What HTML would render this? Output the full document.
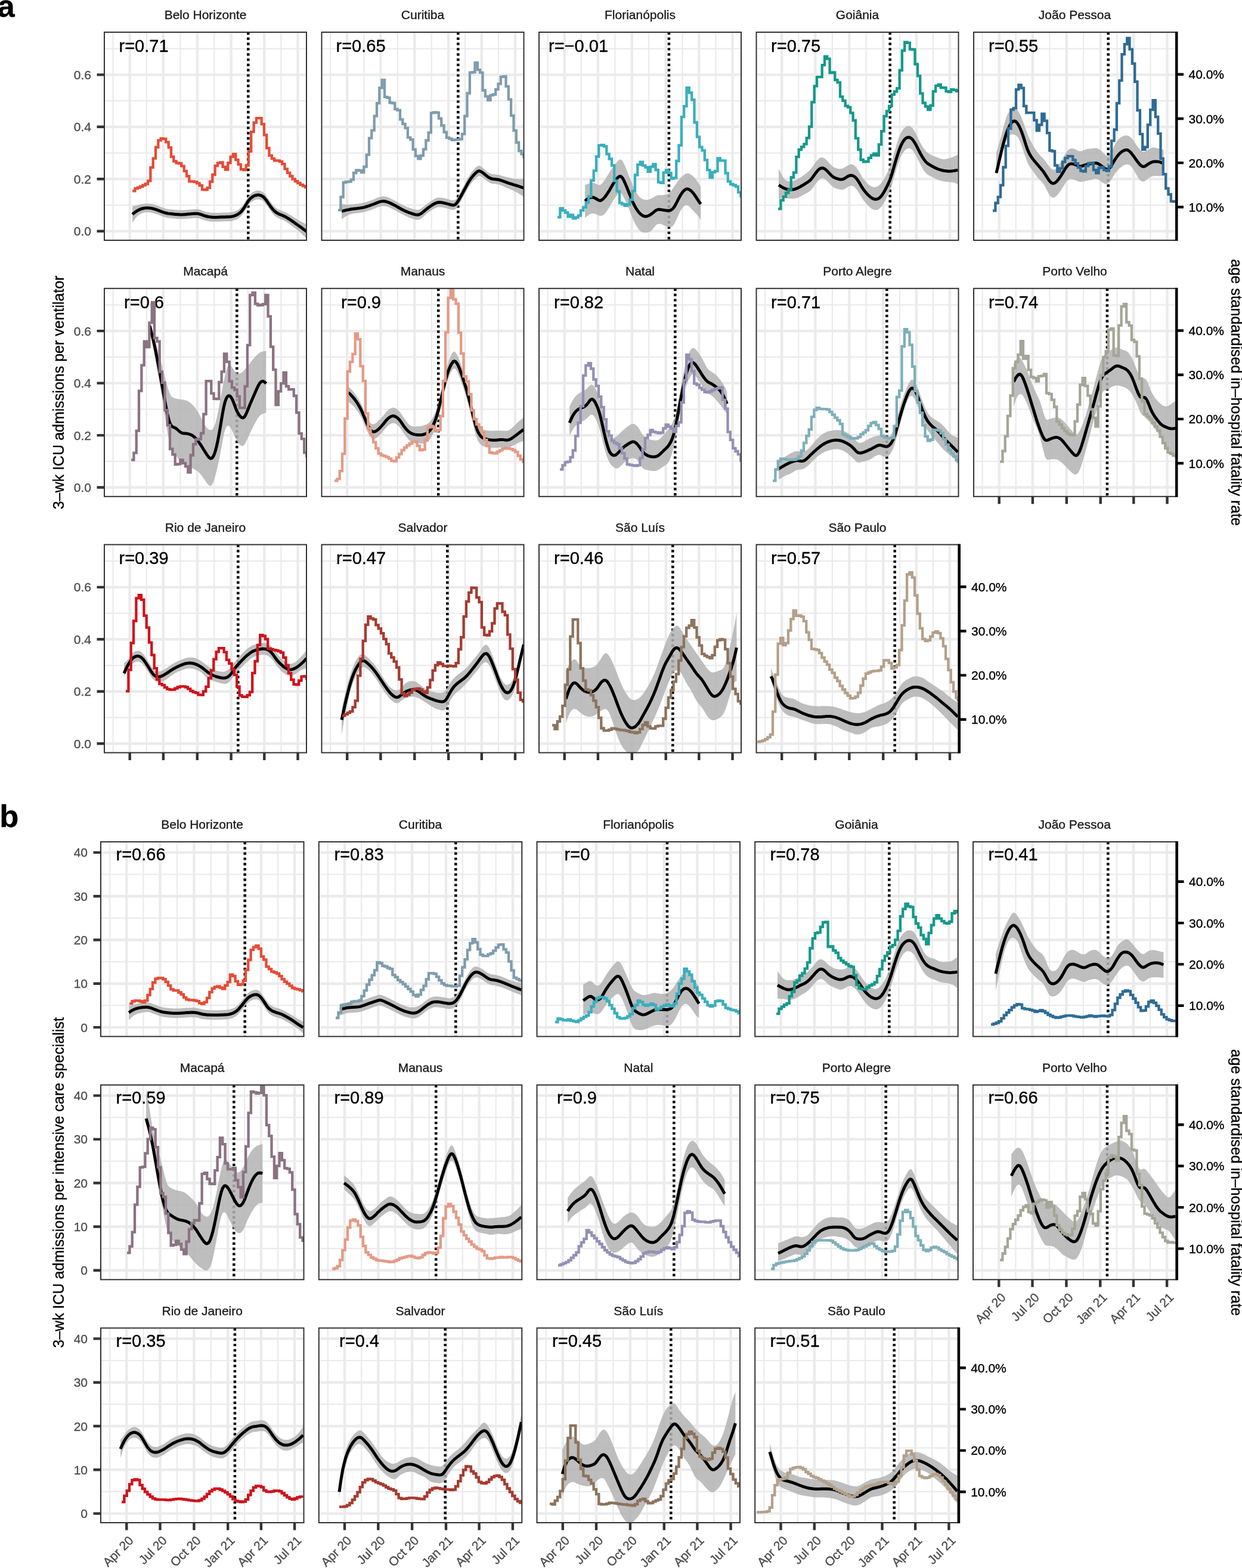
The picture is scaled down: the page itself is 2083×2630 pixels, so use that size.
<!DOCTYPE html>
<html><head><meta charset="utf-8"><title>figure</title>
<style>html,body{margin:0;padding:0;background:#fff;}svg{display:block}text{stroke-width:0.35px}</style></head>
<body><svg width="2083" height="2630" viewBox="0 0 2083 2630" style="font-family:'Liberation Sans',Arial,Helvetica,sans-serif">
<rect width="2083" height="2630" fill="#fff"/>
<g>
<rect x="175" y="54" width="339" height="349" fill="#fff"/>
<svg x="175" y="54" width="339" height="349" overflow="hidden"><g transform="translate(-175,-54)">
<path d="M175,344.1H514M175,256.6H514M175,169.1H514M175,81.6H514M189.6,54V403M245.8,54V403M302.4,54V403M359.2,54V403M415.5,54V403M471.4,54V403" stroke="#ebebeb" stroke-width="2.2" fill="none"/>
<path d="M175,387.8H514M175,300.3H514M175,212.8H514M175,125.4H514M217.7,54V403M273.9,54V403M330.8,54V403M387.6,54V403M443.3,54V403M499.5,54V403" stroke="#ebebeb" stroke-width="4.4" fill="none"/>
<text x="199.5" y="86.9" font-size="29" fill="#000" stroke="#000">r=0.71</text>
<path d="M416.3,54V403" stroke="#000" stroke-width="4.5" stroke-dasharray="4.2 4.6"/>
<path d="M222.1,345.8L224.1,345.4L226.1,345.1L228.1,344.7L230.1,344.3L232.1,343.8L234.1,343.3L236.1,342.8L238.1,342.4L240.1,342L242.1,341.8L244.1,341.6L246.1,341.4L248.1,341.4L250.1,341.5L252.1,341.7L254.1,342L256.1,342.4L258.1,343L260.1,343.6L262.1,344.3L264.1,345L266.1,345.7L268.1,346.5L270.1,347.2L272.1,348L274.1,348.7L276.1,349.3L278.1,349.9L280.1,350.3L282.1,350.7L284.1,350.9L286.1,351.2L288.1,351.4L290.1,351.6L292.1,351.8L294.1,352L296.1,352.1L298.1,352.3L300.2,352.4L302.2,352.5L304.2,352.5L306.2,352.5L308.2,352.4L310.2,352.3L312.2,352.1L314.2,351.9L316.2,351.7L318.2,351.6L320.2,351.4L322.2,351.2L324.2,351.1L326.2,350.9L328.2,350.9L330.2,350.9L332.2,351.1L334.2,351.5L336.2,352.1L338.2,352.8L340.2,353.5L342.2,354.2L344.2,354.9L346.2,355.4L348.2,355.9L350.2,356.2L352.2,356.5L354.2,356.8L356.2,356.9L358.2,357L360.2,357L362.2,357L364.2,357L366.2,356.9L368.2,356.8L370.2,356.7L372.2,356.7L374.2,356.6L376.2,356.5L378.2,356.5L380.2,356.4L382.2,356.4L384.3,356.3L386.3,356.1L388.3,355.8L390.3,355.4L392.3,354.9L394.3,354.2L396.3,353.4L398.3,352.4L400.3,351.2L402.3,349.6L404.3,347.8L406.3,345.4L408.3,342.7L410.3,339.7L412.3,336.3L414.3,333L416.3,329.8L418.3,327.3L420.3,325.2L422.3,323.6L424.3,322.2L426.3,321.1L428.3,320.3L430.3,319.8L432.3,319.6L434.3,319.7L436.3,320.1L438.3,320.7L440.3,321.8L442.3,323.4L444.3,325.5L446.3,328.1L448.3,331L450.3,333.9L452.3,336.8L454.3,339.6L456.3,342.3L458.3,344.6L460.3,346.6L462.3,348.3L464.3,349.7L466.4,350.8L468.4,351.8L470.4,352.6L472.4,353.4L474.4,354.2L476.4,355.1L478.4,356L480.4,357L482.4,358.1L484.4,359.2L486.4,360.4L488.4,361.6L490.4,362.8L492.4,364.1L494.4,365.3L496.4,366.6L498.4,367.8L500.4,368.9L502.4,370.1L504.4,371.2L506.4,372.3L508.4,373.4L510.4,374.4L512.4,375.4L514.4,376.4L514.4,400.4L512.4,398.4L510.4,396.3L508.4,394.4L506.4,392.5L504.4,390.7L502.4,389L500.4,387.4L498.4,385.8L496.4,384.2L494.4,382.6L492.4,381L490.4,379.4L488.4,377.9L486.4,376.4L484.4,375L482.4,373.6L480.4,372.3L478.4,371L476.4,369.9L474.4,369L472.4,368.2L470.4,367.4L468.4,366.6L466.4,365.6L464.3,364.5L462.3,363.1L460.3,361.4L458.3,359.4L456.3,357.1L454.3,354.5L452.3,351.6L450.3,348.7L448.3,345.8L446.3,343L444.3,340.4L442.3,338.2L440.3,336.6L438.3,335.6L436.3,334.9L434.3,334.5L432.3,334.4L430.3,334.6L428.3,335.1L426.3,335.9L424.3,337L422.3,338.4L420.3,340L418.3,342.1L416.3,344.7L414.3,347.8L412.3,351.2L410.3,354.5L408.3,357.5L406.3,360.3L404.3,362.6L402.3,364.5L400.3,366L398.3,367.2L396.3,368.2L394.3,369.1L392.3,369.7L390.3,370.3L388.3,370.7L386.3,370.9L384.3,371.1L382.2,371.2L380.2,371.2L378.2,371.3L376.2,371.3L374.2,371.4L372.2,371.5L370.2,371.6L368.2,371.6L366.2,371.7L364.2,371.8L362.2,371.8L360.2,371.8L358.2,371.8L356.2,371.7L354.2,371.6L352.2,371.4L350.2,371.1L348.2,370.7L346.2,370.2L344.2,369.7L342.2,369.1L340.2,368.4L338.2,367.6L336.2,366.9L334.2,366.3L332.2,365.9L330.2,365.7L328.2,365.7L326.2,365.7L324.2,365.9L322.2,366L320.2,366.2L318.2,366.4L316.2,366.6L314.2,366.7L312.2,366.9L310.2,367.1L308.2,367.2L306.2,367.3L304.2,367.3L302.2,367.3L300.2,367.2L298.1,367.1L296.1,366.9L294.1,366.8L292.1,366.6L290.1,366.4L288.1,366.2L286.1,366L284.1,365.8L282.1,365.5L280.1,365.1L278.1,364.7L276.1,364.1L274.1,363.5L272.1,362.8L270.1,362L268.1,361.3L266.1,360.5L264.1,359.8L262.1,359.1L260.1,358.4L258.1,357.8L256.1,357.3L254.1,356.8L252.1,356.5L250.1,356.2L248.1,356.1L246.1,356.1L244.1,356.2L242.1,356.5L240.1,356.9L238.1,357.6L236.1,358.4L234.1,359.6L232.1,361L230.1,362.8L228.1,364.9L226.1,367.5L224.1,370.4L222.1,373.4Z" fill="#b3b3b3" fill-opacity="0.85"/>
<path d="M222.1,359.4L224.1,357.8L226.1,356.2L228.1,354.8L230.1,353.5L232.1,352.4L234.1,351.4L236.1,350.6L238.1,350L240.1,349.5L242.1,349.1L244.1,348.9L246.1,348.8L248.1,348.8L250.1,348.9L252.1,349.1L254.1,349.4L256.1,349.9L258.1,350.4L260.1,351L262.1,351.7L264.1,352.4L266.1,353.1L268.1,353.9L270.1,354.6L272.1,355.4L274.1,356.1L276.1,356.7L278.1,357.3L280.1,357.7L282.1,358.1L284.1,358.4L286.1,358.6L288.1,358.8L290.1,359L292.1,359.2L294.1,359.4L296.1,359.5L298.1,359.7L300.2,359.8L302.2,359.9L304.2,359.9L306.2,359.9L308.2,359.8L310.2,359.7L312.2,359.5L314.2,359.3L316.2,359.1L318.2,359L320.2,358.8L322.2,358.6L324.2,358.5L326.2,358.3L328.2,358.3L330.2,358.3L332.2,358.5L334.2,358.9L336.2,359.5L338.2,360.2L340.2,360.9L342.2,361.7L344.2,362.3L346.2,362.8L348.2,363.3L350.2,363.6L352.2,363.9L354.2,364.2L356.2,364.3L358.2,364.4L360.2,364.4L362.2,364.4L364.2,364.4L366.2,364.3L368.2,364.2L370.2,364.1L372.2,364.1L374.2,364L376.2,363.9L378.2,363.9L380.2,363.8L382.2,363.8L384.3,363.7L386.3,363.5L388.3,363.2L390.3,362.9L392.3,362.3L394.3,361.7L396.3,360.8L398.3,359.8L400.3,358.6L402.3,357.1L404.3,355.2L406.3,352.8L408.3,350.1L410.3,347.1L412.3,343.8L414.3,340.4L416.3,337.2L418.3,334.7L420.3,332.6L422.3,331L424.3,329.6L426.3,328.5L428.3,327.7L430.3,327.2L432.3,327L434.3,327.1L436.3,327.5L438.3,328.2L440.3,329.2L442.3,330.8L444.3,333L446.3,335.5L448.3,338.4L450.3,341.3L452.3,344.2L454.3,347L456.3,349.7L458.3,352L460.3,354L462.3,355.7L464.3,357.1L466.4,358.2L468.4,359.2L470.4,360L472.4,360.8L474.4,361.6L476.4,362.5L478.4,363.5L480.4,364.6L482.4,365.8L484.4,367.1L486.4,368.4L488.4,369.8L490.4,371.1L492.4,372.5L494.4,374L496.4,375.4L498.4,376.8L500.4,378.2L502.4,379.6L504.4,381L506.4,382.4L508.4,383.9L510.4,385.4L512.4,386.9L514.4,388.4" stroke="#000" stroke-width="5" fill="none" stroke-linecap="butt" stroke-linejoin="round"/>
<path d="M222.1,320.3H226.4V316.2H230.7V314.6H235V312.8H239.4V310.7H243.7V308.5H248V303.4H252.4V280.9H256.7V265.6H261V247H265.4V235.4H269.7V232.5H274V232.9H278.3V238.4H282.7V247.3H287V263H291.3V270.5H295.7V273.5H300V274H304.3V278.6H308.7V286.9H313V295.5H317.3V304.3H321.6V304.3H326V305.2H330.3V307.4H334.6V311H339V317.9H343.3V318.3H347.6V315.1H352V304.7H356.3V293H360.6V278.2H364.9V273.4H369.3V272.3H373.6V279.8H377.9V284.5H382.3V273.2H386.6V262.8H390.9V258.5H395.3V268.2H399.6V275.9H403.9V284H408.2V285.1H412.6V277.4H416.9V253.9H421.2V221.2H425.6V205.7H429.9V198.2H434.2V198.2H438.6V208.1H442.9V226.3H447.2V248.3H451.5V260.8H455.9V266.2H460.2V269.3H464.5V269.3H468.9V270.8H473.2V275.1H477.5V283.4H481.9V289.9H486.2V295.5H490.5V300.3H494.8V304H499.2V307H503.5V309.8H507.8V312H512.2V314.2H514.4V315.3" stroke="#E64B35" stroke-width="4.3" fill="none" stroke-linejoin="miter"/>
</g></svg>
<rect x="175" y="54" width="339" height="349" fill="none" stroke="#333" stroke-width="2"/>
<text x="344.5" y="32.3" text-anchor="middle" font-size="21" fill="#1a1a1a" stroke="#1a1a1a">Belo Horizonte</text>
<text x="153" y="395.3" text-anchor="end" font-size="21" fill="#4d4d4d" stroke="#4d4d4d">0.0</text>
<text x="153" y="307.8" text-anchor="end" font-size="21" fill="#4d4d4d" stroke="#4d4d4d">0.2</text>
<text x="153" y="220.3" text-anchor="end" font-size="21" fill="#4d4d4d" stroke="#4d4d4d">0.4</text>
<text x="153" y="132.9" text-anchor="end" font-size="21" fill="#4d4d4d" stroke="#4d4d4d">0.6</text>
<path d="M162.5,387.8H175M162.5,300.3H175M162.5,212.8H175M162.5,125.4H175" stroke="#333" stroke-width="4.4"/>
</g>
<g>
<rect x="539.5" y="54" width="339" height="349" fill="#fff"/>
<svg x="539.5" y="54" width="339" height="349" overflow="hidden"><g transform="translate(-539.5,-54)">
<path d="M539.5,344.1H878.5M539.5,256.6H878.5M539.5,169.1H878.5M539.5,81.6H878.5M554.1,54V403M610.3,54V403M666.9,54V403M723.7,54V403M780,54V403M835.9,54V403" stroke="#ebebeb" stroke-width="2.2" fill="none"/>
<path d="M539.5,387.8H878.5M539.5,300.3H878.5M539.5,212.8H878.5M539.5,125.4H878.5M582.2,54V403M638.4,54V403M695.3,54V403M752.2,54V403M807.8,54V403M864,54V403" stroke="#ebebeb" stroke-width="4.4" fill="none"/>
<text x="563.5" y="86.9" font-size="29" fill="#000" stroke="#000">r=0.65</text>
<path d="M768.3,54V403" stroke="#000" stroke-width="4.5" stroke-dasharray="4.2 4.6"/>
<path d="M573,342.3L575,342.5L577,342.6L579,342.8L581.1,342.9L583.1,343L585.1,343L587.1,342.9L589.1,342.8L591.1,342.7L593.1,342.5L595.1,342.3L597.1,342.1L599.1,341.8L601.1,341.6L603.1,341.2L605.1,340.9L607.1,340.5L609.1,340.1L611.1,339.6L613.1,339L615.1,338.4L617.1,337.7L619.1,337.1L621.1,336.4L623.1,335.7L625.1,334.9L627.1,334.2L629.1,333.4L631.1,332.6L633.1,331.8L635.1,331L637.1,330.4L639.1,329.9L641.1,329.6L643.1,329.5L645.1,329.7L647.1,330L649.1,330.6L651.1,331.3L653.1,332.1L655.1,333L657.1,333.9L659.1,334.9L661.1,335.9L663.2,337L665.2,338.1L667.2,339.3L669.2,340.5L671.2,341.6L673.2,342.8L675.2,343.8L677.2,344.8L679.2,345.7L681.2,346.6L683.2,347.4L685.2,348.1L687.2,348.8L689.2,349.5L691.2,350.1L693.2,350.7L695.2,351.2L697.2,351.7L699.2,351.9L701.2,351.8L703.2,351.3L705.2,350.4L707.2,349.1L709.2,347.6L711.2,346L713.2,344.3L715.2,342.7L717.2,341.1L719.2,339.7L721.2,338.3L723.2,337L725.2,335.7L727.2,334.5L729.2,333.5L731.2,332.5L733.2,331.8L735.2,331.4L737.2,331.2L739.2,331.4L741.2,331.7L743.2,332.1L745.2,332.6L747.3,333.1L749.3,333.6L751.3,334.1L753.3,334.7L755.3,335.2L757.3,335.7L759.3,336L761.3,335.9L763.3,335.2L765.3,333.5L767.3,330.8L769.3,327.5L771.3,324L773.3,320.3L775.3,316.6L777.3,312.8L779.3,308.9L781.3,305L783.3,301.1L785.3,297.4L787.3,294.1L789.3,291.1L791.3,288.4L793.3,285.9L795.3,283.6L797.3,281.5L799.3,279.7L801.3,278.4L803.3,277.9L805.3,278.3L807.3,279.5L809.3,281.2L811.3,283L813.3,284.7L815.3,286.4L817.3,288L819.3,289.4L821.3,290.5L823.3,291.4L825.3,292L827.3,292.3L829.3,292.6L831.4,292.7L833.4,292.9L835.4,293.2L837.4,293.6L839.4,294.1L841.4,294.7L843.4,295.3L845.4,295.9L847.4,296.5L849.4,297L851.4,297.5L853.4,298L855.4,298.4L857.4,298.8L859.4,299.2L861.4,299.5L863.4,299.9L865.4,300.1L867.4,300.3L869.4,300.4L871.4,300.5L873.4,300.5L875.4,300.4L877.4,300.3L878.4,300.3L878.4,330.3L877.4,329.6L875.4,328.2L873.4,326.8L871.4,325.4L869.4,324.2L867.4,323L865.4,321.9L863.4,320.9L861.4,320L859.4,319.1L857.4,318.2L855.4,317.4L853.4,316.6L851.4,315.7L849.4,314.8L847.4,313.9L845.4,313L843.4,312.1L841.4,311.2L839.4,310.4L837.4,309.7L835.4,309.2L833.4,308.9L831.4,308.6L829.3,308.5L827.3,308.3L825.3,308L823.3,307.4L821.3,306.5L819.3,305.3L817.3,303.9L815.3,302.3L813.3,300.7L811.3,299.1L809.3,297.6L807.3,296.3L805.3,295.6L803.3,295.6L801.3,296.4L799.3,297.8L797.3,299.7L795.3,301.8L793.3,304.1L791.3,306.5L789.3,309.1L787.3,312L785.3,315.1L783.3,318.6L781.3,322.2L779.3,325.9L777.3,329.5L775.3,333.1L773.3,336.7L771.3,340.2L769.3,343.6L767.3,346.8L765.3,349.5L763.3,351.2L761.3,352L759.3,352L757.3,351.7L755.3,351.2L753.3,350.7L751.3,350.1L749.3,349.6L747.3,349.1L745.2,348.6L743.2,348.1L741.2,347.7L739.2,347.4L737.2,347.3L735.2,347.4L733.2,347.9L731.2,348.5L729.2,349.4L727.2,350.5L725.2,351.7L723.2,353L721.2,354.3L719.2,355.7L717.2,357.2L715.2,358.9L713.2,360.6L711.2,362.5L709.2,364.2L707.2,365.9L705.2,367.2L703.2,368.2L701.2,368.7L699.2,368.7L697.2,368.4L695.2,367.9L693.2,367.3L691.2,366.7L689.2,365.9L687.2,365.2L685.2,364.4L683.2,363.6L681.2,362.7L679.2,361.8L677.2,360.8L675.2,359.8L673.2,358.7L671.2,357.6L669.2,356.4L667.2,355.3L665.2,354.1L663.2,353L661.1,351.9L659.1,350.9L657.1,349.9L655.1,349L653.1,348.1L651.1,347.3L649.1,346.6L647.1,346.1L645.1,345.7L643.1,345.5L641.1,345.6L639.1,345.9L637.1,346.4L635.1,347L633.1,347.8L631.1,348.6L629.1,349.4L627.1,350.2L625.1,351L623.1,351.7L621.1,352.4L619.1,353.1L617.1,353.8L615.1,354.4L613.1,355L611.1,355.6L609.1,356.1L607.1,356.5L605.1,356.8L603.1,357L601.1,357.2L599.1,357.4L597.1,357.5L595.1,357.7L593.1,358L591.1,358.4L589.1,358.8L587.1,359.5L585.1,360.3L583.1,361.3L581.1,362.4L579,363.5L577,364.8L575,366.1L573,367.4Z" fill="#b3b3b3" fill-opacity="0.85"/>
<path d="M573,354.4L575,353.9L577,353.4L579,352.9L581.1,352.4L583.1,352L585.1,351.6L587.1,351.2L589.1,350.8L591.1,350.6L593.1,350.3L595.1,350.1L597.1,349.9L599.1,349.6L601.1,349.4L603.1,349.1L605.1,348.8L607.1,348.5L609.1,348.1L611.1,347.6L613.1,347L615.1,346.4L617.1,345.7L619.1,345.1L621.1,344.4L623.1,343.7L625.1,343L627.1,342.2L629.1,341.4L631.1,340.6L633.1,339.8L635.1,339L637.1,338.4L639.1,337.9L641.1,337.6L643.1,337.5L645.1,337.7L647.1,338L649.1,338.6L651.1,339.3L653.1,340.1L655.1,341L657.1,341.9L659.1,342.9L661.1,343.9L663.2,345L665.2,346.1L667.2,347.3L669.2,348.5L671.2,349.6L673.2,350.7L675.2,351.8L677.2,352.8L679.2,353.8L681.2,354.6L683.2,355.5L685.2,356.3L687.2,357L689.2,357.7L691.2,358.4L693.2,359L695.2,359.6L697.2,360L699.2,360.3L701.2,360.3L703.2,359.8L705.2,358.8L707.2,357.5L709.2,355.9L711.2,354.2L713.2,352.5L715.2,350.8L717.2,349.2L719.2,347.7L721.2,346.3L723.2,345L725.2,343.7L727.2,342.5L729.2,341.4L731.2,340.5L733.2,339.8L735.2,339.4L737.2,339.3L739.2,339.4L741.2,339.7L743.2,340.1L745.2,340.6L747.3,341.1L749.3,341.6L751.3,342.1L753.3,342.7L755.3,343.2L757.3,343.7L759.3,344L761.3,344L763.3,343.2L765.3,341.5L767.3,338.8L769.3,335.6L771.3,332.1L773.3,328.5L775.3,324.8L777.3,321.1L779.3,317.4L781.3,313.6L783.3,309.8L785.3,306.3L787.3,303L789.3,300.1L791.3,297.5L793.3,295L795.3,292.7L797.3,290.6L799.3,288.8L801.3,287.4L803.3,286.7L805.3,286.9L807.3,287.9L809.3,289.4L811.3,291L813.3,292.7L815.3,294.3L817.3,295.9L819.3,297.4L821.3,298.5L823.3,299.4L825.3,300L827.3,300.3L829.3,300.5L831.4,300.7L833.4,300.9L835.4,301.2L837.4,301.7L839.4,302.3L841.4,302.9L843.4,303.7L845.4,304.4L847.4,305.2L849.4,305.9L851.4,306.6L853.4,307.3L855.4,307.9L857.4,308.5L859.4,309.1L861.4,309.8L863.4,310.4L865.4,311L867.4,311.6L869.4,312.3L871.4,313L873.4,313.6L875.4,314.3L877.4,315L878.4,315.3" stroke="#000" stroke-width="5" fill="none" stroke-linecap="butt" stroke-linejoin="round"/>
<path d="M567,352.4H571.4V330.5H575.7V306H580V305H584.4V304.5H588.7V301.4H593V290H597.3V285.5H601.7V286H606V289.2H610.3V279.7H614.7V259.7H619V231.6H623.3V218.6H627.7V194.7H632V173.2H636.3V147.4H640.6V134.1H645V162.6H649.3V163.9H653.6V172.4H658V173H662.3V183H666.6V184.9H671V200.4H675.3V207.9H679.6V214.7H683.9V230.6H688.3V234.2H692.6V250.7H696.9V261.7H701.3V266.3H705.6V261H709.9V250.3H714.3V235.5H718.6V222.4H722.9V189.4H727.2V188.4H731.6V188.8H735.9V198.7H740.2V210.5H744.6V221.7H748.9V230.9H753.2V232.7H757.6V234.9H761.9V234.3H766.2V234.2H770.5V233.4H774.9V224.6H779.2V194.7H783.5V156.4H787.9V121.7H792.2V121.1H796.5V105.1H800.9V117.1H805.2V121.8H809.5V151.5H813.8V161.6H818.2V168.1H822.5V159.6H826.8V158.5H831.2V149.9H835.5V140.7H839.8V128.8H844.2V128.1H848.5V144.8H852.8V166.7H857.1V193.8H861.5V218.9H865.8V239H870.1V253.2H874.5V258.4H878.4V265.3" stroke="#7E9DAD" stroke-width="4.3" fill="none" stroke-linejoin="miter"/>
</g></svg>
<rect x="539.5" y="54" width="339" height="349" fill="none" stroke="#333" stroke-width="2"/>
<text x="709" y="32.3" text-anchor="middle" font-size="21" fill="#1a1a1a" stroke="#1a1a1a">Curitiba</text>
</g>
<g>
<rect x="904" y="54" width="339" height="349" fill="#fff"/>
<svg x="904" y="54" width="339" height="349" overflow="hidden"><g transform="translate(-904,-54)">
<path d="M904,344.1H1243M904,256.6H1243M904,169.1H1243M904,81.6H1243M918.6,54V403M974.8,54V403M1031.4,54V403M1088.2,54V403M1144.5,54V403M1200.4,54V403" stroke="#ebebeb" stroke-width="2.2" fill="none"/>
<path d="M904,387.8H1243M904,300.3H1243M904,212.8H1243M904,125.4H1243M946.7,54V403M1002.9,54V403M1059.8,54V403M1116.7,54V403M1172.3,54V403M1228.5,54V403" stroke="#ebebeb" stroke-width="4.4" fill="none"/>
<text x="920.1" y="86.9" font-size="29" fill="#000" stroke="#000">r=−0.01</text>
<path d="M1121.9,54V403" stroke="#000" stroke-width="4.5" stroke-dasharray="4.2 4.6"/>
<path d="M981.1,310.3L983.1,309.5L985.1,308.7L987.1,308L989.1,307.3L991.1,306.8L993.1,306.6L995.1,306.8L997.1,307.3L999.1,308.1L1001.1,309.1L1003.1,310L1005.1,310.4L1007.1,309.8L1009.1,308.2L1011.1,305.9L1013.1,303.2L1015.1,300.2L1017.1,297.2L1019.1,294L1021.1,290.9L1023.1,287.7L1025.1,284.6L1027.2,281.6L1029.2,278.7L1031.2,276L1033.2,273.4L1035.2,271L1037.2,268.9L1039.2,267.7L1041.2,267.6L1043.2,269L1045.2,271.9L1047.2,275.9L1049.2,280.5L1051.2,285.5L1053.2,290.7L1055.2,295.9L1057.2,301.1L1059.2,306.1L1061.2,310.8L1063.2,315.1L1065.2,319.1L1067.2,322.7L1069.2,325.9L1071.2,328.7L1073.2,330.9L1075.2,332.5L1077.2,333.7L1079.2,334.5L1081.2,335L1083.2,335.2L1085.2,335.2L1087.2,334.9L1089.2,334.3L1091.2,333.6L1093.2,332.6L1095.2,331.5L1097.2,330.2L1099.2,329L1101.2,328.1L1103.2,327.4L1105.2,327.2L1107.2,327.2L1109.2,327.3L1111.3,327.3L1113.3,327.1L1115.3,326.8L1117.3,326.4L1119.3,325.7L1121.3,324.5L1123.3,322.8L1125.3,320.5L1127.3,317.8L1129.3,314.9L1131.3,312L1133.3,309.1L1135.3,306.3L1137.3,303.6L1139.3,301L1141.3,298.6L1143.3,296.4L1145.3,294.5L1147.3,292.9L1149.3,291.7L1151.3,290.9L1153.3,290.7L1155.3,291.1L1157.3,291.9L1159.3,293.2L1161.3,294.7L1163.3,296.5L1165.3,298.7L1167.3,301.2L1169.3,304L1171.3,306.9L1173.3,310.1L1175.3,313.3L1175.3,369.4L1173.3,366.1L1171.3,363.1L1169.3,360.5L1167.3,358.3L1165.3,356.2L1163.3,354.2L1161.3,352L1159.3,349.7L1157.3,347.5L1155.3,345.6L1153.3,344.4L1151.3,344L1149.3,344.5L1147.3,345.8L1145.3,347.7L1143.3,350.4L1141.3,353.7L1139.3,357.6L1137.3,362L1135.3,366.6L1133.3,371L1131.3,374.9L1129.3,377.9L1127.3,379.9L1125.3,380.9L1123.3,381.2L1121.3,381L1119.3,380.4L1117.3,379.6L1115.3,378.7L1113.3,377.8L1111.3,377L1109.2,376.3L1107.2,375.6L1105.2,375.4L1103.2,375.7L1101.2,376.8L1099.2,378.7L1097.2,381.2L1095.2,383.7L1093.2,385.9L1091.2,387.7L1089.2,388.9L1087.2,389.6L1085.2,390.1L1083.2,390.3L1081.2,390.2L1079.2,389.9L1077.2,389.3L1075.2,388.4L1073.2,386.8L1071.2,384.7L1069.2,382.1L1067.2,378.8L1065.2,375.2L1063.2,371.2L1061.2,366.7L1059.2,361.7L1057.2,356.4L1055.2,351.2L1053.2,346.3L1051.2,341.7L1049.2,337.4L1047.2,333.3L1045.2,329.4L1043.2,326.1L1041.2,324.1L1039.2,323.8L1037.2,324.9L1035.2,326.9L1033.2,329.3L1031.2,332.1L1029.2,335.1L1027.2,338.5L1025.1,342L1023.1,345.5L1021.1,348.9L1019.1,352.1L1017.1,355L1015.1,357.7L1013.1,359.8L1011.1,361.2L1009.1,362L1007.1,362.1L1005.1,361.7L1003.1,361L1001.1,360L999.1,359.1L997.1,358.3L995.1,357.9L993.1,357.9L991.1,358.4L989.1,359.4L987.1,360.7L985.1,362.2L983.1,363.7L981.1,365.4Z" fill="#b3b3b3" fill-opacity="0.85"/>
<path d="M981.1,337.3L983.1,335.5L985.1,333.9L987.1,332.6L989.1,331.6L991.1,331L993.1,330.8L995.1,331.1L997.1,331.9L999.1,332.9L1001.1,334.2L1003.1,335.5L1005.1,336.3L1007.1,336.4L1009.1,335.6L1011.1,334.1L1013.1,332L1015.1,329.6L1017.1,326.9L1019.1,323.9L1021.1,320.8L1023.1,317.4L1025.1,313.9L1027.2,310.4L1029.2,307.1L1031.2,304.1L1033.2,301.3L1035.2,298.9L1037.2,296.9L1039.2,295.7L1041.2,295.8L1043.2,297.6L1045.2,300.7L1047.2,304.7L1049.2,309.2L1051.2,313.9L1053.2,318.9L1055.2,324L1057.2,329.1L1059.2,334.1L1061.2,338.8L1063.2,343L1065.2,346.8L1067.2,350.2L1069.2,353.2L1071.2,355.8L1073.2,358.1L1075.2,359.9L1077.2,361.3L1079.2,362.3L1081.2,362.9L1083.2,363L1085.2,362.7L1087.2,362L1089.2,361L1091.2,359.8L1093.2,358.4L1095.2,356.8L1097.2,355.1L1099.2,353.5L1101.2,352.3L1103.2,351.5L1105.2,351.3L1107.2,351.4L1109.2,351.8L1111.3,352.1L1113.3,352.5L1115.3,352.8L1117.3,353.1L1119.3,353.3L1121.3,353.3L1123.3,353L1125.3,352.3L1127.3,351L1129.3,349L1131.3,346.2L1133.3,342.7L1135.3,338.8L1137.3,334.8L1139.3,330.9L1141.3,327.4L1143.3,324.3L1145.3,321.6L1147.3,319.5L1149.3,318L1151.3,317.1L1153.3,317L1155.3,317.6L1157.3,318.8L1159.3,320.4L1161.3,322.5L1163.3,324.8L1165.3,327.5L1167.3,330.5L1169.3,333.6L1171.3,336.7L1173.3,339.5L1175.3,342.3" stroke="#000" stroke-width="5" fill="none" stroke-linecap="butt" stroke-linejoin="round"/>
<path d="M935,364.4H939.4V349.4H943.7V352.9H948V356.5H952.4V363.4H956.7V360.5H961V366.3H965.3V364.7H969.7V361.7H974V352.9H978.3V347.6H982.7V339.6H987V329.5H991.3V302.7H995.7V286.4H1000V262.6H1004.3V243.8H1008.6V243.2H1013V245.5H1017.3V258.4H1021.6V266.5H1026V277.5H1030.3V303.4H1034.6V320.8H1039V340.3H1043.3V342.5H1047.6V345H1051.9V343H1056.3V335.1H1060.6V320.4H1064.9V293.5H1069.3V276.2H1073.6V271.6H1077.9V277.6H1082.3V280.7H1086.6V287.9H1090.9V279.6H1095.2V275.3H1099.6V285H1103.9V305.7H1108.2V306.8H1112.6V289.4H1116.9V285.3H1121.2V290.2H1125.6V299.7H1129.9V298.3H1134.2V270H1138.5V243.7H1142.9V196.1H1147.2V178.2H1151.5V147.1H1155.9V155.5H1160.2V167.4H1164.5V205.5H1168.9V229.6H1173.2V246.7H1177.5V252.4H1181.8V268.3H1186.2V285.1H1190.5V297.8H1194.8V288.8H1199.2V286.9H1203.5V265.3H1207.8V269.3H1212.2V269.3H1216.5V290.3H1220.8V304.3H1225.1V309H1229.5V310.5H1233.8V313.2H1238.1V322.6H1242.4V331.3" stroke="#38AFBD" stroke-width="4.3" fill="none" stroke-linejoin="miter"/>
</g></svg>
<rect x="904" y="54" width="339" height="349" fill="none" stroke="#333" stroke-width="2"/>
<text x="1073.5" y="32.3" text-anchor="middle" font-size="21" fill="#1a1a1a" stroke="#1a1a1a">Florianópolis</text>
</g>
<g>
<rect x="1268.5" y="54" width="339" height="349" fill="#fff"/>
<svg x="1268.5" y="54" width="339" height="349" overflow="hidden"><g transform="translate(-1268.5,-54)">
<path d="M1268.5,344.1H1607.5M1268.5,256.6H1607.5M1268.5,169.1H1607.5M1268.5,81.6H1607.5M1283.1,54V403M1339.3,54V403M1395.9,54V403M1452.7,54V403M1509,54V403M1564.9,54V403" stroke="#ebebeb" stroke-width="2.2" fill="none"/>
<path d="M1268.5,387.8H1607.5M1268.5,300.3H1607.5M1268.5,212.8H1607.5M1268.5,125.4H1607.5M1311.2,54V403M1367.4,54V403M1424.3,54V403M1481.2,54V403M1536.8,54V403M1593,54V403" stroke="#ebebeb" stroke-width="4.4" fill="none"/>
<text x="1293.1" y="86.9" font-size="29" fill="#000" stroke="#000">r=0.75</text>
<path d="M1492.7,54V403" stroke="#000" stroke-width="4.5" stroke-dasharray="4.2 4.6"/>
<path d="M1306,283.3L1308.1,287.3L1310.1,291.2L1312.1,294.8L1314.1,298L1316.1,300.6L1318.1,302.4L1320.1,303.4L1322.1,304L1324.1,304.2L1326.1,304.2L1328.1,304L1330.1,303.6L1332.1,303L1334.1,302.2L1336.1,301.2L1338.1,300.1L1340.1,299L1342.1,297.8L1344.1,296.5L1346.1,295.1L1348.1,293.7L1350.1,292.2L1352.1,290.7L1354.1,289L1356.1,287.3L1358.1,285.3L1360.1,283L1362.1,280.5L1364.1,277.7L1366.1,274.8L1368.1,272.1L1370.1,269.5L1372.1,267.4L1374.1,265.6L1376.1,264.4L1378.1,263.9L1380.1,264.2L1382.1,265.2L1384.1,266.6L1386.1,268.5L1388.1,270.5L1390.1,272.8L1392.2,275L1394.2,277.1L1396.2,278.9L1398.2,280.3L1400.2,281.4L1402.2,282.2L1404.2,282.7L1406.2,283.1L1408.2,283.3L1410.2,283.1L1412.2,282.7L1414.2,282L1416.2,281L1418.2,279.8L1420.2,278.6L1422.2,277.4L1424.2,276.5L1426.2,275.8L1428.2,275.5L1430.2,275.9L1432.2,276.9L1434.2,278.7L1436.2,280.9L1438.2,283.7L1440.2,286.8L1442.2,290.3L1444.2,293.7L1446.2,297L1448.2,299.9L1450.2,302.6L1452.2,305L1454.2,307.2L1456.2,309.1L1458.2,310.7L1460.2,312.1L1462.2,313.1L1464.2,313.7L1466.2,314L1468.2,313.8L1470.2,313.2L1472.2,312.2L1474.2,310.8L1476.3,308.9L1478.3,306.5L1480.3,303.6L1482.3,300.4L1484.3,296.9L1486.3,293.2L1488.3,289.2L1490.3,284.9L1492.3,280.1L1494.3,274.6L1496.3,268.3L1498.3,261.5L1500.3,254.4L1502.3,247.5L1504.3,240.8L1506.3,234.5L1508.3,228.9L1510.3,224.1L1512.3,220.3L1514.3,217.3L1516.3,215.1L1518.3,213.5L1520.3,212.2L1522.3,211.5L1524.3,211.3L1526.3,211.8L1528.3,213L1530.3,215L1532.3,217.5L1534.3,220.7L1536.3,224.5L1538.3,228.6L1540.3,232.9L1542.3,236.9L1544.3,240.7L1546.3,244.2L1548.3,247.4L1550.3,250.3L1552.3,252.8L1554.3,254.9L1556.3,256.6L1558.4,258L1560.4,259.1L1562.4,260.2L1564.4,261.2L1566.4,262L1568.4,262.8L1570.4,263.6L1572.4,264.3L1574.4,265L1576.4,265.7L1578.4,266.3L1580.4,266.8L1582.4,267L1584.4,267L1586.4,266.8L1588.4,266.3L1590.4,265.8L1592.4,265.2L1594.4,264.6L1596.4,263.9L1598.4,263.1L1600.4,262.2L1602.4,261.3L1604.4,260.3L1606.4,259.2L1606.4,309.3L1604.4,308.2L1602.4,307.3L1600.4,306.5L1598.4,306L1596.4,305.7L1594.4,305.5L1592.4,305.3L1590.4,305.1L1588.4,305L1586.4,304.8L1584.4,304.5L1582.4,304.2L1580.4,303.8L1578.4,303.3L1576.4,302.7L1574.4,302L1572.4,301.2L1570.4,300.4L1568.4,299.4L1566.4,298.4L1564.4,297.4L1562.4,296.4L1560.4,295.4L1558.4,294.4L1556.3,293.2L1554.3,291.8L1552.3,289.8L1550.3,287.2L1548.3,284.1L1546.3,280.6L1544.3,277L1542.3,273.1L1540.3,269.2L1538.3,265.1L1536.3,261.2L1534.3,257.6L1532.3,254.6L1530.3,252L1528.3,250.1L1526.3,248.9L1524.3,248.5L1522.3,248.9L1520.3,250L1518.3,251.6L1516.3,253.7L1514.3,256.4L1512.3,259.8L1510.3,264L1508.3,268.9L1506.3,274.7L1504.3,280.9L1502.3,287.5L1500.3,294.5L1498.3,301.5L1496.3,308.4L1494.3,314.6L1492.3,320.1L1490.3,325L1488.3,329.3L1486.3,333.2L1484.3,337L1482.3,340.5L1480.3,343.8L1478.3,346.6L1476.3,348.8L1474.2,350.5L1472.2,351.6L1470.2,352.2L1468.2,352.3L1466.2,352L1464.2,351.3L1462.2,350.2L1460.2,348.8L1458.2,347.1L1456.2,345.2L1454.2,343.2L1452.2,341L1450.2,338.6L1448.2,335.9L1446.2,333L1444.2,329.8L1442.2,326.3L1440.2,322.9L1438.2,319.7L1436.2,317L1434.2,314.7L1432.2,313L1430.2,311.9L1428.2,311.6L1426.2,311.8L1424.2,312.5L1422.2,313.5L1420.2,314.7L1418.2,315.9L1416.2,317.1L1414.2,317.9L1412.2,318.2L1410.2,318.1L1408.2,317.8L1406.2,317.3L1404.2,316.7L1402.2,316.1L1400.2,315.3L1398.2,314.3L1396.2,312.9L1394.2,311.2L1392.2,309L1390.1,306.8L1388.1,304.6L1386.1,302.6L1384.1,300.9L1382.1,299.7L1380.1,299L1378.1,299L1376.1,299.7L1374.1,301.2L1372.1,303.2L1370.1,305.5L1368.1,308.2L1366.1,311L1364.1,313.9L1362.1,316.6L1360.1,318.9L1358.1,320.7L1356.1,322.1L1354.1,323.3L1352.1,324.3L1350.1,325.4L1348.1,326.4L1346.1,327.5L1344.1,328.6L1342.1,329.6L1340.1,330.6L1338.1,331.5L1336.1,332.2L1334.1,332.7L1332.1,333.1L1330.1,333.3L1328.1,333.3L1326.1,333.3L1324.1,333.1L1322.1,332.9L1320.1,332.7L1318.1,332.5L1316.1,332.5L1314.1,332.5L1312.1,332.6L1310.1,332.8L1308.1,333.1L1306,333.3Z" fill="#b3b3b3" fill-opacity="0.85"/>
<path d="M1306,310.3L1308.1,311.6L1310.1,312.9L1312.1,314.1L1314.1,315.2L1316.1,316.1L1318.1,316.9L1320.1,317.5L1322.1,317.9L1324.1,318.1L1326.1,318.2L1328.1,318.1L1330.1,317.9L1332.1,317.5L1334.1,316.9L1336.1,316.2L1338.1,315.3L1340.1,314.3L1342.1,313.2L1344.1,312L1346.1,310.8L1348.1,309.6L1350.1,308.3L1352.1,307.1L1354.1,305.9L1356.1,304.5L1358.1,302.9L1360.1,300.9L1362.1,298.5L1364.1,295.8L1366.1,292.9L1368.1,290.1L1370.1,287.6L1372.1,285.4L1374.1,283.7L1376.1,282.4L1378.1,281.8L1380.1,281.9L1382.1,282.7L1384.1,283.9L1386.1,285.6L1388.1,287.5L1390.1,289.8L1392.2,292L1394.2,294.1L1396.2,295.9L1398.2,297.3L1400.2,298.3L1402.2,299.1L1404.2,299.7L1406.2,300.3L1408.2,300.7L1410.2,301L1412.2,300.9L1414.2,300.4L1416.2,299.5L1418.2,298.2L1420.2,296.8L1422.2,295.6L1424.2,294.8L1426.2,294.3L1428.2,294.3L1430.2,294.7L1432.2,295.7L1434.2,297.2L1436.2,299.2L1438.2,301.8L1440.2,304.8L1442.2,308.3L1444.2,311.7L1446.2,315L1448.2,317.9L1450.2,320.5L1452.2,322.9L1454.2,325.2L1456.2,327.2L1458.2,329.1L1460.2,330.8L1462.2,332.2L1464.2,333.3L1466.2,334L1468.2,334.3L1470.2,334.1L1472.2,333.6L1474.2,332.5L1476.3,330.8L1478.3,328.6L1480.3,325.8L1482.3,322.5L1484.3,319L1486.3,315.2L1488.3,311.2L1490.3,306.9L1492.3,302.1L1494.3,296.6L1496.3,290.3L1498.3,283.5L1500.3,276.5L1502.3,269.5L1504.3,262.9L1506.3,256.7L1508.3,250.9L1510.3,245.8L1512.3,241.5L1514.3,237.9L1516.3,235L1518.3,232.7L1520.3,231.2L1522.3,230.4L1524.3,230.2L1526.3,230.8L1528.3,232.1L1530.3,234L1532.3,236.6L1534.3,239.6L1536.3,243.2L1538.3,247.1L1540.3,251.1L1542.3,255L1544.3,258.7L1546.3,262.2L1548.3,265.4L1550.3,268.3L1552.3,270.9L1554.3,272.9L1556.3,274.6L1558.4,275.9L1560.4,277.1L1562.4,278.3L1564.4,279.4L1566.4,280.5L1568.4,281.5L1570.4,282.4L1572.4,283.2L1574.4,284L1576.4,284.7L1578.4,285.3L1580.4,285.8L1582.4,286.2L1584.4,286.6L1586.4,286.8L1588.4,287L1590.4,287.2L1592.4,287.2L1594.4,287.1L1596.4,286.9L1598.4,286.6L1600.4,286.3L1602.4,286L1604.4,285.6L1606.4,285.3" stroke="#000" stroke-width="5" fill="none" stroke-linecap="butt" stroke-linejoin="round"/>
<path d="M1305,350.4H1309.4V335.9H1313.7V329.8H1318V323.3H1322.4V318.3H1326.7V297.5H1331V289.3H1335.4V263.2H1339.7V250.8H1344V246.3H1348.3V241.7H1352.7V231.4H1357V212.5H1361.3V171.4H1365.7V144.4H1370V129.1H1374.3V129.1H1378.7V109.1H1383V94.7H1387.3V98.7H1391.6V122H1396V121.3H1400.3V134.2H1404.6V138.4H1409V162.1H1413.3V168.8H1417.6V177.6H1422V179.9H1426.3V189.4H1430.6V202H1434.9V231.9H1439.3V250.8H1443.6V268H1447.9V271.3H1452.3V271H1456.6V264.8H1460.9V260.4H1465.3V257.7H1469.6V260.6H1473.9V242.3H1478.2V220.2H1482.6V194.9H1486.9V186.4H1491.2V177.8H1495.6V158.6H1499.9V153.5H1504.2V148.2H1508.6V118H1512.9V84.8H1517.2V70.6H1521.5V71.8H1525.9V82.7H1530.2V83H1534.5V107.6H1538.9V127.4H1543.2V156.7H1547.5V172.6H1551.9V178.7H1556.2V184.2H1560.5V177H1564.8V153.3H1569.2V143.9H1573.5V141.8H1577.8V147H1582.2V147.1H1586.5V153.2H1590.8V154.1H1595.2V150.1H1599.5V150.8H1603.8V152.8H1606.4V155.1" stroke="#13998A" stroke-width="4.3" fill="none" stroke-linejoin="miter"/>
</g></svg>
<rect x="1268.5" y="54" width="339" height="349" fill="none" stroke="#333" stroke-width="2"/>
<text x="1438" y="32.3" text-anchor="middle" font-size="21" fill="#1a1a1a" stroke="#1a1a1a">Goiânia</text>
</g>
<g>
<rect x="1633" y="54" width="339" height="349" fill="#fff"/>
<svg x="1633" y="54" width="339" height="349" overflow="hidden"><g transform="translate(-1633,-54)">
<path d="M1633,344.1H1972M1633,256.6H1972M1633,169.1H1972M1633,81.6H1972M1647.6,54V403M1703.8,54V403M1760.4,54V403M1817.2,54V403M1873.5,54V403M1929.4,54V403" stroke="#ebebeb" stroke-width="2.2" fill="none"/>
<path d="M1633,387.8H1972M1633,300.3H1972M1633,212.8H1972M1633,125.4H1972M1675.7,54V403M1731.9,54V403M1788.8,54V403M1845.7,54V403M1901.3,54V403M1957.5,54V403" stroke="#ebebeb" stroke-width="4.4" fill="none"/>
<text x="1658.1" y="86.9" font-size="29" fill="#000" stroke="#000">r=0.55</text>
<path d="M1858.7,54V403" stroke="#000" stroke-width="4.5" stroke-dasharray="4.2 4.6"/>
<path d="M1671,255.2L1673.1,248.9L1675.1,242.5L1677.1,235.8L1679.1,228.6L1681.1,220.8L1683.1,212.7L1685.1,205.1L1687.1,198.5L1689.1,193.2L1691.1,189.2L1693.1,186.1L1695.1,183.5L1697.1,181.5L1699.1,180.3L1701.1,180.1L1703.1,181L1705.1,182.9L1707.1,185.6L1709.1,188.9L1711.1,192.6L1713.1,196.9L1715.1,201.8L1717.1,207.3L1719.1,213.2L1721.1,219.1L1723.1,224.6L1725.1,229.4L1727.1,233.7L1729.1,237.5L1731.1,241.2L1733.1,244.7L1735.1,248L1737.1,251.3L1739.1,254.2L1741.1,256.9L1743.1,259.3L1745.1,261.4L1747.1,263.3L1749.1,265.3L1751.1,267.6L1753.1,270.2L1755.1,273L1757.2,275.8L1759.2,278.6L1761.2,281L1763.2,283L1765.2,284.3L1767.2,284.9L1769.2,284.4L1771.2,282.9L1773.2,280.5L1775.2,277.6L1777.2,274.5L1779.2,271.2L1781.2,267.7L1783.2,264.2L1785.2,260.6L1787.2,257.2L1789.2,254.3L1791.2,251.9L1793.2,250.3L1795.2,249.3L1797.2,249L1799.2,249.1L1801.2,249.5L1803.2,250.3L1805.2,251.3L1807.2,252.4L1809.2,253.3L1811.2,253.7L1813.2,253.5L1815.2,252.9L1817.2,252.1L1819.2,251.2L1821.2,250.5L1823.2,250L1825.2,249.7L1827.2,249.5L1829.2,249.3L1831.2,249.1L1833.2,248.8L1835.2,248.5L1837.2,248.4L1839.2,248.6L1841.3,249.3L1843.3,250.4L1845.3,251.8L1847.3,253.5L1849.3,255.3L1851.3,257.4L1853.3,259.3L1855.3,260.9L1857.3,261.8L1859.3,261.6L1861.3,259.9L1863.3,256.7L1865.3,252.5L1867.3,248L1869.3,243.6L1871.3,239.9L1873.3,236.8L1875.3,234.3L1877.3,232.3L1879.3,230.7L1881.3,229.4L1883.3,228.4L1885.3,227.7L1887.3,227.3L1889.3,227.2L1891.3,227.6L1893.3,228.3L1895.3,229.6L1897.3,231.3L1899.3,233.6L1901.3,236.2L1903.3,239.1L1905.3,242.2L1907.3,245.2L1909.3,248L1911.3,250.4L1913.3,252.4L1915.3,253.8L1917.3,254.5L1919.3,254.4L1921.3,253.7L1923.4,252.5L1925.4,251.3L1927.4,250.1L1929.4,249L1931.4,248.1L1933.4,247.6L1935.4,247.5L1937.4,247.8L1939.4,248.2L1941.4,248.7L1943.4,249.2L1945.4,249.7L1947.4,250.2L1949.4,250.7L1951.4,251.2L1951.4,295.3L1949.4,295.3L1947.4,295.3L1945.4,295.3L1943.4,295.3L1941.4,295.2L1939.4,295.1L1937.4,295.1L1935.4,295.2L1933.4,295.5L1931.4,296.1L1929.4,297L1927.4,298.2L1925.4,299.5L1923.4,301.1L1921.3,302.7L1919.3,304L1917.3,304.5L1915.3,304.3L1913.3,303.1L1911.3,301.3L1909.3,298.8L1907.3,295.7L1905.3,292.1L1903.3,288.4L1901.3,284.9L1899.3,281.8L1897.3,279.3L1895.3,277.4L1893.3,276.3L1891.3,275.7L1889.3,275.7L1887.3,276.2L1885.3,277L1883.3,278.1L1881.3,279.4L1879.3,281L1877.3,282.7L1875.3,284.8L1873.3,287L1871.3,289.6L1869.3,292.5L1867.3,295.6L1865.3,298.9L1863.3,302L1861.3,304.8L1859.3,306.9L1857.3,308.3L1855.3,308.7L1853.3,308.4L1851.3,307.6L1849.3,306.5L1847.3,305.1L1845.3,303.6L1843.3,302.1L1841.3,300.7L1839.2,299.9L1837.2,299.7L1835.2,300L1833.2,300.6L1831.2,301.2L1829.2,301.7L1827.2,302.1L1825.2,302.5L1823.2,302.9L1821.2,303.4L1819.2,303.8L1817.2,304.3L1815.2,304.8L1813.2,305L1811.2,305L1809.2,304.5L1807.2,303.8L1805.2,303L1803.2,302.1L1801.2,301.4L1799.2,300.8L1797.2,300.4L1795.2,300.3L1793.2,300.8L1791.2,302L1789.2,304L1787.2,306.6L1785.2,309.7L1783.2,312.9L1781.2,316.1L1779.2,319.2L1777.2,322L1775.2,324.8L1773.2,327.2L1771.2,329.3L1769.2,330.8L1767.2,331.6L1765.2,331.5L1763.2,330.5L1761.2,328.5L1759.2,325.4L1757.2,321.6L1755.1,317.4L1753.1,313.4L1751.1,310L1749.1,307.2L1747.1,305L1745.1,303.1L1743.1,301.1L1741.1,299L1739.1,296.6L1737.1,293.9L1735.1,291.1L1733.1,288.2L1731.1,285.4L1729.1,282.6L1727.1,279.8L1725.1,276.5L1723.1,272.4L1721.1,267.3L1719.1,261.6L1717.1,255.5L1715.1,249.5L1713.1,243.9L1711.1,238.6L1709.1,234L1707.1,230.4L1705.1,228L1703.1,226.7L1701.1,226L1699.1,225.5L1697.1,225.3L1695.1,226L1693.1,227.7L1691.1,230.2L1689.1,233.7L1687.1,238.3L1685.1,244L1683.1,250.6L1681.1,257.8L1679.1,265.1L1677.1,272.2L1675.1,279.3L1673.1,286.3L1671,293.3Z" fill="#b3b3b3" fill-opacity="0.85"/>
<path d="M1671,290.3L1673.1,281.4L1675.1,272.6L1677.1,263.9L1679.1,255.5L1681.1,247.3L1683.1,239.6L1685.1,232.4L1687.1,225.9L1689.1,220.3L1691.1,215.4L1693.1,211.2L1695.1,207.8L1697.1,205.2L1699.1,203.5L1701.1,203L1703.1,203.5L1705.1,205.2L1707.1,207.8L1709.1,211.4L1711.1,215.6L1713.1,220.4L1715.1,225.8L1717.1,231.9L1719.1,238.4L1721.1,244.7L1723.1,250.3L1725.1,255L1727.1,258.9L1729.1,262.2L1731.1,265.1L1733.1,267.8L1735.1,270.3L1737.1,272.6L1739.1,275L1741.1,277.3L1743.1,279.6L1745.1,281.9L1747.1,284.3L1749.1,286.8L1751.1,289.6L1753.1,292.7L1755.1,295.9L1757.2,299.2L1759.2,302.2L1761.2,304.7L1763.2,306.4L1765.2,307.4L1767.2,307.5L1769.2,306.7L1771.2,305.3L1773.2,303.2L1775.2,300.8L1777.2,298L1779.2,295.1L1781.2,291.9L1783.2,288.6L1785.2,285.2L1787.2,282L1789.2,279.2L1791.2,277L1793.2,275.5L1795.2,274.8L1797.2,274.7L1799.2,274.9L1801.2,275.4L1803.2,276.1L1805.2,276.9L1807.2,277.8L1809.2,278.5L1811.2,278.9L1813.2,278.8L1815.2,278.4L1817.2,277.7L1819.2,277L1821.2,276.4L1823.2,275.8L1825.2,275.4L1827.2,275L1829.2,274.6L1831.2,274.2L1833.2,273.8L1835.2,273.5L1837.2,273.4L1839.2,273.7L1841.3,274.4L1843.3,275.5L1845.3,276.9L1847.3,278.3L1849.3,279.9L1851.3,281.5L1853.3,282.8L1855.3,283.8L1857.3,284L1859.3,283.3L1861.3,281.5L1863.3,278.8L1865.3,275.6L1867.3,272.1L1869.3,268.7L1871.3,265.6L1873.3,262.7L1875.3,260.2L1877.3,258L1879.3,256.1L1881.3,254.5L1883.3,253.2L1885.3,252.2L1887.3,251.6L1889.3,251.4L1891.3,251.8L1893.3,252.9L1895.3,254.6L1897.3,256.8L1899.3,259.4L1901.3,262.1L1903.3,264.9L1905.3,267.7L1907.3,270.5L1909.3,273.1L1911.3,275.4L1913.3,277.4L1915.3,278.8L1917.3,279.5L1919.3,279.2L1921.3,278.2L1923.4,276.8L1925.4,275.4L1927.4,274.1L1929.4,273L1931.4,272.1L1933.4,271.5L1935.4,271.1L1937.4,270.9L1939.4,271L1941.4,271.1L1943.4,271.4L1945.4,271.9L1947.4,272.6L1949.4,273.4L1951.4,274.3" stroke="#000" stroke-width="5" fill="none" stroke-linecap="butt" stroke-linejoin="round"/>
<path d="M1665,353.4H1669.4V340.5H1673.7V330.4H1678V310.6H1682.4V280.5H1686.7V244.6H1691V215.5H1695.4V184H1699.7V181.4H1704V150.1H1708.3V142.3H1712.7V147.6H1717V177.8H1721.3V189.2H1725.7V189.2H1730V189.2H1734.3V201.6H1738.7V219.2H1743V209.3H1747.3V190.8H1751.6V202.7H1756V223.2H1760.3V252.5H1764.6V253.6H1769V277.5H1773.3V287.9H1777.6V282.4H1782V271.7H1786.3V265.2H1790.6V261.9H1794.9V262.1H1799.3V268.3H1803.6V274.1H1807.9V281H1812.3V286.7H1816.6V287.6H1820.9V278.3H1825.3V273.9H1829.6V273.3H1833.9V285.1H1838.2V290.3H1842.6V281.7H1846.9V280.4H1851.2V285.2H1855.6V286.5H1859.9V279.4H1864.2V236.2H1868.6V217.5H1872.9V173.2H1877.2V135.2H1881.5V91.2H1885.9V74.1H1890.2V64H1894.5V82.6H1898.9V106.6H1903.2V137H1907.5V185H1911.9V224.8H1916.2V250.9H1920.5V246.7H1924.8V209.4H1929.2V184.2H1933.5V168.1H1937.8V196H1942.2V224.1H1946.5V266H1950.8V292.1H1955.2V316H1959.5V326H1963.8V337.6H1968.1V338H1971.4V338.3" stroke="#2E6B95" stroke-width="4.3" fill="none" stroke-linejoin="miter"/>
</g></svg>
<rect x="1633" y="54" width="339" height="349" fill="none" stroke="#333" stroke-width="2"/>
<text x="1802.5" y="32.3" text-anchor="middle" font-size="21" fill="#1a1a1a" stroke="#1a1a1a">João Pessoa</text>
<path d="M1973.3,53V404" stroke="#000" stroke-width="4.4"/>
<text x="1993.5" y="354.8" font-size="21" fill="#000" stroke="#000">10.0%</text>
<text x="1993.5" y="280.6" font-size="21" fill="#000" stroke="#000">20.0%</text>
<text x="1993.5" y="206.5" font-size="21" fill="#000" stroke="#000">30.0%</text>
<text x="1993.5" y="132.3" font-size="21" fill="#000" stroke="#000">40.0%</text>
<path d="M1973.3,347.3H1985M1973.3,273.1H1985M1973.3,199H1985M1973.3,124.8H1985" stroke="#000" stroke-width="4.4"/>
</g>
<g>
<rect x="175" y="483.8" width="339" height="349" fill="#fff"/>
<svg x="175" y="483.8" width="339" height="349" overflow="hidden"><g transform="translate(-175,-483.8)">
<path d="M175,773.8H514M175,686.3H514M175,598.8H514M175,511.4H514M189.6,483.8V832.8M245.8,483.8V832.8M302.4,483.8V832.8M359.2,483.8V832.8M415.5,483.8V832.8M471.4,483.8V832.8" stroke="#ebebeb" stroke-width="2.2" fill="none"/>
<path d="M175,817.5H514M175,730.1H514M175,642.6H514M175,555.1H514M217.7,483.8V832.8M273.9,483.8V832.8M330.8,483.8V832.8M387.6,483.8V832.8M443.3,483.8V832.8M499.5,483.8V832.8" stroke="#ebebeb" stroke-width="4.4" fill="none"/>
<text x="208.1" y="516.6" font-size="29" fill="#000" stroke="#000">r=0.6</text>
<path d="M397.3,483.8V832.8" stroke="#000" stroke-width="4.5" stroke-dasharray="4.2 4.6"/>
<path d="M251.1,542.1L253.1,548.5L255.1,554.8L257.1,560.9L259.1,567L261.1,573.4L263.1,580.4L265.1,588.1L267.1,595.9L269.1,603.6L271.1,611.2L273.1,618.7L275.1,626.4L277.1,634.3L279.1,642.1L281.1,649.3L283.1,655.7L285.1,660.8L287.1,664.3L289.1,666.3L291.1,667.3L293.1,668L295.1,668.5L297.1,668.9L299.2,669.3L301.2,669.7L303.2,670L305.2,670.3L307.2,670.6L309.2,670.9L311.2,671.4L313.2,672L315.2,673L317.2,674.2L319.2,675.7L321.2,677.4L323.2,679.4L325.2,681.6L327.2,684L329.2,686.7L331.2,689.6L333.2,692.9L335.2,696.5L337.2,700.4L339.2,704.5L341.2,708.6L343.2,712.2L345.2,715.3L347.2,717.8L349.2,719.8L351.2,721.1L353.2,721.5L355.2,720.9L357.2,718.9L359.2,715.3L361.2,710L363.2,702.7L365.2,693.5L367.2,683L369.2,671.9L371.2,660.8L373.2,650L375.2,639.8L377.2,630.5L379.2,622.6L381.2,616.5L383.3,612.9L385.3,612.1L387.3,613.7L389.3,616.5L391.3,619.5L393.3,622.3L395.3,624.6L397.3,626L399.3,626.6L401.3,626.6L403.3,626.1L405.3,625L407.3,623.4L409.3,621.3L411.3,618.9L413.3,616.5L415.3,614L417.3,611.4L419.3,608.9L421.3,606.3L423.3,603.8L425.3,601.4L427.3,599.1L429.3,597L431.3,595L433.3,593.2L435.3,591.7L437.3,590.5L439.3,589.7L441.3,589.2L443.3,589.1L445.3,589.1L446.3,589.1L446.3,692.3L445.3,692.6L443.3,693.2L441.3,693.9L439.3,694.8L437.3,696L435.3,697.8L433.3,700.2L431.3,703.3L429.3,706.7L427.3,710.4L425.3,714.2L423.3,718.1L421.3,722.2L419.3,726.4L417.3,730.8L415.3,735.4L413.3,739.8L411.3,743.7L409.3,746.5L407.3,747.9L405.3,748L403.3,747L401.3,745.1L399.3,742.6L397.3,739.5L395.3,735.7L393.3,731.4L391.3,726.8L389.3,722.3L387.3,718.4L385.3,715.4L383.3,713.9L381.2,714.2L379.2,716.7L377.2,721.7L375.2,729.5L373.2,739.9L371.2,751.4L369.2,762.5L367.2,772.6L365.2,781.7L363.2,790L361.2,797.7L359.2,804.4L357.2,809.9L355.2,813.5L353.2,815.1L351.2,814.7L349.2,813L347.2,810.5L345.2,807.8L343.2,805L341.2,802.1L339.2,799.2L337.2,796.4L335.2,793.9L333.2,791.9L331.2,790.3L329.2,789L327.2,787.9L325.2,786.8L323.2,785.7L321.2,784.5L319.2,783.3L317.2,782.1L315.2,781L313.2,780.1L311.2,779.4L309.2,778.7L307.2,777.9L305.2,776.6L303.2,774.9L301.2,772.6L299.2,769.9L297.1,766.9L295.1,764L293.1,761.2L291.1,758.5L289.1,755.4L287.1,751.2L285.1,745.2L283.1,737.1L281.1,726.8L279.1,714.7L277.1,701.4L275.1,687.9L273.1,675.1L271.1,663.1L269.1,651.6L267.1,639.9L265.1,628.1L263.1,616.4L261.1,605L259.1,594.1L257.1,583.3L255.1,572.6L253.1,561.9L251.1,551.1Z" fill="#b3b3b3" fill-opacity="0.85"/>
<path d="M251.1,546.1L253.1,554.1L255.1,562.3L257.1,570.9L259.1,580L261.1,589.6L263.1,599.6L265.1,610.1L267.1,620.7L269.1,631.4L271.1,642.2L273.1,653.1L275.1,664.2L277.1,675.5L279.1,686.2L281.1,695.9L283.1,704L285.1,710.1L287.1,713.9L289.1,715.8L291.1,716.6L293.1,717.4L295.1,718.5L297.1,720.1L299.2,722L301.2,723.8L303.2,725.2L305.2,726.3L307.2,726.8L309.2,727L311.2,727.1L313.2,727.3L315.2,727.6L317.2,728.2L319.2,728.8L321.2,729.7L323.2,730.9L325.2,732.4L327.2,734.2L329.2,736.2L331.2,738.6L333.2,741.2L335.2,744L337.2,747L339.2,750.3L341.2,753.5L343.2,756.7L345.2,759.9L347.2,762.9L349.2,765.7L351.2,767.9L353.2,769L355.2,768.5L357.2,766.3L359.2,762.3L361.2,756.5L363.2,748.9L365.2,739.6L367.2,729.1L369.2,717.7L371.2,705.7L373.2,693.9L375.2,683.2L377.2,674.8L379.2,669L381.2,665.4L383.3,663.7L385.3,664L387.3,665.8L389.3,669.2L391.3,673.8L393.3,679.2L395.3,684.7L397.3,689.5L399.3,693.3L401.3,696.4L403.3,698.8L405.3,700.4L407.3,700.9L409.3,699.9L411.3,697.2L413.3,693.1L415.3,688.2L417.3,683.1L419.3,678.1L421.3,673.4L423.3,668.9L425.3,664.4L427.3,659.8L429.3,655.2L431.3,650.7L433.3,646.6L435.3,643.2L437.3,640.8L439.3,639.5L441.3,639.4L443.3,640.5L445.3,642.2L446.3,643.2" stroke="#000" stroke-width="5" fill="none" stroke-linecap="butt" stroke-linejoin="round"/>
<path d="M220.1,771.3H224.4V759.7H228.7V722.7H233V655.6H237.4V612.6H241.7V572.6H246V582.1H250.4V541.3H254.7V507.2H259V566.8H263.4V572.7H267.7V623.7H272V641.9H276.3V688H280.7V713.2H285V753H289.3V762.3H293.7V779.1H298V778.4H302.3V771.4H306.7V776.8H311V782.3H315.3V792.4H319.6V763.5H324V745.1H328.3V737H332.6V736.5H337V726.7H341.3V694.6H345.6V639.2H350V639.2H354.3V659.9H358.6V668.8H362.9V669.2H367.3V640.8H371.6V623.4H375.9V593.5H380.3V606.8H384.6V639.6H388.9V650.2H393.3V654.2H397.6V664.8H401.9V684.2H406.2V684.2H410.6V647.9H414.9V578.8H419.2V494.9H423.6V491H427.9V509.6H432.2V512H436.6V511.5H440.9V510.2H445.2V495H449.5V530.6H453.9V581.6H458.2V620.1H462.5V679H466.9V656.4H471.2V643.2H475.5V625H479.9V648H484.2V653.2H488.5V653.2H492.8V664H497.2V692.2H501.5V727.1H505.8V736.1H510.2V759.3H514.4V767.3" stroke="#8B7281" stroke-width="4.3" fill="none" stroke-linejoin="miter"/>
</g></svg>
<rect x="175" y="483.8" width="339" height="349" fill="none" stroke="#333" stroke-width="2"/>
<text x="344.5" y="462.1" text-anchor="middle" font-size="21" fill="#1a1a1a" stroke="#1a1a1a">Macapá</text>
<text x="153" y="825" text-anchor="end" font-size="21" fill="#4d4d4d" stroke="#4d4d4d">0.0</text>
<text x="153" y="737.6" text-anchor="end" font-size="21" fill="#4d4d4d" stroke="#4d4d4d">0.2</text>
<text x="153" y="650.1" text-anchor="end" font-size="21" fill="#4d4d4d" stroke="#4d4d4d">0.4</text>
<text x="153" y="562.6" text-anchor="end" font-size="21" fill="#4d4d4d" stroke="#4d4d4d">0.6</text>
<path d="M162.5,817.5H175M162.5,730.1H175M162.5,642.6H175M162.5,555.1H175" stroke="#333" stroke-width="4.4"/>
</g>
<g>
<rect x="539.5" y="483.8" width="339" height="349" fill="#fff"/>
<svg x="539.5" y="483.8" width="339" height="349" overflow="hidden"><g transform="translate(-539.5,-483.8)">
<path d="M539.5,773.8H878.5M539.5,686.3H878.5M539.5,598.8H878.5M539.5,511.4H878.5M554.1,483.8V832.8M610.3,483.8V832.8M666.9,483.8V832.8M723.7,483.8V832.8M780,483.8V832.8M835.9,483.8V832.8" stroke="#ebebeb" stroke-width="2.2" fill="none"/>
<path d="M539.5,817.5H878.5M539.5,730.1H878.5M539.5,642.6H878.5M539.5,555.1H878.5M582.2,483.8V832.8M638.4,483.8V832.8M695.3,483.8V832.8M752.2,483.8V832.8M807.8,483.8V832.8M864,483.8V832.8" stroke="#ebebeb" stroke-width="4.4" fill="none"/>
<text x="572.1" y="516.6" font-size="29" fill="#000" stroke="#000">r=0.9</text>
<path d="M735.2,483.8V832.8" stroke="#000" stroke-width="4.5" stroke-dasharray="4.2 4.6"/>
<path d="M584.1,648.2L586.1,650.1L588.1,652.1L590.1,654.1L592.1,656.4L594.1,658.8L596.1,661.4L598.1,664.3L600.1,667.4L602.1,670.8L604.1,674.4L606.1,678.3L608.1,682.7L610.1,687.4L612.1,692.4L614.1,697.3L616.1,701.7L618.1,705.3L620.1,708.2L622.1,710.3L624.1,711.4L626.1,711.6L628.1,711L630.1,709.7L632.1,708.2L634.1,706.4L636.1,704.5L638.1,702.5L640.1,700.4L642.1,698.1L644.1,695.6L646.1,693.1L648.1,690.6L650.1,688.6L652.1,686.8L654.1,685.5L656.1,684.4L658.1,683.8L660.1,683.7L662.1,684.2L664.2,685.2L666.2,686.6L668.2,688.4L670.2,690.6L672.2,693.2L674.2,696.1L676.2,699.1L678.2,702.1L680.2,705L682.2,707.6L684.2,710.1L686.2,712.2L688.2,713.8L690.2,714.8L692.2,715.3L694.2,715.4L696.2,715.4L698.2,715.3L700.2,715.2L702.2,715.1L704.2,714.9L706.2,714.6L708.2,714.2L710.2,713.7L712.2,713.1L714.2,712.3L716.2,711.3L718.2,710L720.2,708.2L722.2,706L724.2,703.2L726.2,699.8L728.2,695.8L730.2,691.2L732.2,685.7L734.2,679.3L736.2,672L738.2,663.8L740.2,655.1L742.2,646.2L744.2,637.4L746.2,628.7L748.3,620.5L750.3,613L752.3,606.5L754.3,600.9L756.3,596L758.3,592.2L760.3,589.9L762.3,589.7L764.3,591.4L766.3,594.5L768.3,598.6L770.3,603.4L772.3,608.7L774.3,614.4L776.3,620.5L778.3,627L780.3,633.8L782.3,641L784.3,648.4L786.3,656.2L788.3,664.1L790.3,672.2L792.3,680.2L794.3,687.9L796.3,695.1L798.3,701.5L800.3,706.9L802.3,711.4L804.3,715L806.3,717.6L808.3,719.3L810.3,720.5L812.3,721.2L814.3,721.6L816.3,722L818.3,722.2L820.3,722.4L822.3,722.5L824.3,722.5L826.3,722.4L828.3,722.4L830.4,722.3L832.4,722.3L834.4,722.3L836.4,722.3L838.4,722.3L840.4,722.3L842.4,722.4L844.4,722.5L846.4,722.6L848.4,722.7L850.4,722.5L852.4,721.9L854.4,720.9L856.4,719.5L858.4,717.9L860.4,716.1L862.4,714.2L864.4,712.3L866.4,710.3L868.4,708.3L870.4,706.4L872.4,704.7L874.4,703.2L876.4,701.7L878.4,700.3L878.4,739.3L876.4,740L874.4,740.8L872.4,741.5L870.4,742.4L868.4,743.3L866.4,744.3L864.4,745.3L862.4,746.4L860.4,747.5L858.4,748.6L856.4,749.6L854.4,750.4L852.4,751L850.4,751.2L848.4,751.1L846.4,750.9L844.4,750.6L842.4,750.5L840.4,750.5L838.4,750.6L836.4,750.8L834.4,751L832.4,751.2L830.4,751.3L828.3,751.3L826.3,751.2L824.3,751.1L822.3,750.9L820.3,750.6L818.3,750.3L816.3,749.9L814.3,749.5L812.3,749L810.3,748.4L808.3,747.3L806.3,745.8L804.3,743.6L802.3,740.5L800.3,736.4L798.3,730.8L796.3,723.7L794.3,715.4L792.3,706.7L790.3,698.2L788.3,690L786.3,682.1L784.3,674.6L782.3,667.5L780.3,660.8L778.3,654.5L776.3,648.3L774.3,642.4L772.3,636.8L770.3,631.5L768.3,626.7L766.3,622.6L764.3,619.5L762.3,618L760.3,618.5L758.3,620.8L756.3,624.2L754.3,628.4L752.3,633.3L750.3,639.1L748.3,645.9L746.2,653.5L744.2,661.8L742.2,670.5L740.2,679.5L738.2,688.6L736.2,697.4L734.2,705.3L732.2,712.3L730.2,718.2L728.2,723.4L726.2,727.9L724.2,731.8L722.2,735.1L720.2,737.8L718.2,739.9L716.2,741.5L714.2,742.6L712.2,743.4L710.2,743.9L708.2,744.1L706.2,744.1L704.2,743.8L702.2,743.4L700.2,742.9L698.2,742.5L696.2,742.2L694.2,741.9L692.2,741.6L690.2,740.9L688.2,739.8L686.2,738.2L684.2,736.1L682.2,733.6L680.2,731L678.2,728.1L676.2,725.2L674.2,722.1L672.2,719.2L670.2,716.6L668.2,714.5L666.2,712.7L664.2,711.2L662.1,710.2L660.1,709.8L658.1,709.9L656.1,710.5L654.1,711.5L652.1,712.9L650.1,714.6L648.1,716.7L646.1,719.1L644.1,721.6L642.1,724.1L640.1,726.5L638.1,728.6L636.1,730.7L634.1,732.5L632.1,734.1L630.1,735.3L628.1,736.1L626.1,736.2L624.1,735.5L622.1,733.8L620.1,731.1L618.1,727.8L616.1,723.8L614.1,719.3L612.1,714.4L610.1,709.4L608.1,704.7L606.1,700.6L604.1,696.9L602.1,693.5L600.1,690.4L598.1,687.6L596.1,684.9L594.1,682.6L592.1,680.5L590.1,678.7L588.1,677.1L586.1,675.6L584.1,674.2Z" fill="#b3b3b3" fill-opacity="0.85"/>
<path d="M584.1,658.2L586.1,660.1L588.1,662.1L590.1,664.2L592.1,666.4L594.1,668.8L596.1,671.5L598.1,674.3L600.1,677.4L602.1,680.8L604.1,684.4L606.1,688.3L608.1,692.7L610.1,697.4L612.1,702.4L614.1,707.3L616.1,711.8L618.1,715.8L620.1,719.1L622.1,721.7L624.1,723.5L626.1,724.2L628.1,724.1L630.1,723.3L632.1,722.1L634.1,720.5L636.1,718.7L638.1,716.6L640.1,714.4L642.1,712.1L644.1,709.6L646.1,707.1L648.1,704.7L650.1,702.6L652.1,700.9L654.1,699.5L656.1,698.4L658.1,697.8L660.1,697.8L662.1,698.2L664.2,699.2L666.2,700.7L668.2,702.5L670.2,704.6L672.2,707.2L674.2,710.2L676.2,713.2L678.2,716L680.2,718.5L682.2,720.8L684.2,722.8L686.2,724.5L688.2,726L690.2,727.1L692.2,727.9L694.2,728.5L696.2,728.9L698.2,729.2L700.2,729.5L702.2,729.6L704.2,729.6L706.2,729.5L708.2,729.2L710.2,728.8L712.2,728.2L714.2,727.4L716.2,726.4L718.2,724.9L720.2,723L722.2,720.6L724.2,717.5L726.2,713.8L728.2,709.3L730.2,704.1L732.2,698.2L734.2,691.5L736.2,683.9L738.2,675.6L740.2,667L742.2,658.3L744.2,649.8L746.2,641.6L748.3,633.9L750.3,627.1L752.3,621.3L754.3,616.4L756.3,612.2L758.3,608.8L760.3,606.4L762.3,605.7L764.3,606.7L766.3,609.2L768.3,612.9L770.3,617.5L772.3,622.7L774.3,628.4L776.3,634.3L778.3,640.4L780.3,646.8L782.3,653.5L784.3,660.6L786.3,668.1L788.3,676L790.3,684.1L792.3,692.4L794.3,700.6L796.3,708.4L798.3,715.3L800.3,720.9L802.3,725.5L804.3,729L806.3,731.7L808.3,733.5L810.3,734.8L812.3,735.7L814.3,736.3L816.3,736.8L818.3,737.3L820.3,737.6L822.3,737.9L824.3,738.1L826.3,738.2L828.3,738.3L830.4,738.2L832.4,738.2L834.4,738L836.4,737.8L838.4,737.6L840.4,737.5L842.4,737.5L844.4,737.6L846.4,737.9L848.4,738.1L850.4,738.2L852.4,737.9L854.4,737.3L856.4,736.3L858.4,735.1L860.4,733.7L862.4,732.3L864.4,730.8L866.4,729.4L868.4,727.8L870.4,726.3L872.4,724.8L874.4,723.3L876.4,721.8L878.4,720.3" stroke="#000" stroke-width="5" fill="none" stroke-linecap="butt" stroke-linejoin="round"/>
<path d="M561,806.4H565.4V803.3H569.7V790.2H574V761.1H578.3V702.2H582.7V623H587V607H591.3V593.9H595.7V559.5H600V569.1H604.3V614.2H608.7V639.2H613V693.3H617.3V718.7H621.6V729.4H626V741.6H630.3V751.9H634.6V760.9H639V763.7H643.3V764.8H647.6V766.7H652V769.3H656.3V773.2H660.6V773.5H664.9V767.3H669.3V761.5H673.6V755.2H677.9V750.6H682.3V747.2H686.6V744H690.9V741.2H695.3V740.4H699.6V747.6H703.9V755H708.2V754.2H712.6V738.5H716.9V716.6H721.2V714.3H725.6V716.3H729.9V723.3H734.2V721.3H738.6V698H742.9V639H747.2V557.4H751.5V499.6H755.9V485H760.2V502H764.5V509.3H768.9V558.2H773.2V593H777.5V631.3H781.9V640H786.2V661.3H790.5V688.3H794.8V703H799.2V711.9H803.5V716.8H807.8V725.3H812.2V738H816.5V748.1H820.8V759H825.2V760H829.5V760.3H833.8V757.7H838.1V755.4H842.5V752.3H846.8V751.4H851.1V752.3H855.5V753.1H859.8V755H864.1V758.1H868.5V764.5H872.8V770.7H877.1V774.7H878.4V775.4" stroke="#E49A86" stroke-width="4.3" fill="none" stroke-linejoin="miter"/>
</g></svg>
<rect x="539.5" y="483.8" width="339" height="349" fill="none" stroke="#333" stroke-width="2"/>
<text x="709" y="462.1" text-anchor="middle" font-size="21" fill="#1a1a1a" stroke="#1a1a1a">Manaus</text>
</g>
<g>
<rect x="904" y="483.8" width="339" height="349" fill="#fff"/>
<svg x="904" y="483.8" width="339" height="349" overflow="hidden"><g transform="translate(-904,-483.8)">
<path d="M904,773.8H1243M904,686.3H1243M904,598.8H1243M904,511.4H1243M918.6,483.8V832.8M974.8,483.8V832.8M1031.4,483.8V832.8M1088.2,483.8V832.8M1144.5,483.8V832.8M1200.4,483.8V832.8" stroke="#ebebeb" stroke-width="2.2" fill="none"/>
<path d="M904,817.5H1243M904,730.1H1243M904,642.6H1243M904,555.1H1243M946.7,483.8V832.8M1002.9,483.8V832.8M1059.8,483.8V832.8M1116.7,483.8V832.8M1172.3,483.8V832.8M1228.5,483.8V832.8" stroke="#ebebeb" stroke-width="4.4" fill="none"/>
<text x="929.1" y="516.6" font-size="29" fill="#000" stroke="#000">r=0.82</text>
<path d="M1132.3,483.8V832.8" stroke="#000" stroke-width="4.5" stroke-dasharray="4.2 4.6"/>
<path d="M955.1,682.2L957.1,678L959.1,674L961.1,670.4L963.1,667.3L965.1,664.9L967.1,662.8L969.1,661.2L971.1,659.8L973.1,658.6L975.1,657.6L977.1,656.6L979.1,655.5L981.1,654.3L983.1,652.7L985.1,650.9L987.1,648.8L989.1,646.9L991.1,645.6L993.1,645.4L995.1,646.6L997.1,649.1L999.1,652.6L1001.1,656.8L1003.1,661.9L1005.1,667.9L1007.1,675.1L1009.1,683.5L1011.1,692.5L1013.1,701.5L1015.1,710.1L1017.1,718L1019.1,725L1021.1,730.4L1023.1,733.9L1025.1,735.4L1027.2,735.4L1029.2,734.8L1031.2,733.7L1033.2,732.5L1035.2,731L1037.2,729.2L1039.2,727.3L1041.2,725.3L1043.2,723.3L1045.2,721.5L1047.2,719.7L1049.2,718.1L1051.2,716.5L1053.2,715L1055.2,713.6L1057.2,712.3L1059.2,711.3L1061.2,710.9L1063.2,711L1065.2,711.9L1067.2,713.4L1069.2,715.5L1071.2,718.3L1073.2,721.5L1075.2,725L1077.2,728.3L1079.2,730.9L1081.2,733L1083.2,734.5L1085.2,735.7L1087.2,736.5L1089.2,737.1L1091.2,737.6L1093.2,737.9L1095.2,738.2L1097.2,738.5L1099.2,738.7L1101.2,738.6L1103.2,738.2L1105.2,737.2L1107.2,735.6L1109.2,733.6L1111.3,731.5L1113.3,729.2L1115.3,726.9L1117.3,724.6L1119.3,722.1L1121.3,719.5L1123.3,716.7L1125.3,713.7L1127.3,710.1L1129.3,705.7L1131.3,700L1133.3,692.8L1135.3,684.1L1137.3,674.1L1139.3,663.3L1141.3,652.1L1143.3,641.1L1145.3,630.6L1147.3,620.6L1149.3,611.5L1151.3,603.8L1153.3,597.6L1155.3,592.6L1157.3,588.6L1159.3,585.5L1161.3,583.8L1163.3,583.5L1165.3,584.6L1167.3,586.5L1169.3,588.9L1171.3,591.5L1173.3,594.3L1175.3,597.4L1177.3,600.7L1179.3,604.4L1181.3,608.4L1183.3,612.3L1185.3,615.9L1187.3,618.7L1189.3,620.7L1191.3,622.3L1193.3,623.6L1195.4,624.9L1197.4,626.3L1199.4,627.8L1201.4,629.5L1203.4,631.5L1205.4,633.8L1207.4,636.3L1209.4,638.9L1211.4,641.8L1213.4,645L1215.4,648.9L1217.4,653.4L1219.4,658.2L1219.4,694.3L1217.4,691.8L1215.4,689.3L1213.4,686.6L1211.4,683.8L1209.4,681L1207.4,678.4L1205.4,675.9L1203.4,673.5L1201.4,671.2L1199.4,669.1L1197.4,667.1L1195.4,665.2L1193.3,663.6L1191.3,662L1189.3,660.5L1187.3,658.9L1185.3,656.9L1183.3,654.7L1181.3,652.2L1179.3,649.5L1177.3,646.6L1175.3,643.7L1173.3,640.7L1171.3,637.7L1169.3,634.7L1167.3,631.8L1165.3,629.4L1163.3,627.9L1161.3,627.9L1159.3,629.6L1157.3,632.5L1155.3,636.3L1153.3,640.7L1151.3,646.1L1149.3,652.7L1147.3,660.4L1145.3,668.9L1143.3,678L1141.3,687.7L1139.3,698.1L1137.3,709L1135.3,720.4L1133.3,731.7L1131.3,742.3L1129.3,751.5L1127.3,759.4L1125.3,765.9L1123.3,771.1L1121.3,774.9L1119.3,777.5L1117.3,779.3L1115.3,780.6L1113.3,781.9L1111.3,783.3L1109.2,784.8L1107.2,786.3L1105.2,787.6L1103.2,788.6L1101.2,789.4L1099.2,789.9L1097.2,790.1L1095.2,790.1L1093.2,789.9L1091.2,789.6L1089.2,789.1L1087.2,788.7L1085.2,788.4L1083.2,788L1081.2,787.5L1079.2,786.3L1077.2,784.2L1075.2,781.1L1073.2,777.7L1071.2,774.5L1069.2,772L1067.2,770.3L1065.2,769.3L1063.2,768.7L1061.2,768.5L1059.2,768.7L1057.2,769.2L1055.2,770L1053.2,771.2L1051.2,772.5L1049.2,774.1L1047.2,775.8L1045.2,777.6L1043.2,779.5L1041.2,781.6L1039.2,783.5L1037.2,785.1L1035.2,785.8L1033.2,785.7L1031.2,784.9L1029.2,783.6L1027.2,782L1025.1,780L1023.1,777.2L1021.1,773.6L1019.1,769L1017.1,763.5L1015.1,757L1013.1,749.7L1011.1,741.5L1009.1,733L1007.1,725L1005.1,718L1003.1,712L1001.1,707L999.1,702.7L997.1,699.2L995.1,696.7L993.1,695.5L991.1,695.6L989.1,697L987.1,698.9L985.1,701L983.1,702.8L981.1,704.3L979.1,705.5L977.1,706.5L975.1,707.2L973.1,708L971.1,709L969.1,710.4L967.1,712.3L965.1,714.6L963.1,717.1L961.1,720.1L959.1,723.3L957.1,726.7L955.1,730.3Z" fill="#b3b3b3" fill-opacity="0.85"/>
<path d="M955.1,709.3L957.1,704.7L959.1,700.4L961.1,696.6L963.1,693.4L965.1,690.8L967.1,688.8L969.1,687.2L971.1,685.9L973.1,685L975.1,684.2L977.1,683.5L979.1,682.6L981.1,681.4L983.1,679.7L985.1,677.4L987.1,674.7L989.1,672.1L991.1,670.1L993.1,669.5L995.1,670.6L997.1,673.1L999.1,676.6L1001.1,680.9L1003.1,685.9L1005.1,691.9L1007.1,699.2L1009.1,707.5L1011.1,716.5L1013.1,725.5L1015.1,734L1017.1,741.8L1019.1,748.8L1021.1,754.6L1023.1,758.9L1025.1,761.6L1027.2,763.1L1029.2,763.8L1031.2,763.6L1033.2,762.7L1035.2,761.1L1037.2,759.1L1039.2,756.9L1041.2,754.6L1043.2,752.5L1045.2,750.7L1047.2,749L1049.2,747.6L1051.2,746.2L1053.2,744.9L1055.2,743.6L1057.2,742.4L1059.2,741.4L1061.2,740.9L1063.2,741.1L1065.2,742L1067.2,743.5L1069.2,745.5L1071.2,748L1073.2,750.8L1075.2,753.8L1077.2,756.6L1079.2,759L1081.2,761L1083.2,762.5L1085.2,763.7L1087.2,764.6L1089.2,765.2L1091.2,765.7L1093.2,766L1095.2,766.2L1097.2,766.2L1099.2,766L1101.2,765.4L1103.2,764.6L1105.2,763.2L1107.2,761.5L1109.2,759.5L1111.3,757.5L1113.3,755.5L1115.3,753.7L1117.3,751.8L1119.3,749.7L1121.3,747.3L1123.3,744.2L1125.3,740.5L1127.3,736L1129.3,730.2L1131.3,722.8L1133.3,713.8L1135.3,703.6L1137.3,692.9L1139.3,682.2L1141.3,671.6L1143.3,661.4L1145.3,651.4L1147.3,641.9L1149.3,633.2L1151.3,625.7L1153.3,619.6L1155.3,614.8L1157.3,611.3L1159.3,609.1L1161.3,608.2L1163.3,608.7L1165.3,610.4L1167.3,612.9L1169.3,615.7L1171.3,618.8L1173.3,622L1175.3,625.3L1177.3,628.5L1179.3,631.5L1181.3,634.2L1183.3,636.7L1185.3,638.9L1187.3,640.6L1189.3,641.8L1191.3,642.8L1193.3,643.8L1195.4,645L1197.4,646.3L1199.4,647.8L1201.4,649.4L1203.4,651.2L1205.4,653L1207.4,655L1209.4,657.5L1211.4,660.5L1213.4,664.2L1215.4,668.4L1217.4,672.8L1219.4,677.2" stroke="#000" stroke-width="5" fill="none" stroke-linecap="butt" stroke-linejoin="round"/>
<path d="M939,787.4H943.4V780.4H947.7V775.4H952V774.4H956.4V766.8H960.7V755.5H965V731.3H969.4V709.1H973.7V681.4H978V629.9H982.3V613H986.7V609.2H991V618.5H995.3V636.5H999.7V647.4H1004V665.5H1008.3V682.8H1012.7V703.4H1017V723.4H1021.3V730.7H1025.6V739.5H1030V742.9H1034.3V745H1038.6V752.2H1043V760.1H1047.3V769.2H1051.6V778.8H1056V779.8H1060.3V780.7H1064.6V781.3H1068.9V780.4H1073.3V768.3H1077.6V753.6H1081.9V734.7H1086.3V729.5H1090.6V721.5H1094.9V724.4H1099.3V725.3H1103.6V726.6H1107.9V725.6H1112.2V718.3H1116.6V712.3H1120.9V715.5H1125.2V718.9H1129.6V724.4H1133.9V714.4H1138.2V708.3H1142.6V675H1146.9V637.7H1151.2V595.1H1155.5V602.6H1159.9V622.4H1164.2V643.3H1168.5V645.5H1172.9V650.7H1177.2V653.6H1181.5V657.5H1185.9V658.2H1190.2V656.4H1194.5V654.1H1198.8V652.1H1203.2V651H1207.5V649.8H1211.8V670.7H1216.2V685.4H1220.5V724.7H1224.8V737.8H1229.2V751.9H1233.5V757H1237.8V762.1H1242.1V772.3H1242.4V772.3" stroke="#9290B4" stroke-width="4.3" fill="none" stroke-linejoin="miter"/>
</g></svg>
<rect x="904" y="483.8" width="339" height="349" fill="none" stroke="#333" stroke-width="2"/>
<text x="1073.5" y="462.1" text-anchor="middle" font-size="21" fill="#1a1a1a" stroke="#1a1a1a">Natal</text>
</g>
<g>
<rect x="1268.5" y="483.8" width="339" height="349" fill="#fff"/>
<svg x="1268.5" y="483.8" width="339" height="349" overflow="hidden"><g transform="translate(-1268.5,-483.8)">
<path d="M1268.5,773.8H1607.5M1268.5,686.3H1607.5M1268.5,598.8H1607.5M1268.5,511.4H1607.5M1283.1,483.8V832.8M1339.3,483.8V832.8M1395.9,483.8V832.8M1452.7,483.8V832.8M1509,483.8V832.8M1564.9,483.8V832.8" stroke="#ebebeb" stroke-width="2.2" fill="none"/>
<path d="M1268.5,817.5H1607.5M1268.5,730.1H1607.5M1268.5,642.6H1607.5M1268.5,555.1H1607.5M1311.2,483.8V832.8M1367.4,483.8V832.8M1424.3,483.8V832.8M1481.2,483.8V832.8M1536.8,483.8V832.8M1593,483.8V832.8" stroke="#ebebeb" stroke-width="4.4" fill="none"/>
<text x="1293.1" y="516.6" font-size="29" fill="#000" stroke="#000">r=0.71</text>
<path d="M1487.3,483.8V832.8" stroke="#000" stroke-width="4.5" stroke-dasharray="4.2 4.6"/>
<path d="M1306,772.3L1308.1,771.1L1310.1,769.9L1312.1,768.7L1314.1,767.5L1316.1,766.3L1318.1,765.1L1320.1,763.9L1322.1,762.6L1324.1,761.5L1326.1,760.4L1328.1,759.3L1330.1,758.4L1332.1,757.5L1334.1,756.9L1336.1,756.7L1338.1,756.7L1340.1,757.1L1342.1,757.5L1344.1,758L1346.1,758.1L1348.1,757.9L1350.1,757.1L1352.1,755.8L1354.1,754.2L1356.1,752.3L1358.1,750.2L1360.1,748L1362.1,745.7L1364.1,743.3L1366.1,740.9L1368.1,738.6L1370.1,736.4L1372.1,734.4L1374.1,732.5L1376.1,730.8L1378.1,729.2L1380.1,727.7L1382.1,726.5L1384.1,725.4L1386.1,724.5L1388.1,723.8L1390.1,723.2L1392.2,722.8L1394.2,722.3L1396.2,722L1398.2,721.7L1400.2,721.4L1402.2,721.3L1404.2,721.3L1406.2,721.4L1408.2,721.6L1410.2,721.9L1412.2,722.3L1414.2,722.9L1416.2,723.6L1418.2,724.4L1420.2,725.4L1422.2,726.5L1424.2,727.8L1426.2,729.2L1428.2,730.8L1430.2,732.7L1432.2,734.9L1434.2,737.4L1436.2,739.8L1438.2,741.6L1440.2,742.6L1442.2,742.9L1444.2,742.7L1446.2,742.1L1448.2,741.2L1450.2,740.1L1452.2,738.8L1454.2,737.6L1456.2,736.4L1458.2,735.4L1460.2,734.6L1462.2,733.8L1464.2,733L1466.2,732.3L1468.2,731.7L1470.2,731.1L1472.2,730.7L1474.2,730.6L1476.3,730.7L1478.3,731.1L1480.3,731.7L1482.3,732.4L1484.3,733.1L1486.3,733.6L1488.3,733.7L1490.3,733.2L1492.3,731.8L1494.3,729.3L1496.3,725.8L1498.3,721.2L1500.3,715.5L1502.3,708.9L1504.3,701.7L1506.3,694.4L1508.3,687L1510.3,679.9L1512.3,673.1L1514.3,666.7L1516.3,661L1518.3,655.7L1520.3,650.9L1522.3,646.5L1524.3,642.6L1526.3,639.4L1528.3,637.3L1530.3,636.5L1532.3,637.5L1534.3,640.2L1536.3,644L1538.3,648.6L1540.3,653.7L1542.3,659.1L1544.3,664.7L1546.3,670.2L1548.3,675.5L1550.3,680.7L1552.3,685.5L1554.3,689.6L1556.3,693.1L1558.4,695.9L1560.4,698.1L1562.4,700L1564.4,701.5L1566.4,702.8L1568.4,704L1570.4,705.1L1572.4,706.4L1574.4,707.7L1576.4,709.2L1578.4,710.8L1580.4,712.5L1582.4,714.5L1584.4,716.7L1586.4,719.1L1588.4,721.5L1590.4,723.9L1592.4,726.1L1594.4,728L1596.4,729.5L1598.4,730.7L1600.4,731.7L1602.4,732.6L1604.4,733.5L1606.4,734.3L1606.4,774.4L1604.4,772.7L1602.4,771L1600.4,769.3L1598.4,767.7L1596.4,766L1594.4,764.4L1592.4,762.7L1590.4,761.1L1588.4,759.5L1586.4,757.9L1584.4,756.1L1582.4,754.2L1580.4,752L1578.4,749.7L1576.4,747.3L1574.4,744.8L1572.4,742.4L1570.4,739.9L1568.4,737.5L1566.4,735.1L1564.4,732.7L1562.4,730.4L1560.4,728L1558.4,725.6L1556.3,722.9L1554.3,719.8L1552.3,716.1L1550.3,711.8L1548.3,707.1L1546.3,701.9L1544.3,696.2L1542.3,690.3L1540.3,684.4L1538.3,678.9L1536.3,674.1L1534.3,670L1532.3,666.7L1530.3,664.5L1528.3,663.7L1526.3,664.7L1524.3,667.3L1522.3,671.1L1520.3,676L1518.3,681.6L1516.3,687.9L1514.3,694.6L1512.3,701.7L1510.3,709.1L1508.3,716.6L1506.3,724.3L1504.3,731.8L1502.3,739L1500.3,745.5L1498.3,751.2L1496.3,755.8L1494.3,759.6L1492.3,762.5L1490.3,764.5L1488.3,765.8L1486.3,766.4L1484.3,766.5L1482.3,766L1480.3,765.1L1478.3,764.1L1476.3,763.3L1474.2,762.9L1472.2,763.2L1470.2,764L1468.2,765.1L1466.2,766.3L1464.2,767.6L1462.2,768.9L1460.2,770.1L1458.2,771.2L1456.2,772.1L1454.2,772.8L1452.2,773.3L1450.2,773.7L1448.2,774.1L1446.2,774.5L1444.2,775.1L1442.2,775.7L1440.2,776L1438.2,775.6L1436.2,774.4L1434.2,772.6L1432.2,770.6L1430.2,768.5L1428.2,766.6L1426.2,764.7L1424.2,763L1422.2,761.4L1420.2,759.8L1418.2,758.5L1416.2,757.2L1414.2,756.2L1412.2,755.3L1410.2,754.5L1408.2,753.9L1406.2,753.5L1404.2,753.3L1402.2,753.2L1400.2,753.4L1398.2,753.6L1396.2,754L1394.2,754.4L1392.2,754.8L1390.1,755.4L1388.1,756L1386.1,756.7L1384.1,757.5L1382.1,758.4L1380.1,759.5L1378.1,760.6L1376.1,761.9L1374.1,763.3L1372.1,764.8L1370.1,766.5L1368.1,768.3L1366.1,770.2L1364.1,772.2L1362.1,774.3L1360.1,776.3L1358.1,778.3L1356.1,780.2L1354.1,782L1352.1,783.6L1350.1,785L1348.1,786.1L1346.1,786.8L1344.1,787.2L1342.1,787.5L1340.1,787.7L1338.1,788.1L1336.1,788.6L1334.1,789.5L1332.1,790.6L1330.1,791.8L1328.1,793.1L1326.1,794.2L1324.1,795.2L1322.1,796L1320.1,796.8L1318.1,797.6L1316.1,798.5L1314.1,799.5L1312.1,800.7L1310.1,801.9L1308.1,803.1L1306,804.4Z" fill="#b3b3b3" fill-opacity="0.85"/>
<path d="M1306,786.4L1308.1,785.1L1310.1,783.9L1312.1,782.7L1314.1,781.5L1316.1,780.4L1318.1,779.3L1320.1,778.2L1322.1,777.2L1324.1,776.3L1326.1,775.4L1328.1,774.6L1330.1,773.9L1332.1,773.3L1334.1,772.8L1336.1,772.6L1338.1,772.6L1340.1,772.8L1342.1,773.2L1344.1,773.4L1346.1,773.3L1348.1,772.9L1350.1,771.8L1352.1,770.3L1354.1,768.4L1356.1,766.4L1358.1,764.4L1360.1,762.5L1362.1,760.6L1364.1,758.7L1366.1,756.9L1368.1,755.1L1370.1,753.4L1372.1,751.7L1374.1,750.1L1376.1,748.5L1378.1,747L1380.1,745.7L1382.1,744.4L1384.1,743.3L1386.1,742.3L1388.1,741.4L1390.1,740.6L1392.2,740L1394.2,739.4L1396.2,738.9L1398.2,738.6L1400.2,738.3L1402.2,738.2L1404.2,738.3L1406.2,738.4L1408.2,738.8L1410.2,739.2L1412.2,739.8L1414.2,740.6L1416.2,741.4L1418.2,742.4L1420.2,743.5L1422.2,744.6L1424.2,745.9L1426.2,747.3L1428.2,748.9L1430.2,750.6L1432.2,752.7L1434.2,754.9L1436.2,757.1L1438.2,758.7L1440.2,759.6L1442.2,759.8L1444.2,759.7L1446.2,759.2L1448.2,758.6L1450.2,757.9L1452.2,757.1L1454.2,756.2L1456.2,755.3L1458.2,754.4L1460.2,753.4L1462.2,752.4L1464.2,751.3L1466.2,750.3L1468.2,749.2L1470.2,748.1L1472.2,747.2L1474.2,746.8L1476.3,746.7L1478.3,747.1L1480.3,747.7L1482.3,748.3L1484.3,748.8L1486.3,749L1488.3,748.7L1490.3,747.8L1492.3,746.1L1494.3,743.7L1496.3,740.5L1498.3,736.4L1500.3,731.2L1502.3,724.9L1504.3,717.8L1506.3,710.4L1508.3,703.1L1510.3,696L1512.3,689.1L1514.3,682.6L1516.3,676.5L1518.3,670.8L1520.3,665.5L1522.3,660.7L1524.3,656.6L1526.3,653.4L1528.3,651.4L1530.3,651L1532.3,652.2L1534.3,654.7L1536.3,658.4L1538.3,663L1540.3,668.3L1542.3,674.2L1544.3,680.2L1546.3,685.8L1548.3,691L1550.3,695.8L1552.3,700.1L1554.3,703.8L1556.3,707L1558.4,709.7L1560.4,712.1L1562.4,714.1L1564.4,715.9L1566.4,717.5L1568.4,719L1570.4,720.7L1572.4,722.5L1574.4,724.7L1576.4,727L1578.4,729.5L1580.4,731.9L1582.4,734.2L1584.4,736.3L1586.4,738.4L1588.4,740.4L1590.4,742.4L1592.4,744.4L1594.4,746.3L1596.4,748.3L1598.4,750.3L1600.4,752.3L1602.4,754.3L1604.4,756.3L1606.4,758.3" stroke="#000" stroke-width="5" fill="none" stroke-linecap="butt" stroke-linejoin="round"/>
<path d="M1296,806.4H1300.4V787.5H1304.7V773.5H1309V769.3H1313.4V770.2H1317.7V770.8H1322V771.3H1326.3V771.3H1330.7V771.2H1335V769.7H1339.3V765.3H1343.7V755.9H1348V742.9H1352.3V731.2H1356.7V720.4H1361V699.1H1365.3V687.5H1369.6V684.2H1374V685.8H1378.3V686.2H1382.6V686.2H1387V686.9H1391.3V691H1395.6V695.7H1400V700.7H1404.3V705H1408.6V711.1H1412.9V728.7H1417.3V730.9H1421.6V733H1425.9V735.2H1430.3V735.3H1434.6V735.2H1438.9V732.9H1443.3V728.3H1447.6V725.4H1451.9V721.6H1456.2V714.3H1460.6V709.6H1464.9V708H1469.2V712.8H1473.6V719.4H1477.9V730.8H1482.2V733.5H1486.6V734.6H1490.9V735.2H1495.2V734.3H1499.5V714.6H1503.9V665.8H1508.2V655.2H1512.5V581H1516.9V552.1H1521.2V557.4H1525.5V578.5H1529.9V614.9H1534.2V655.8H1538.5V675H1542.8V692.3H1547.2V713.4H1551.5V732H1555.8V739.3H1560.2V737.5H1564.5V720.8H1568.8V720.9H1573.2V721.8H1577.5V726.5H1581.8V736.9H1586.1V745.8H1590.5V754.5H1594.8V760.7H1599.1V765.4H1603.5V771.9H1606.4V776.4" stroke="#7EAFB9" stroke-width="4.3" fill="none" stroke-linejoin="miter"/>
</g></svg>
<rect x="1268.5" y="483.8" width="339" height="349" fill="none" stroke="#333" stroke-width="2"/>
<text x="1438" y="462.1" text-anchor="middle" font-size="21" fill="#1a1a1a" stroke="#1a1a1a">Porto Alegre</text>
</g>
<g>
<rect x="1633" y="483.8" width="339" height="349" fill="#fff"/>
<svg x="1633" y="483.8" width="339" height="349" overflow="hidden"><g transform="translate(-1633,-483.8)">
<path d="M1633,773.8H1972M1633,686.3H1972M1633,598.8H1972M1633,511.4H1972M1647.6,483.8V832.8M1703.8,483.8V832.8M1760.4,483.8V832.8M1817.2,483.8V832.8M1873.5,483.8V832.8M1929.4,483.8V832.8" stroke="#ebebeb" stroke-width="2.2" fill="none"/>
<path d="M1633,817.5H1972M1633,730.1H1972M1633,642.6H1972M1633,555.1H1972M1675.7,483.8V832.8M1731.9,483.8V832.8M1788.8,483.8V832.8M1845.7,483.8V832.8M1901.3,483.8V832.8M1957.5,483.8V832.8" stroke="#ebebeb" stroke-width="4.4" fill="none"/>
<text x="1658.1" y="516.6" font-size="29" fill="#000" stroke="#000">r=0.74</text>
<path d="M1856.9,483.8V832.8" stroke="#000" stroke-width="4.5" stroke-dasharray="4.2 4.6"/>
<path d="M1700.1,610.2L1702.1,606.9L1704.1,603.9L1706.1,601.4L1708.1,599.9L1710.1,599.9L1712.1,601.5L1714.1,604.4L1716.1,608L1718.1,611.9L1720.1,615.9L1722.1,620.3L1724.1,625.1L1726.1,630.4L1728.1,635.9L1730.1,641.2L1732.1,646.3L1734.1,651.1L1736.1,655.6L1738.1,660L1740.1,664.3L1742.1,668.6L1744.1,673.2L1746.1,678.7L1748.1,685.3L1750.1,692.7L1752.1,699L1754.1,702.9L1756.2,704.2L1758.2,703.8L1760.2,703L1762.2,702.2L1764.2,701.6L1766.2,701.1L1768.2,700.7L1770.2,700.5L1772.2,700.4L1774.2,700.6L1776.2,701.1L1778.2,702L1780.2,703.3L1782.2,705L1784.2,706.9L1786.2,709L1788.2,711.2L1790.2,713.5L1792.2,715.8L1794.2,718.2L1796.2,720.7L1798.2,723.1L1800.2,725.5L1802.2,727.6L1804.2,728.8L1806.2,728.5L1808.2,726.7L1810.2,723.7L1812.2,719.8L1814.2,715.3L1816.2,710.3L1818.2,704.7L1820.2,698.6L1822.2,692L1824.2,685L1826.2,677.9L1828.2,670.9L1830.2,663.9L1832.2,656.8L1834.2,649.6L1836.2,642L1838.2,634L1840.3,626.1L1842.3,618.4L1844.3,611.5L1846.3,605.7L1848.3,600.9L1850.3,597.3L1852.3,594.7L1854.3,592.7L1856.3,591L1858.3,589.6L1860.3,588.5L1862.3,587.5L1864.3,586.5L1866.3,585.4L1868.3,584.3L1870.3,583.4L1872.3,582.8L1874.3,582.8L1876.3,583.4L1878.3,584.4L1880.3,585.4L1882.3,586.3L1884.3,587.1L1886.3,587.7L1888.3,588.6L1890.3,589.8L1892.3,591.6L1894.3,594L1896.3,597L1898.3,600.6L1900.3,604.7L1902.3,609.4L1904.3,614.4L1906.3,619.6L1908.3,624.8L1910.3,629.6L1912.3,633.1L1914.3,634.8L1916.3,634.9L1918.3,634.5L1920.3,635L1922.3,637.1L1924.4,640.8L1926.4,645.5L1928.4,650.6L1930.4,655.4L1932.4,659.6L1934.4,663.1L1936.4,666.2L1938.4,668.9L1940.4,671.3L1942.4,673.5L1944.4,675.5L1946.4,677.3L1948.4,678.8L1950.4,680.2L1952.4,681.1L1954.4,681.7L1956.4,681.7L1958.4,681.1L1960.4,680.1L1962.4,678.9L1964.4,677.5L1966.4,676.1L1968.4,674.6L1970.4,673L1971.4,672.2L1971.4,764.3L1970.4,763.6L1968.4,762.2L1966.4,760.7L1964.4,759L1962.4,757.1L1960.4,754.8L1958.4,752.3L1956.4,749.6L1954.4,746.5L1952.4,743.1L1950.4,739.6L1948.4,736.2L1946.4,732.8L1944.4,729.7L1942.4,726.7L1940.4,723.8L1938.4,721.1L1936.4,718.4L1934.4,715.9L1932.4,713.5L1930.4,711L1928.4,708.5L1926.4,706.1L1924.4,703.7L1922.3,701.6L1920.3,699.8L1918.3,698.2L1916.3,696.6L1914.3,694.4L1912.3,691L1910.3,686.4L1908.3,681.3L1906.3,676.4L1904.3,671.9L1902.3,667.9L1900.3,664.2L1898.3,660.9L1896.3,658L1894.3,655.5L1892.3,653.4L1890.3,651.9L1888.3,650.7L1886.3,649.8L1884.3,649.1L1882.3,648.5L1880.3,647.9L1878.3,647.3L1876.3,646.8L1874.3,646.5L1872.3,646.4L1870.3,646.7L1868.3,647.2L1866.3,648L1864.3,649.1L1862.3,650.5L1860.3,651.9L1858.3,653.2L1856.3,654L1854.3,654.5L1852.3,655.1L1850.3,656.6L1848.3,659.8L1846.3,664.7L1844.3,670.9L1842.3,677.6L1840.3,684.5L1838.2,691.6L1836.2,698.7L1834.2,706L1832.2,713.5L1830.2,721L1828.2,728.5L1826.2,736.1L1824.2,743.7L1822.2,751.2L1820.2,758.6L1818.2,765.7L1816.2,772.6L1814.2,779.1L1812.2,784.8L1810.2,789.5L1808.2,792.9L1806.2,795L1804.2,795.9L1802.2,795.7L1800.2,794.8L1798.2,793.3L1796.2,791.5L1794.2,789.6L1792.2,787.5L1790.2,785.4L1788.2,783.3L1786.2,781.2L1784.2,779.2L1782.2,777.2L1780.2,775.4L1778.2,773.8L1776.2,772.5L1774.2,771.5L1772.2,770.8L1770.2,770.4L1768.2,770.2L1766.2,770.2L1764.2,770.2L1762.2,770.5L1760.2,770.8L1758.2,771.3L1756.2,771.1L1754.1,769.1L1752.1,764.4L1750.1,756.8L1748.1,748.1L1746.1,739.9L1744.1,732.9L1742.1,726.8L1740.1,721.2L1738.1,716.2L1736.1,711.5L1734.1,706.9L1732.1,702.3L1730.1,697.3L1728.1,691.9L1726.1,686.4L1724.1,681.1L1722.1,676.2L1720.1,671.8L1718.1,667.8L1716.1,664.4L1714.1,662.1L1712.1,660.9L1710.1,661.1L1708.1,662.6L1706.1,665.6L1704.1,670L1702.1,675.8L1700.1,682.2Z" fill="#b3b3b3" fill-opacity="0.85"/>
<path d="M1700.1,640.2L1702.1,636.5L1704.1,633.1L1706.1,630.3L1708.1,628.3L1710.1,627.6L1712.1,628.6L1714.1,631.2L1716.1,635.2L1718.1,640.1L1720.1,645.5L1722.1,651.4L1724.1,657.5L1726.1,663.8L1728.1,670.3L1730.1,676.9L1732.1,683.5L1734.1,690.1L1736.1,696.6L1738.1,703L1740.1,709.1L1742.1,714.9L1744.1,720.4L1746.1,725.6L1748.1,730.3L1750.1,734.3L1752.1,737.1L1754.1,738.5L1756.2,738.5L1758.2,737.8L1760.2,736.9L1762.2,736L1764.2,735.2L1766.2,734.5L1768.2,734L1770.2,733.6L1772.2,733.6L1774.2,733.9L1776.2,734.7L1778.2,735.9L1780.2,737.6L1782.2,739.7L1784.2,742L1786.2,744.5L1788.2,747L1790.2,749.5L1792.2,752L1794.2,754.4L1796.2,756.8L1798.2,759.2L1800.2,761.4L1802.2,763.2L1804.2,764L1806.2,763.5L1808.2,761.4L1810.2,757.7L1812.2,752.8L1814.2,747L1816.2,740.5L1818.2,733.7L1820.2,726.8L1822.2,719.9L1824.2,712.9L1826.2,705.8L1828.2,698.8L1830.2,691.8L1832.2,684.8L1834.2,677.6L1836.2,670.3L1838.2,662.7L1840.3,655.3L1842.3,648.2L1844.3,641.9L1846.3,636.7L1848.3,632.6L1850.3,629.7L1852.3,627.6L1854.3,626.1L1856.3,624.7L1858.3,623.3L1860.3,621.9L1862.3,620.4L1864.3,618.9L1866.3,617.4L1868.3,616L1870.3,614.7L1872.3,613.9L1874.3,613.7L1876.3,614L1878.3,614.7L1880.3,615.6L1882.3,616.5L1884.3,617.3L1886.3,618.2L1888.3,619.3L1890.3,620.7L1892.3,622.7L1894.3,625.4L1896.3,628.6L1898.3,632.5L1900.3,637.1L1902.3,642.3L1904.3,647.8L1906.3,653.3L1908.3,658.3L1910.3,662.7L1912.3,665.6L1914.3,666.9L1916.3,666.9L1918.3,666.5L1920.3,667L1922.3,669.2L1924.4,672.9L1926.4,677.6L1928.4,682.6L1930.4,687.4L1932.4,691.6L1934.4,695.1L1936.4,698.2L1938.4,700.9L1940.4,703.7L1942.4,706.3L1944.4,708.8L1946.4,711L1948.4,712.7L1950.4,714L1952.4,715L1954.4,715.9L1956.4,716.8L1958.4,717.6L1960.4,718.3L1962.4,718.8L1964.4,719.1L1966.4,719L1968.4,718.8L1970.4,718.5L1971.4,718.3" stroke="#000" stroke-width="5" fill="none" stroke-linecap="butt" stroke-linejoin="round"/>
<path d="M1677.1,774.4H1681.4V756.5H1685.7V731.6H1690V697.6H1694.4V663.5H1698.7V617.7H1703V606.8H1707.4V594.8H1711.7V572.1H1716V601.5H1720.4V597.2H1724.7V620.4H1729V632.4H1733.3V634H1737.7V639.6H1742V631.2H1746.3V630.3H1750.7V627.4H1755V659.4H1759.3V660.8H1763.7V670.7H1768V682.5H1772.3V707.4H1776.6V712.2H1781V718.1H1785.3V723.1H1789.6V727.5H1794V729.5H1798.3V729.9H1802.6V706.6H1807V678.5H1811.3V645.5H1815.6V634.2H1819.9V647.4H1824.3V663.6H1828.6V686.6H1832.9V700.8H1837.3V715.3H1841.6V681.3H1845.9V629.5H1850.3V599.2H1854.6V589H1858.9V553.1H1863.2V551.1H1867.6V596.2H1871.9V596.9H1876.2V545.8H1880.6V514.1H1884.9V510H1889.2V540.5H1893.6V546.1H1897.9V570.2H1902.2V573.3H1906.5V597.6H1910.9V635H1915.2V673.3H1919.5V694.5H1923.9V699.1H1928.2V703.1H1932.5V709H1936.9V715.5H1941.2V722H1945.5V732.6H1949.8V743.2H1954.2V751.9H1958.5V758.9H1962.8V761.1H1967.2V764.2H1971.4V767.3" stroke="#A5A597" stroke-width="4.3" fill="none" stroke-linejoin="miter"/>
</g></svg>
<rect x="1633" y="483.8" width="339" height="349" fill="none" stroke="#333" stroke-width="2"/>
<text x="1802.5" y="462.1" text-anchor="middle" font-size="21" fill="#1a1a1a" stroke="#1a1a1a">Porto Velho</text>
<path d="M1973.3,482.8V833.8" stroke="#000" stroke-width="4.4"/>
<text x="1993.5" y="784.5" font-size="21" fill="#000" stroke="#000">10.0%</text>
<text x="1993.5" y="710.4" font-size="21" fill="#000" stroke="#000">20.0%</text>
<text x="1993.5" y="636.2" font-size="21" fill="#000" stroke="#000">30.0%</text>
<text x="1993.5" y="562" font-size="21" fill="#000" stroke="#000">40.0%</text>
<path d="M1973.3,777H1985M1973.3,702.9H1985M1973.3,628.7H1985M1973.3,554.5H1985" stroke="#000" stroke-width="4.4"/>
<path d="M1675.7,832.8V845.2M1731.9,832.8V845.2M1788.8,832.8V845.2M1845.7,832.8V845.2M1901.3,832.8V845.2M1957.5,832.8V845.2" stroke="#333" stroke-width="4.4"/>
</g>
<g>
<rect x="175" y="913.5" width="339" height="349" fill="#fff"/>
<svg x="175" y="913.5" width="339" height="349" overflow="hidden"><g transform="translate(-175,-913.5)">
<path d="M175,1203.6H514M175,1116.1H514M175,1028.6H514M175,941.1H514M189.6,913.5V1262.5M245.8,913.5V1262.5M302.4,913.5V1262.5M359.2,913.5V1262.5M415.5,913.5V1262.5M471.4,913.5V1262.5" stroke="#ebebeb" stroke-width="2.2" fill="none"/>
<path d="M175,1247.3H514M175,1159.8H514M175,1072.3H514M175,984.9H514M217.7,913.5V1262.5M273.9,913.5V1262.5M330.8,913.5V1262.5M387.6,913.5V1262.5M443.3,913.5V1262.5M499.5,913.5V1262.5" stroke="#ebebeb" stroke-width="4.4" fill="none"/>
<text x="199.5" y="946.4" font-size="29" fill="#000" stroke="#000">r=0.39</text>
<path d="M399.3,913.5V1262.5" stroke="#000" stroke-width="4.5" stroke-dasharray="4.2 4.6"/>
<path d="M208,1112.2L210,1110.7L212,1108.9L214,1106.7L216.1,1104L218.1,1101.1L220.1,1098.2L222.1,1095.8L224.1,1093.9L226.1,1092.6L228.1,1091.9L230.1,1091.5L232.1,1091.6L234.1,1092.1L236.1,1093.1L238.1,1094.7L240.1,1096.8L242.1,1099.3L244.1,1102.2L246.1,1105.3L248.1,1108.5L250.1,1111.8L252.1,1115L254.1,1118L256.1,1120.8L258.1,1123.1L260.1,1124.7L262.1,1125.7L264.1,1126.2L266.1,1126.3L268.1,1126L270.1,1125.4L272.1,1124.6L274.1,1123.5L276.1,1122.4L278.1,1121.2L280.1,1119.9L282.1,1118.6L284.1,1117.2L286.1,1115.9L288.1,1114.6L290.1,1113.3L292.1,1112.2L294.1,1111.1L296.1,1110L298.1,1109.1L300.2,1108.1L302.2,1107.3L304.2,1106.4L306.2,1105.6L308.2,1104.9L310.2,1104.3L312.2,1103.7L314.2,1103.3L316.2,1103L318.2,1102.8L320.2,1102.7L322.2,1102.8L324.2,1103L326.2,1103.4L328.2,1104L330.2,1104.8L332.2,1105.8L334.2,1106.9L336.2,1108L338.2,1109.4L340.2,1110.8L342.2,1112.3L344.2,1114L346.2,1115.6L348.2,1117.1L350.2,1118.6L352.2,1119.9L354.2,1121.1L356.2,1122.2L358.2,1123.1L360.2,1124L362.2,1124.7L364.2,1125.3L366.2,1125.8L368.2,1126.2L370.2,1126.5L372.2,1126.6L374.2,1126.7L376.2,1126.5L378.2,1125.9L380.2,1125L382.2,1123.7L384.3,1122L386.3,1119.9L388.3,1117.5L390.3,1114.8L392.3,1112.1L394.3,1109.4L396.3,1107L398.3,1104.7L400.3,1102.5L402.3,1100.3L404.3,1098.2L406.3,1096.1L408.3,1094L410.3,1092L412.3,1090.1L414.3,1088.4L416.3,1086.8L418.3,1085.5L420.3,1084.3L422.3,1083.2L424.3,1082.3L426.3,1081.5L428.3,1080.8L430.3,1080.2L432.3,1079.7L434.3,1079.2L436.3,1078.8L438.3,1078.5L440.3,1078.2L442.3,1078.2L444.3,1078.4L446.3,1078.9L448.3,1079.6L450.3,1080.6L452.3,1081.9L454.3,1083.6L456.3,1085.7L458.3,1088.1L460.3,1090.8L462.3,1093.5L464.3,1096.1L466.4,1098.6L468.4,1100.9L470.4,1103.1L472.4,1105.2L474.4,1107.1L476.4,1108.7L478.4,1110.2L480.4,1111.4L482.4,1112.4L484.4,1112.9L486.4,1113.2L488.4,1113.1L490.4,1112.7L492.4,1112L494.4,1111L496.4,1109.7L498.4,1108.1L500.4,1106.3L502.4,1104.3L504.4,1102.1L506.4,1099.9L508.4,1097.6L510.4,1095.2L512.4,1092.7L514.4,1090.2L514.4,1120.2L512.4,1121L510.4,1121.7L508.4,1122.5L506.4,1123.4L504.4,1124.5L502.4,1125.7L500.4,1127.1L498.4,1128.6L496.4,1129.9L494.4,1131L492.4,1131.9L490.4,1132.6L488.4,1133L486.4,1133.2L484.4,1133L482.4,1132.6L480.4,1131.8L478.4,1130.8L476.4,1129.6L474.4,1128L472.4,1126.3L470.4,1124.3L468.4,1122L466.4,1119.6L464.3,1117.1L462.3,1114.3L460.3,1111.4L458.3,1108.5L456.3,1105.9L454.3,1103.7L452.3,1101.9L450.3,1100.6L448.3,1099.6L446.3,1098.9L444.3,1098.4L442.3,1098.2L440.3,1098.3L438.3,1098.5L436.3,1098.8L434.3,1099.2L432.3,1099.6L430.3,1100.1L428.3,1100.7L426.3,1101.5L424.3,1102.4L422.3,1103.7L420.3,1105.1L418.3,1106.7L416.3,1108.5L414.3,1110.3L412.3,1112.2L410.3,1114.1L408.3,1116.2L406.3,1118.2L404.3,1120.2L402.3,1122.2L400.3,1124.1L398.3,1126.1L396.3,1128.2L394.3,1130.6L392.3,1133.4L390.3,1136.3L388.3,1139.3L386.3,1141.8L384.3,1143.8L382.2,1145.4L380.2,1146.4L378.2,1146.9L376.2,1147L374.2,1146.8L372.2,1146.4L370.2,1145.9L368.2,1145.3L366.2,1144.7L364.2,1144.2L362.2,1143.6L360.2,1142.9L358.2,1142.3L356.2,1141.6L354.2,1141L352.2,1140.2L350.2,1139.2L348.2,1137.9L346.2,1136.3L344.2,1134.3L342.2,1132.2L340.2,1130.2L338.2,1128.5L336.2,1127.1L334.2,1125.8L332.2,1124.7L330.2,1123.8L328.2,1123L326.2,1122.4L324.2,1121.8L322.2,1121.5L320.2,1121.2L318.2,1121.1L316.2,1121.2L314.2,1121.4L312.2,1121.7L310.2,1122.3L308.2,1122.9L306.2,1123.6L304.2,1124.4L302.2,1125.3L300.2,1126.1L298.1,1127L296.1,1128L294.1,1129L292.1,1130.2L290.1,1131.4L288.1,1132.8L286.1,1134.2L284.1,1135.8L282.1,1137.3L280.1,1138.8L278.1,1140.1L276.1,1141.3L274.1,1142.3L272.1,1143.1L270.1,1143.7L268.1,1144L266.1,1144L264.1,1143.7L262.1,1143L260.1,1142L258.1,1140.4L256.1,1138.4L254.1,1135.9L252.1,1133L250.1,1129.8L248.1,1126.6L246.1,1123.3L244.1,1120.3L242.1,1117.4L240.1,1114.8L238.1,1112.7L236.1,1111.2L234.1,1110.2L232.1,1109.6L230.1,1109.6L228.1,1109.9L226.1,1110.7L224.1,1111.9L222.1,1113.6L220.1,1115.8L218.1,1118.4L216.1,1121.3L214,1124.3L212,1127.6L210,1130.9L208,1134.3Z" fill="#b3b3b3" fill-opacity="0.85"/>
<path d="M208,1129.3L210,1124.8L212,1120.5L214,1116.6L216.1,1113L218.1,1109.8L220.1,1107L222.1,1104.7L224.1,1102.9L226.1,1101.6L228.1,1100.9L230.1,1100.5L232.1,1100.6L234.1,1101.1L236.1,1102.2L238.1,1103.7L240.1,1105.8L242.1,1108.4L244.1,1111.2L246.1,1114.3L248.1,1117.5L250.1,1120.8L252.1,1124L254.1,1127.1L256.1,1129.8L258.1,1132.1L260.1,1133.7L262.1,1134.8L264.1,1135.2L266.1,1135.3L268.1,1135L270.1,1134.4L272.1,1133.6L274.1,1132.6L276.1,1131.4L278.1,1130.2L280.1,1128.9L282.1,1127.6L284.1,1126.2L286.1,1124.9L288.1,1123.6L290.1,1122.3L292.1,1121.2L294.1,1120.1L296.1,1119L298.1,1118.1L300.2,1117.1L302.2,1116.3L304.2,1115.4L306.2,1114.6L308.2,1113.9L310.2,1113.2L312.2,1112.7L314.2,1112.4L316.2,1112.2L318.2,1112.1L320.2,1112.2L322.2,1112.5L324.2,1112.8L326.2,1113.4L328.2,1114L330.2,1114.9L332.2,1115.8L334.2,1116.9L336.2,1118.1L338.2,1119.4L340.2,1120.8L342.2,1122.4L344.2,1124L346.2,1125.6L348.2,1127.2L350.2,1128.6L352.2,1129.9L354.2,1131.1L356.2,1132.2L358.2,1133.2L360.2,1134L362.2,1134.7L364.2,1135.3L366.2,1135.8L368.2,1136.3L370.2,1136.7L372.2,1137L374.2,1137.2L376.2,1137.2L378.2,1137L380.2,1136.3L382.2,1135.3L384.3,1133.8L386.3,1131.8L388.3,1129.3L390.3,1126.4L392.3,1123.4L394.3,1120.5L396.3,1118L398.3,1115.7L400.3,1113.5L402.3,1111.3L404.3,1109.2L406.3,1107.1L408.3,1105.1L410.3,1103L412.3,1101.1L414.3,1099.3L416.3,1097.7L418.3,1096.1L420.3,1094.7L422.3,1093.5L424.3,1092.4L426.3,1091.5L428.3,1090.7L430.3,1090.2L432.3,1089.7L434.3,1089.2L436.3,1088.8L438.3,1088.5L440.3,1088.2L442.3,1088.2L444.3,1088.4L446.3,1088.9L448.3,1089.6L450.3,1090.5L452.3,1091.9L454.3,1093.7L456.3,1095.9L458.3,1098.6L460.3,1101.4L462.3,1104.3L464.3,1107L466.4,1109.4L468.4,1111.6L470.4,1113.6L472.4,1115.4L474.4,1117.2L476.4,1118.7L478.4,1120.2L480.4,1121.4L482.4,1122.3L484.4,1122.9L486.4,1123.2L488.4,1123L490.4,1122.6L492.4,1122L494.4,1121.1L496.4,1120.1L498.4,1118.8L500.4,1117.4L502.4,1115.8L504.4,1114.1L506.4,1112.3L508.4,1110.4L510.4,1108.4L512.4,1106.3L514.4,1104.2" stroke="#000" stroke-width="5" fill="none" stroke-linecap="butt" stroke-linejoin="round"/>
<path d="M211,1159.3H215.4V1123.4H219.7V1078.5H224V1041.5H228.4V1003.3H232.7V998.1H237V1005.8H241.4V1032.7H245.7V1052.7H250V1077.7H254.3V1098.6H258.7V1120.8H263V1139.5H267.3V1147.1H271.7V1149.1H276V1153.2H280.3V1155.8H284.7V1156.9H289V1156.6H293.3V1154.7H297.6V1152.5H302V1151.3H306.3V1151.3H310.6V1152.5H315V1155.4H319.3V1158.8H323.6V1160.9H328V1162.2H332.3V1165.3H336.6V1165.5H340.9V1159.6H345.3V1151.9H349.6V1137.5H353.9V1124.4H358.3V1105.7H362.6V1093.4H366.9V1087.2H371.3V1087.2H375.6V1093.8H379.9V1106.8H384.2V1112.9H388.6V1123H392.9V1131.8H397.2V1151.7H401.6V1166.5H405.9V1168.7H410.2V1168.8H414.6V1166.2H418.9V1160.6H423.2V1128.8H427.5V1109.2H431.9V1081.9H436.2V1065.2H440.5V1066.7H444.9V1072H449.2V1087.9H453.5V1089H457.9V1090.1H462.2V1091.2H466.5V1092.3H470.8V1094.7H475.2V1102.8H479.5V1116H483.8V1129.1H488.2V1140.2H492.5V1147.9H496.8V1148.3H501.2V1141.6H505.5V1134.6H509.8V1134.3H514.1V1138H514.4V1138.3" stroke="#CF121B" stroke-width="4.3" fill="none" stroke-linejoin="miter"/>
</g></svg>
<rect x="175" y="913.5" width="339" height="349" fill="none" stroke="#333" stroke-width="2"/>
<text x="344.5" y="891.8" text-anchor="middle" font-size="21" fill="#1a1a1a" stroke="#1a1a1a">Rio de Janeiro</text>
<text x="153" y="1254.8" text-anchor="end" font-size="21" fill="#4d4d4d" stroke="#4d4d4d">0.0</text>
<text x="153" y="1167.3" text-anchor="end" font-size="21" fill="#4d4d4d" stroke="#4d4d4d">0.2</text>
<text x="153" y="1079.8" text-anchor="end" font-size="21" fill="#4d4d4d" stroke="#4d4d4d">0.4</text>
<text x="153" y="992.4" text-anchor="end" font-size="21" fill="#4d4d4d" stroke="#4d4d4d">0.6</text>
<path d="M162.5,1247.3H175M162.5,1159.8H175M162.5,1072.3H175M162.5,984.9H175" stroke="#333" stroke-width="4.4"/>
<path d="M217.7,1262.5V1275M273.9,1262.5V1275M330.8,1262.5V1275M387.6,1262.5V1275M443.3,1262.5V1275M499.5,1262.5V1275" stroke="#333" stroke-width="4.4"/>
</g>
<g>
<rect x="539.5" y="913.5" width="339" height="349" fill="#fff"/>
<svg x="539.5" y="913.5" width="339" height="349" overflow="hidden"><g transform="translate(-539.5,-913.5)">
<path d="M539.5,1203.6H878.5M539.5,1116.1H878.5M539.5,1028.6H878.5M539.5,941.1H878.5M554.1,913.5V1262.5M610.3,913.5V1262.5M666.9,913.5V1262.5M723.7,913.5V1262.5M780,913.5V1262.5M835.9,913.5V1262.5" stroke="#ebebeb" stroke-width="2.2" fill="none"/>
<path d="M539.5,1247.3H878.5M539.5,1159.8H878.5M539.5,1072.3H878.5M539.5,984.9H878.5M582.2,913.5V1262.5M638.4,913.5V1262.5M695.3,913.5V1262.5M752.2,913.5V1262.5M807.8,913.5V1262.5M864,913.5V1262.5" stroke="#ebebeb" stroke-width="4.4" fill="none"/>
<text x="564.1" y="946.4" font-size="29" fill="#000" stroke="#000">r=0.47</text>
<path d="M750.3,913.5V1262.5" stroke="#000" stroke-width="4.5" stroke-dasharray="4.2 4.6"/>
<path d="M573,1192.3L575,1181.9L577,1171.8L579,1162.5L581.1,1154L583.1,1146.3L585.1,1139.3L587.1,1132.8L589.1,1126.8L591.1,1121.2L593.1,1116.2L595.1,1111.6L597.1,1107.6L599.1,1104.2L601.1,1101.4L603.1,1099.2L605.1,1097.7L607.1,1097L609.1,1097.1L611.1,1098L613.1,1099.5L615.1,1101.3L617.1,1103.1L619.1,1105L621.1,1107L623.1,1109L625.1,1111.2L627.1,1113.6L629.1,1116.2L631.1,1119L633.1,1121.8L635.1,1124.8L637.1,1127.9L639.1,1131.1L641.1,1134.4L643.1,1137.6L645.1,1140.7L647.1,1143.6L649.1,1146.3L651.1,1148.8L653.1,1151.1L655.1,1153.1L657.1,1154.8L659.1,1156.1L661.1,1157.1L663.2,1157.7L665.2,1157.9L667.2,1157.5L669.2,1156.5L671.2,1155L673.2,1153.2L675.2,1151.1L677.2,1149L679.2,1147L681.2,1145.3L683.2,1144.1L685.2,1143.3L687.2,1142.7L689.2,1142.4L691.2,1142.3L693.2,1142.4L695.2,1142.8L697.2,1143.6L699.2,1144.8L701.2,1146.1L703.2,1147.6L705.2,1149.1L707.2,1150.8L709.2,1152.5L711.2,1154.1L713.2,1155.5L715.2,1156.6L717.2,1157.5L719.2,1158.3L721.2,1158.9L723.2,1159.5L725.2,1160L727.2,1160.6L729.2,1161.1L731.2,1161.6L733.2,1161.9L735.2,1162.2L737.2,1162.3L739.2,1162.3L741.2,1162.1L743.2,1161.5L745.2,1160.3L747.3,1158.3L749.3,1155.4L751.3,1152L753.3,1148.4L755.3,1145.1L757.3,1142.3L759.3,1139.7L761.3,1137.5L763.3,1135.5L765.3,1133.7L767.3,1132.1L769.3,1130.6L771.3,1129L773.3,1127.5L775.3,1126L777.3,1124.4L779.3,1122.8L781.3,1121L783.3,1119L785.3,1116.8L787.3,1114.4L789.3,1112L791.3,1109.5L793.3,1107.1L795.3,1104.7L797.3,1102.3L799.3,1099.9L801.3,1097.4L803.3,1094.6L805.3,1091.7L807.3,1088.7L809.3,1085.8L811.3,1083.5L813.3,1081.8L815.3,1081.3L817.3,1082.3L819.3,1084.8L821.3,1088.5L823.3,1093.1L825.3,1098.3L827.3,1103.8L829.3,1109.4L831.4,1115.1L833.4,1120.8L835.4,1126.3L837.4,1131.4L839.4,1136.1L841.4,1140.1L843.4,1143.6L845.4,1146.3L847.4,1148L849.4,1148.7L851.4,1148.5L853.4,1147.8L855.4,1146.6L857.4,1144.5L859.4,1141.3L861.4,1136.6L863.4,1130.8L865.4,1124L867.4,1116.4L869.4,1108.4L871.4,1100.1L873.4,1091.9L875.4,1083.6L877.4,1075.3L878.4,1071.2L878.4,1091.2L877.4,1095.3L875.4,1103.5L873.4,1111.8L871.4,1120.3L869.4,1129.3L867.4,1138.4L865.4,1147L863.4,1154.6L861.4,1160.7L859.4,1165.5L857.4,1169.1L855.4,1171.6L853.4,1173.4L851.4,1174.4L849.4,1174.8L847.4,1174.1L845.4,1172.4L843.4,1169.7L841.4,1166.2L839.4,1162.1L837.4,1157.4L835.4,1152.2L833.4,1146.7L831.4,1141.2L829.3,1135.7L827.3,1130.5L825.3,1125.5L823.3,1120.9L821.3,1117L819.3,1113.9L817.3,1111.8L815.3,1110.8L813.3,1110.9L811.3,1111.9L809.3,1113.6L807.3,1115.8L805.3,1118.3L803.3,1120.9L801.3,1123.4L799.3,1125.9L797.3,1128.3L795.3,1130.7L793.3,1133.1L791.3,1135.5L789.3,1137.9L787.3,1140.4L785.3,1142.8L783.3,1145.1L781.3,1147.3L779.3,1149.4L777.3,1151.5L775.3,1153.4L773.3,1155.3L771.3,1157L769.3,1158.6L767.3,1160.1L765.3,1161.8L763.3,1163.6L761.3,1165.8L759.3,1168.5L757.3,1171.5L755.3,1174.9L753.3,1178.6L751.3,1182.6L749.3,1186.3L747.3,1189.2L745.2,1191L743.2,1191.7L741.2,1191.7L739.2,1191.3L737.2,1190.7L735.2,1190L733.2,1189.4L731.2,1188.6L729.2,1187.8L727.2,1186.8L725.2,1185.7L723.2,1184.4L721.2,1183.1L719.2,1181.7L717.2,1180.4L715.2,1179L713.2,1177.7L711.2,1176.4L709.2,1175.2L707.2,1174L705.2,1172.9L703.2,1171.8L701.2,1170.8L699.2,1169.9L697.2,1169.2L695.2,1168.7L693.2,1168.5L691.2,1168.5L689.2,1168.7L687.2,1169.1L685.2,1169.5L683.2,1170.1L681.2,1170.8L679.2,1171.6L677.2,1172.6L675.2,1173.9L673.2,1175.3L671.2,1177L669.2,1178.5L667.2,1179.4L665.2,1179.6L663.2,1179.1L661.1,1178.1L659.1,1176.7L657.1,1175.1L655.1,1173.2L653.1,1171.1L651.1,1168.7L649.1,1166.2L647.1,1163.6L645.1,1160.8L643.1,1157.9L641.1,1154.9L639.1,1151.9L637.1,1148.8L635.1,1145.7L633.1,1142.6L631.1,1139.5L629.1,1136.6L627.1,1133.8L625.1,1131.2L623.1,1128.9L621.1,1126.8L619.1,1124.9L617.1,1123.1L615.1,1121.5L613.1,1120.1L611.1,1119.1L609.1,1118.9L607.1,1119.6L605.1,1121.3L603.1,1123.8L601.1,1126.8L599.1,1130L597.1,1133.6L595.1,1137.7L593.1,1142.3L591.1,1147.8L589.1,1154.1L587.1,1161.1L585.1,1168.9L583.1,1177.5L581.1,1187L579,1197.4L577,1208.6L575,1220.3L573,1232.4Z" fill="#b3b3b3" fill-opacity="0.85"/>
<path d="M573,1207.4L575,1198.1L577,1188.9L579,1179.9L581.1,1171.1L583.1,1162.8L585.1,1155.1L587.1,1148L589.1,1141.5L591.1,1135.5L593.1,1130.3L595.1,1125.7L597.1,1121.6L599.1,1118.1L601.1,1114.9L603.1,1112.1L605.1,1109.9L607.1,1108.5L609.1,1108L611.1,1108.5L613.1,1109.8L615.1,1111.4L617.1,1113.1L619.1,1115L621.1,1116.9L623.1,1119L625.1,1121.2L627.1,1123.7L629.1,1126.3L631.1,1129L633.1,1131.9L635.1,1134.8L637.1,1137.8L639.1,1140.8L641.1,1143.8L643.1,1146.8L645.1,1149.8L647.1,1152.7L649.1,1155.5L651.1,1158.2L653.1,1160.8L655.1,1163L657.1,1165L659.1,1166.7L661.1,1168.1L663.2,1169.2L665.2,1169.6L667.2,1169.4L669.2,1168.5L671.2,1167L673.2,1165.3L675.2,1163.7L677.2,1162.3L679.2,1161L681.2,1159.9L683.2,1159L685.2,1158.2L687.2,1157.5L689.2,1157L691.2,1156.6L693.2,1156.5L695.2,1156.8L697.2,1157.4L699.2,1158.3L701.2,1159.4L703.2,1160.7L705.2,1162L707.2,1163.4L709.2,1164.9L711.2,1166.3L713.2,1167.6L715.2,1168.7L717.2,1169.7L719.2,1170.6L721.2,1171.4L723.2,1172.2L725.2,1172.9L727.2,1173.7L729.2,1174.4L731.2,1175L733.2,1175.6L735.2,1176.1L737.2,1176.5L739.2,1176.9L741.2,1177.1L743.2,1176.9L745.2,1176.1L747.3,1174.4L749.3,1171.6L751.3,1168.1L753.3,1164.4L755.3,1160.8L757.3,1157.5L759.3,1154.5L761.3,1151.8L763.3,1149.6L765.3,1147.7L767.3,1146L769.3,1144.5L771.3,1143L773.3,1141.5L775.3,1140L777.3,1138.5L779.3,1136.8L781.3,1135L783.3,1133.1L785.3,1130.9L787.3,1128.5L789.3,1126L791.3,1123.5L793.3,1121L795.3,1118.4L797.3,1115.8L799.3,1113.2L801.3,1110.5L803.3,1107.8L805.3,1105L807.3,1102.2L809.3,1099.7L811.3,1097.7L813.3,1096.4L815.3,1096.1L817.3,1097L819.3,1099.3L821.3,1102.7L823.3,1106.8L825.3,1111.5L827.3,1116.5L829.3,1121.7L831.4,1127.2L833.4,1132.7L835.4,1138.2L837.4,1143.4L839.4,1148L841.4,1152.1L843.4,1155.6L845.4,1158.5L847.4,1160.5L849.4,1161.7L851.4,1161.9L853.4,1161.2L855.4,1159.7L857.4,1157.1L859.4,1153.4L861.4,1148.6L863.4,1142.7L865.4,1135.5L867.4,1127.4L869.4,1118.8L871.4,1110.2L873.4,1101.8L875.4,1093.5L877.4,1085.3L878.4,1081.2" stroke="#000" stroke-width="5" fill="none" stroke-linecap="butt" stroke-linejoin="round"/>
<path d="M574,1200.3H578.4V1198.2H582.7V1195.7H587V1193.3H591.4V1186.1H595.7V1175.4H600V1133.3H604.4V1105.1H608.7V1075H613V1047.9H617.3V1034.1H621.7V1037.3H626V1039.1H630.3V1048.4H634.7V1054.3H639V1062.1H643.3V1071.8H647.7V1080.3H652V1095.8H656.3V1102.7H660.6V1109.7H665V1119.5H669.3V1139.7H673.6V1163.1H678V1167.3H682.3V1165.2H686.6V1161.7H691V1156.9H695.3V1155.3H699.6V1154.9H703.9V1156.6H708.3V1159.8H712.6V1162H716.9V1152.9H721.3V1140.6H725.6V1124.6H729.9V1115.6H734.3V1111.2H738.6V1113.6H742.9V1117.2H747.2V1117H751.6V1116.6H755.9V1117.2H760.2V1117.7H764.6V1112.1H768.9V1089H773.2V1068.9H777.6V1034.1H781.9V1008.9H786.2V993.8H790.5V985.8H794.9V986.1H799.2V1002.2H803.5V1009.8H807.9V1052.3H812.2V1065H816.5V1065.7H820.9V1058.9H825.2V1045.5H829.5V1020.7H833.8V1012.1H838.2V1012.1H842.5V1026.2H846.8V1031.8H851.2V1064.4H855.5V1088.2H859.8V1122.4H864.2V1140H868.5V1161.8H872.8V1173.8H877.1V1176.4H878.4V1177.3" stroke="#A63A30" stroke-width="4.3" fill="none" stroke-linejoin="miter"/>
</g></svg>
<rect x="539.5" y="913.5" width="339" height="349" fill="none" stroke="#333" stroke-width="2"/>
<text x="709" y="891.8" text-anchor="middle" font-size="21" fill="#1a1a1a" stroke="#1a1a1a">Salvador</text>
<path d="M582.2,1262.5V1275M638.4,1262.5V1275M695.3,1262.5V1275M752.2,1262.5V1275M807.8,1262.5V1275M864,1262.5V1275" stroke="#333" stroke-width="4.4"/>
</g>
<g>
<rect x="904" y="913.5" width="339" height="349" fill="#fff"/>
<svg x="904" y="913.5" width="339" height="349" overflow="hidden"><g transform="translate(-904,-913.5)">
<path d="M904,1203.6H1243M904,1116.1H1243M904,1028.6H1243M904,941.1H1243M918.6,913.5V1262.5M974.8,913.5V1262.5M1031.4,913.5V1262.5M1088.2,913.5V1262.5M1144.5,913.5V1262.5M1200.4,913.5V1262.5" stroke="#ebebeb" stroke-width="2.2" fill="none"/>
<path d="M904,1247.3H1243M904,1159.8H1243M904,1072.3H1243M904,984.9H1243M946.7,913.5V1262.5M1002.9,913.5V1262.5M1059.8,913.5V1262.5M1116.7,913.5V1262.5M1172.3,913.5V1262.5M1228.5,913.5V1262.5" stroke="#ebebeb" stroke-width="4.4" fill="none"/>
<text x="929.1" y="946.4" font-size="29" fill="#000" stroke="#000">r=0.46</text>
<path d="M1128.3,913.5V1262.5" stroke="#000" stroke-width="4.5" stroke-dasharray="4.2 4.6"/>
<path d="M949.1,1124.3L951.1,1120.7L953.1,1117.2L955.1,1113.9L957.1,1111L959.1,1108.4L961.1,1106.4L963.1,1105.6L965.1,1106.2L967.1,1108.4L969.1,1111.3L971.1,1114.2L973.1,1116.6L975.1,1118.2L977.1,1119.2L979.1,1119.9L981.1,1120.3L983.1,1120.5L985.1,1120.6L987.1,1120.5L989.1,1120.3L991.1,1120L993.1,1119.5L995.1,1118.8L997.1,1117.9L999.1,1116.6L1001.1,1114.6L1003.1,1112L1005.1,1109L1007.1,1105.9L1009.1,1102.7L1011.1,1099.7L1013.1,1097.2L1015.1,1095.8L1017.1,1095.7L1019.1,1097L1021.1,1099.5L1023.1,1102.7L1025.1,1106.4L1027.2,1110.6L1029.2,1115.1L1031.2,1119.9L1033.2,1125L1035.2,1130.2L1037.2,1135.5L1039.2,1140.7L1041.2,1145.6L1043.2,1150.1L1045.2,1154.2L1047.2,1158L1049.2,1161.4L1051.2,1164.6L1053.2,1167.5L1055.2,1170L1057.2,1172L1059.2,1173.4L1061.2,1174.1L1063.2,1174.3L1065.2,1174.1L1067.2,1173.5L1069.2,1172.6L1071.2,1171.4L1073.2,1169.8L1075.2,1167.8L1077.2,1165.4L1079.2,1162.7L1081.2,1159.8L1083.2,1156.7L1085.2,1153.4L1087.2,1150L1089.2,1146.4L1091.2,1142.6L1093.2,1138.7L1095.2,1134.6L1097.2,1130.2L1099.2,1125.4L1101.2,1120.3L1103.2,1114.8L1105.2,1109.1L1107.2,1103.5L1109.2,1097.9L1111.3,1092.4L1113.3,1086.9L1115.3,1081.6L1117.3,1076.3L1119.3,1071.4L1121.3,1066.8L1123.3,1062.7L1125.3,1059.2L1127.3,1056.2L1129.3,1053.6L1131.3,1051.4L1133.3,1049.8L1135.3,1049.2L1137.3,1049.9L1139.3,1051.9L1141.3,1054.7L1143.3,1058L1145.3,1061.5L1147.3,1065L1149.3,1068.4L1151.3,1071.5L1153.3,1074.5L1155.3,1077.3L1157.3,1080.1L1159.3,1082.9L1161.3,1085.8L1163.3,1088.7L1165.3,1091.7L1167.3,1094.7L1169.3,1097.6L1171.3,1100.5L1173.3,1103.3L1175.3,1106.1L1177.3,1108.9L1179.3,1111.8L1181.3,1114.7L1183.3,1117.6L1185.3,1120.3L1187.3,1122.8L1189.3,1124.8L1191.3,1126.4L1193.3,1127.4L1195.4,1127.8L1197.4,1127.8L1199.4,1127.4L1201.4,1126.6L1203.4,1125.8L1205.4,1124.9L1207.4,1124.2L1209.4,1123.6L1211.4,1122.6L1213.4,1120.3L1215.4,1116.4L1217.4,1110.8L1219.4,1103.8L1221.4,1096.1L1223.4,1087.8L1225.4,1079.2L1227.4,1070.1L1229.4,1060.6L1231.4,1050.3L1233.4,1039.5L1235.4,1028.1L1235.4,1142.3L1233.4,1142.8L1231.4,1144.7L1229.4,1148.7L1227.4,1154.5L1225.4,1161.4L1223.4,1168.5L1221.4,1175.5L1219.4,1182L1217.4,1188L1215.4,1193.1L1213.4,1197.2L1211.4,1200.1L1209.4,1202.1L1207.4,1203.6L1205.4,1204.9L1203.4,1206L1201.4,1206.9L1199.4,1207.6L1197.4,1208L1195.4,1208L1193.3,1207.5L1191.3,1206.5L1189.3,1204.9L1187.3,1202.6L1185.3,1199.8L1183.3,1196.6L1181.3,1193.3L1179.3,1190.1L1177.3,1187.3L1175.3,1184.8L1173.3,1182.4L1171.3,1180L1169.3,1177.3L1167.3,1174.1L1165.3,1170.4L1163.3,1166.5L1161.3,1162.5L1159.3,1158.9L1157.3,1155.5L1155.3,1152.3L1153.3,1149.1L1151.3,1145.7L1149.3,1142.1L1147.3,1138.1L1145.3,1134.2L1143.3,1130.6L1141.3,1127.8L1139.3,1125.9L1137.3,1124.8L1135.3,1124.5L1133.3,1124.8L1131.3,1126.1L1129.3,1128.5L1127.3,1131.8L1125.3,1135.8L1123.3,1140.1L1121.3,1144.8L1119.3,1149.6L1117.3,1154.6L1115.3,1159.8L1113.3,1165.1L1111.3,1170.6L1109.2,1176.1L1107.2,1181.5L1105.2,1186.5L1103.2,1191.2L1101.2,1195.7L1099.2,1200.2L1097.2,1204.6L1095.2,1209L1093.2,1213.5L1091.2,1217.9L1089.2,1222.2L1087.2,1226.4L1085.2,1230.5L1083.2,1234.5L1081.2,1238.5L1079.2,1242.5L1077.2,1246.7L1075.2,1251L1073.2,1255L1071.2,1258.3L1069.2,1260.7L1067.2,1262.3L1065.2,1263.3L1063.2,1263.9L1061.2,1264.2L1059.2,1264.4L1057.2,1264.2L1055.2,1263.7L1053.2,1262.8L1051.2,1261.3L1049.2,1259.5L1047.2,1257.3L1045.2,1254.7L1043.2,1251.7L1041.2,1248.1L1039.2,1243.9L1037.2,1239.3L1035.2,1234.2L1033.2,1228.8L1031.2,1222.8L1029.2,1216.4L1027.2,1209.9L1025.1,1203.9L1023.1,1198.9L1021.1,1194.8L1019.1,1191.8L1017.1,1189.9L1015.1,1189L1013.1,1189.2L1011.1,1190.2L1009.1,1191.6L1007.1,1193.1L1005.1,1194.6L1003.1,1196.1L1001.1,1197.6L999.1,1198.8L997.1,1199.9L995.1,1200.8L993.1,1201.5L991.1,1202L989.1,1202.2L987.1,1202.1L985.1,1201.8L983.1,1201.3L981.1,1200.6L979.1,1199.6L977.1,1198.3L975.1,1196.8L973.1,1195.1L971.1,1193.4L969.1,1191.7L967.1,1190.2L965.1,1189.2L963.1,1189.1L961.1,1189.7L959.1,1191.3L957.1,1193.7L955.1,1197.1L953.1,1201.6L951.1,1206.8L949.1,1212.4Z" fill="#b3b3b3" fill-opacity="0.85"/>
<path d="M949.1,1172.3L951.1,1166.2L953.1,1160.4L955.1,1155.4L957.1,1151.3L959.1,1148.3L961.1,1146.3L963.1,1145.3L965.1,1145.5L967.1,1146.8L969.1,1148.8L971.1,1151L973.1,1153.2L975.1,1155.2L977.1,1156.9L979.1,1158.4L981.1,1159.5L983.1,1160.3L985.1,1160.9L987.1,1161.2L989.1,1161.2L991.1,1160.9L993.1,1160.3L995.1,1159.5L997.1,1158.3L999.1,1156.7L1001.1,1154.6L1003.1,1151.9L1005.1,1148.9L1007.1,1146L1009.1,1143.7L1011.1,1142L1013.1,1141L1015.1,1140.9L1017.1,1141.9L1019.1,1144L1021.1,1147L1023.1,1150.6L1025.1,1154.8L1027.2,1159.5L1029.2,1164.5L1031.2,1169.7L1033.2,1175L1035.2,1180.4L1037.2,1185.7L1039.2,1190.8L1041.2,1195.7L1043.2,1200.2L1045.2,1204.4L1047.2,1208.2L1049.2,1211.6L1051.2,1214.6L1053.2,1217.2L1055.2,1219.1L1057.2,1220.4L1059.2,1220.9L1061.2,1220.7L1063.2,1220L1065.2,1218.8L1067.2,1217.1L1069.2,1215.1L1071.2,1212.6L1073.2,1209.5L1075.2,1206L1077.2,1202.3L1079.2,1198.7L1081.2,1195.1L1083.2,1191.5L1085.2,1187.9L1087.2,1184.1L1089.2,1180.2L1091.2,1176L1093.2,1171.7L1095.2,1167.2L1097.2,1162.5L1099.2,1157.5L1101.2,1152.2L1103.2,1146.7L1105.2,1141.1L1107.2,1135.4L1109.2,1129.7L1111.3,1124.2L1113.3,1119.2L1115.3,1114.6L1117.3,1110.7L1119.3,1107.2L1121.3,1103.8L1123.3,1100.3L1125.3,1096.7L1127.3,1093.2L1129.3,1090.2L1131.3,1088L1133.3,1086.8L1135.3,1086.6L1137.3,1087.4L1139.3,1089L1141.3,1091.2L1143.3,1093.8L1145.3,1096.7L1147.3,1099.7L1149.3,1102.7L1151.3,1105.6L1153.3,1108.4L1155.3,1111.2L1157.3,1114L1159.3,1116.9L1161.3,1119.8L1163.3,1122.9L1165.3,1125.8L1167.3,1128.7L1169.3,1131.2L1171.3,1133.5L1173.3,1135.6L1175.3,1137.8L1177.3,1140.3L1179.3,1143.1L1181.3,1146.3L1183.3,1149.7L1185.3,1153.1L1187.3,1156.5L1189.3,1159.8L1191.3,1162.8L1193.3,1165.3L1195.4,1167L1197.4,1167.9L1199.4,1167.9L1201.4,1167.3L1203.4,1166.3L1205.4,1164.8L1207.4,1162.9L1209.4,1160.5L1211.4,1157.4L1213.4,1153.9L1215.4,1149.8L1217.4,1145.2L1219.4,1140.2L1221.4,1134.9L1223.4,1129.4L1225.4,1123.6L1227.4,1117.6L1229.4,1111L1231.4,1103.5L1233.4,1095.2L1235.4,1086.2" stroke="#000" stroke-width="5" fill="none" stroke-linecap="butt" stroke-linejoin="round"/>
<path d="M926,1216.4H930.4V1222.8H934.7V1210.1H939V1202H943.3V1183.9H947.7V1148.7H952V1122.8H956.3V1067.6H960.7V1039.2H965V1039.2H969.3V1078.6H973.7V1120.8H978V1141.6H982.3V1156.4H986.6V1157.8H991V1166.2H995.3V1175.3H999.6V1186.2H1004V1204H1008.3V1221.5H1012.6V1225.4H1017V1225.4H1021.3V1223.8H1025.6V1221.6H1029.9V1222.3H1034.3V1223.4H1038.6V1224.4H1042.9V1224.6H1047.3V1225.4H1051.6V1226.1H1055.9V1227.8H1060.3V1228.4H1064.6V1229.6H1068.9V1228.3H1073.2V1222.8H1077.6V1215.9H1081.9V1211.6H1086.2V1218.4H1090.6V1221.7H1094.9V1221.8H1099.2V1218.4H1103.6V1217.4H1107.9V1217.4H1112.2V1205.5H1116.5V1187.2H1120.9V1169.8H1125.2V1157.4H1129.5V1143.3H1133.9V1130.7H1138.2V1108H1142.5V1085.3H1146.9V1067.4H1151.2V1053.2H1155.5V1049.3H1159.8V1040.2H1164.2V1052.5H1168.5V1069H1172.8V1082.7H1177.2V1096.9H1181.5V1099.8H1185.8V1102H1190.2V1103.8H1194.5V1098.8H1198.8V1084.8H1203.1V1073.8H1207.5V1072.2H1211.8V1073.2H1216.1V1088.9H1220.5V1112.4H1224.8V1134.9H1229.1V1155.3H1233.5V1164.1H1237.8V1176.2H1242.1V1180.2H1242.4V1180.3" stroke="#8C735C" stroke-width="4.3" fill="none" stroke-linejoin="miter"/>
</g></svg>
<rect x="904" y="913.5" width="339" height="349" fill="none" stroke="#333" stroke-width="2"/>
<text x="1073.5" y="891.8" text-anchor="middle" font-size="21" fill="#1a1a1a" stroke="#1a1a1a">São Luís</text>
<path d="M946.7,1262.5V1275M1002.9,1262.5V1275M1059.8,1262.5V1275M1116.7,1262.5V1275M1172.3,1262.5V1275M1228.5,1262.5V1275" stroke="#333" stroke-width="4.4"/>
</g>
<g>
<rect x="1268.5" y="913.5" width="339" height="349" fill="#fff"/>
<svg x="1268.5" y="913.5" width="339" height="349" overflow="hidden"><g transform="translate(-1268.5,-913.5)">
<path d="M1268.5,1203.6H1607.5M1268.5,1116.1H1607.5M1268.5,1028.6H1607.5M1268.5,941.1H1607.5M1283.1,913.5V1262.5M1339.3,913.5V1262.5M1395.9,913.5V1262.5M1452.7,913.5V1262.5M1509,913.5V1262.5M1564.9,913.5V1262.5" stroke="#ebebeb" stroke-width="2.2" fill="none"/>
<path d="M1268.5,1247.3H1607.5M1268.5,1159.8H1607.5M1268.5,1072.3H1607.5M1268.5,984.9H1607.5M1311.2,913.5V1262.5M1367.4,913.5V1262.5M1424.3,913.5V1262.5M1481.2,913.5V1262.5M1536.8,913.5V1262.5M1593,913.5V1262.5" stroke="#ebebeb" stroke-width="4.4" fill="none"/>
<text x="1293.1" y="946.4" font-size="29" fill="#000" stroke="#000">r=0.57</text>
<path d="M1500.7,913.5V1262.5" stroke="#000" stroke-width="4.5" stroke-dasharray="4.2 4.6"/>
<path d="M1293,1120.2L1295,1125.9L1297,1131.3L1299,1136.5L1301,1141.4L1303,1146.1L1305,1150.9L1307,1155.7L1309.1,1160.2L1311.1,1163.9L1313.1,1166.5L1315.1,1168.1L1317.1,1169.1L1319.1,1169.7L1321.1,1170.1L1323.1,1170.5L1325.1,1170.9L1327.1,1171.2L1329.1,1171.6L1331.1,1172.2L1333.1,1173L1335.1,1174.1L1337.1,1175.3L1339.1,1176.5L1341.1,1177.7L1343.1,1178.6L1345.1,1179.5L1347.1,1180.2L1349.1,1180.9L1351.1,1181.5L1353.1,1182L1355.1,1182.5L1357.1,1183L1359.1,1183.4L1361.1,1183.7L1363.1,1184L1365.1,1184.2L1367.1,1184.3L1369.1,1184.4L1371.1,1184.4L1373.1,1184.4L1375.1,1184.4L1377.1,1184.3L1379.1,1184.3L1381.1,1184.3L1383.1,1184.2L1385.1,1184.2L1387.1,1184.2L1389.1,1184.3L1391.2,1184.5L1393.2,1184.7L1395.2,1185L1397.2,1185.3L1399.2,1185.7L1401.2,1186.1L1403.2,1186.7L1405.2,1187.2L1407.2,1187.9L1409.2,1188.6L1411.2,1189.3L1413.2,1190L1415.2,1190.7L1417.2,1191.4L1419.2,1192.1L1421.2,1192.8L1423.2,1193.4L1425.2,1194L1427.2,1194.6L1429.2,1195L1431.2,1195.5L1433.2,1195.8L1435.2,1196.1L1437.2,1196.2L1439.2,1196.2L1441.2,1196.1L1443.2,1195.9L1445.2,1195.6L1447.2,1195.1L1449.2,1194.6L1451.2,1193.9L1453.2,1193L1455.2,1192.1L1457.2,1191L1459.2,1189.9L1461.2,1188.9L1463.2,1187.8L1465.2,1186.8L1467.2,1185.7L1469.2,1184.7L1471.2,1183.7L1473.2,1182.8L1475.3,1182L1477.3,1181.3L1479.3,1180.7L1481.3,1180.1L1483.3,1179.4L1485.3,1178.6L1487.3,1177.6L1489.3,1176.3L1491.3,1174.8L1493.3,1173.2L1495.3,1171.5L1497.3,1169.7L1499.3,1167.6L1501.3,1165.2L1503.3,1162.2L1505.3,1158.7L1507.3,1154.9L1509.3,1151.3L1511.3,1148.2L1513.3,1145.7L1515.3,1143.7L1517.3,1142.2L1519.3,1140.9L1521.3,1139.8L1523.3,1138.8L1525.3,1137.7L1527.3,1136.7L1529.3,1135.8L1531.3,1135.1L1533.3,1134.6L1535.3,1134.4L1537.3,1134.4L1539.3,1134.5L1541.3,1134.9L1543.3,1135.4L1545.3,1136L1547.3,1136.9L1549.3,1138L1551.3,1139.3L1553.3,1140.7L1555.3,1142.1L1557.3,1143.5L1559.4,1144.9L1561.4,1146.3L1563.4,1147.6L1565.4,1149L1567.4,1150.3L1569.4,1151.6L1571.4,1152.9L1573.4,1154.2L1575.4,1155.5L1577.4,1156.9L1579.4,1158.2L1581.4,1159.6L1583.4,1161.2L1585.4,1162.8L1587.4,1164.5L1589.4,1166.2L1591.4,1167.8L1593.4,1169.4L1595.4,1171L1597.4,1172.4L1599.4,1173.8L1601.4,1175.1L1603.4,1176.4L1605.4,1177.7L1606.4,1178.3L1606.4,1224.4L1605.4,1223.4L1603.4,1221.4L1601.4,1219.4L1599.4,1217.4L1597.4,1215.4L1595.4,1213.4L1593.4,1211.4L1591.4,1209.4L1589.4,1207.4L1587.4,1205.4L1585.4,1203.3L1583.4,1201.3L1581.4,1199.3L1579.4,1197.3L1577.4,1195.2L1575.4,1193.2L1573.4,1191.2L1571.4,1189.3L1569.4,1187.5L1567.4,1185.7L1565.4,1184L1563.4,1182.3L1561.4,1180.7L1559.4,1179.1L1557.3,1177.6L1555.3,1176.1L1553.3,1174.6L1551.3,1173.2L1549.3,1172L1547.3,1170.9L1545.3,1170.1L1543.3,1169.4L1541.3,1168.9L1539.3,1168.6L1537.3,1168.4L1535.3,1168.4L1533.3,1168.6L1531.3,1169.1L1529.3,1169.8L1527.3,1170.8L1525.3,1171.8L1523.3,1172.8L1521.3,1173.9L1519.3,1175L1517.3,1176.2L1515.3,1177.8L1513.3,1179.7L1511.3,1182.2L1509.3,1185.3L1507.3,1188.9L1505.3,1192.6L1503.3,1196.3L1501.3,1199.5L1499.3,1202.4L1497.3,1204.9L1495.3,1207.2L1493.3,1209.2L1491.3,1210.9L1489.3,1212.4L1487.3,1213.7L1485.3,1214.7L1483.3,1215.6L1481.3,1216.3L1479.3,1217L1477.3,1217.5L1475.3,1218L1473.2,1218.5L1471.2,1218.8L1469.2,1219L1467.2,1219.3L1465.2,1219.7L1463.2,1220.2L1461.2,1221.1L1459.2,1222.2L1457.2,1223.6L1455.2,1225L1453.2,1226.4L1451.2,1227.7L1449.2,1228.8L1447.2,1229.8L1445.2,1230.6L1443.2,1231.3L1441.2,1231.8L1439.2,1232.1L1437.2,1232.1L1435.2,1231.7L1433.2,1231.2L1431.2,1230.4L1429.2,1229.6L1427.2,1228.8L1425.2,1228.1L1423.2,1227.4L1421.2,1226.8L1419.2,1226.2L1417.2,1225.5L1415.2,1224.7L1413.2,1223.8L1411.2,1222.9L1409.2,1221.9L1407.2,1220.9L1405.2,1219.8L1403.2,1218.9L1401.2,1218L1399.2,1217.2L1397.2,1216.4L1395.2,1215.7L1393.2,1215.1L1391.2,1214.7L1389.1,1214.4L1387.1,1214.2L1385.1,1214.1L1383.1,1214.2L1381.1,1214.3L1379.1,1214.3L1377.1,1214.4L1375.1,1214.5L1373.1,1214.5L1371.1,1214.6L1369.1,1214.5L1367.1,1214.4L1365.1,1214L1363.1,1213.5L1361.1,1212.9L1359.1,1212.2L1357.1,1211.5L1355.1,1210.7L1353.1,1210L1351.1,1209.4L1349.1,1208.7L1347.1,1208.1L1345.1,1207.4L1343.1,1206.7L1341.1,1205.9L1339.1,1205.1L1337.1,1204.3L1335.1,1203.5L1333.1,1202.8L1331.1,1202.3L1329.1,1201.9L1327.1,1201.5L1325.1,1201.1L1323.1,1200.5L1321.1,1199.6L1319.1,1198.5L1317.1,1197.1L1315.1,1195.3L1313.1,1193.1L1311.1,1190.4L1309.1,1187L1307,1183L1305,1178.2L1303,1172.7L1301,1166.5L1299,1160L1297,1153.8L1295,1147.9L1293,1142.3Z" fill="#b3b3b3" fill-opacity="0.85"/>
<path d="M1293,1134.3L1295,1138.2L1297,1142.8L1299,1148.3L1301,1154.5L1303,1160.6L1305,1166.2L1307,1171L1309.1,1175L1311.1,1178.4L1313.1,1181L1315.1,1183L1317.1,1184.5L1319.1,1185.8L1321.1,1186.7L1323.1,1187.5L1325.1,1188L1327.1,1188.4L1329.1,1188.8L1331.1,1189.2L1333.1,1189.9L1335.1,1190.8L1337.1,1191.7L1339.1,1192.8L1341.1,1193.8L1343.1,1194.8L1345.1,1195.7L1347.1,1196.6L1349.1,1197.4L1351.1,1198.2L1353.1,1198.9L1355.1,1199.6L1357.1,1200.3L1359.1,1200.8L1361.1,1201.3L1363.1,1201.8L1365.1,1202.1L1367.1,1202.4L1369.1,1202.5L1371.1,1202.6L1373.1,1202.5L1375.1,1202.5L1377.1,1202.4L1379.1,1202.2L1381.1,1202.1L1383.1,1201.9L1385.1,1201.6L1387.1,1201.5L1389.1,1201.4L1391.2,1201.5L1393.2,1201.6L1395.2,1201.9L1397.2,1202.2L1399.2,1202.6L1401.2,1203.1L1403.2,1203.8L1405.2,1204.5L1407.2,1205.3L1409.2,1206.1L1411.2,1207L1413.2,1207.9L1415.2,1208.8L1417.2,1209.7L1419.2,1210.6L1421.2,1211.4L1423.2,1212.2L1425.2,1213L1427.2,1213.6L1429.2,1214.1L1431.2,1214.6L1433.2,1214.9L1435.2,1215.2L1437.2,1215.2L1439.2,1215.2L1441.2,1214.9L1443.2,1214.6L1445.2,1214.1L1447.2,1213.4L1449.2,1212.7L1451.2,1211.8L1453.2,1210.7L1455.2,1209.6L1457.2,1208.3L1459.2,1207.1L1461.2,1206L1463.2,1204.9L1465.2,1204L1467.2,1203.1L1469.2,1202.2L1471.2,1201.5L1473.2,1200.8L1475.3,1200.1L1477.3,1199.6L1479.3,1199.1L1481.3,1198.7L1483.3,1198.2L1485.3,1197.6L1487.3,1196.8L1489.3,1195.9L1491.3,1194.6L1493.3,1192.9L1495.3,1190.7L1497.3,1188.1L1499.3,1185.1L1501.3,1181.9L1503.3,1178.6L1505.3,1175.2L1507.3,1171.9L1509.3,1168.7L1511.3,1165.9L1513.3,1163.5L1515.3,1161.6L1517.3,1159.9L1519.3,1158.4L1521.3,1157.1L1523.3,1155.9L1525.3,1154.9L1527.3,1154L1529.3,1153.3L1531.3,1152.8L1533.3,1152.5L1535.3,1152.4L1537.3,1152.4L1539.3,1152.6L1541.3,1153L1543.3,1153.4L1545.3,1154.1L1547.3,1154.8L1549.3,1155.8L1551.3,1156.8L1553.3,1158L1555.3,1159.3L1557.3,1160.6L1559.4,1162L1561.4,1163.4L1563.4,1164.9L1565.4,1166.4L1567.4,1168L1569.4,1169.5L1571.4,1171.1L1573.4,1172.8L1575.4,1174.4L1577.4,1176.1L1579.4,1177.8L1581.4,1179.5L1583.4,1181.1L1585.4,1182.8L1587.4,1184.4L1589.4,1186.1L1591.4,1187.7L1593.4,1189.5L1595.4,1191.3L1597.4,1193.3L1599.4,1195.2L1601.4,1197.2L1603.4,1199.3L1605.4,1201.3L1606.4,1202.3" stroke="#000" stroke-width="5" fill="none" stroke-linecap="butt" stroke-linejoin="round"/>
<path d="M1270,1244.4H1274.3V1243.3H1278.7V1242.1H1283V1239.9H1287.3V1236.7H1291.7V1232.1H1296V1193.7H1300.3V1131.5H1304.6V1079.6H1309V1070.2H1313.3V1082.2H1317.6V1078.7H1322V1057.5H1326.3V1038.4H1330.6V1024.1H1335V1032.8H1339.3V1032.3H1343.6V1034.3H1347.9V1041.8H1352.3V1060.6H1356.6V1073.1H1360.9V1088.3H1365.3V1089.1H1369.6V1090.2H1373.9V1095.4H1378.3V1103H1382.6V1109.7H1386.9V1114.8H1391.2V1123.1H1395.6V1128.7H1399.9V1136.6H1404.2V1142.4H1408.6V1150.5H1412.9V1156.5H1417.2V1162.3H1421.6V1166.9H1425.9V1171.3H1430.2V1170.8H1434.5V1168.7H1438.9V1162.1H1443.2V1150H1447.5V1138.3H1451.9V1129.8H1456.2V1127.8H1460.5V1126.1H1464.9V1125.3H1469.2V1125.3H1473.5V1124.4H1477.8V1118.2H1482.2V1107.3H1486.5V1107.5H1490.8V1111.8H1495.2V1121H1499.5V1119.4H1503.8V1115.4H1508.2V1090.3H1512.5V1048.9H1516.8V1007.3H1521.1V963.5H1525.5V960.1H1529.8V968.7H1534.1V998.7H1538.5V1029.3H1542.8V1053.8H1547.1V1071.9H1551.5V1075.2H1555.8V1073.8H1560.1V1067.6H1564.4V1061.1H1568.8V1059.2H1573.1V1061.9H1577.4V1070.6H1581.8V1083.8H1586.1V1105.1H1590.4V1123.8H1594.8V1144.3H1599.1V1159.8H1603.4V1170.3H1606.4V1176.3" stroke="#B4A08A" stroke-width="4.3" fill="none" stroke-linejoin="miter"/>
</g></svg>
<rect x="1268.5" y="913.5" width="339" height="349" fill="none" stroke="#333" stroke-width="2"/>
<text x="1438" y="891.8" text-anchor="middle" font-size="21" fill="#1a1a1a" stroke="#1a1a1a">São Paulo</text>
<path d="M1608.8,912.5V1263.5" stroke="#000" stroke-width="4.4"/>
<text x="1629" y="1214.3" font-size="21" fill="#000" stroke="#000">10.0%</text>
<text x="1629" y="1140.1" font-size="21" fill="#000" stroke="#000">20.0%</text>
<text x="1629" y="1066" font-size="21" fill="#000" stroke="#000">30.0%</text>
<text x="1629" y="991.8" font-size="21" fill="#000" stroke="#000">40.0%</text>
<path d="M1608.8,1206.8H1620.5M1608.8,1132.6H1620.5M1608.8,1058.5H1620.5M1608.8,984.3H1620.5" stroke="#000" stroke-width="4.4"/>
<path d="M1311.2,1262.5V1275M1367.4,1262.5V1275M1424.3,1262.5V1275M1481.2,1262.5V1275M1536.8,1262.5V1275M1593,1262.5V1275" stroke="#333" stroke-width="4.4"/>
</g>
<g>
<rect x="169" y="1412" width="340.5" height="326.5" fill="#fff"/>
<svg x="169" y="1412" width="340.5" height="326.5" overflow="hidden"><g transform="translate(-169,-1412)">
<path d="M169,1686.4H509.5M169,1613.1H509.5M169,1539.8H509.5M169,1466.5H509.5M184.2,1412V1738.5M240.4,1412V1738.5M297,1412V1738.5M353.8,1412V1738.5M410.1,1412V1738.5M466,1412V1738.5" stroke="#ebebeb" stroke-width="2.2" fill="none"/>
<path d="M169,1723.1H509.5M169,1649.8H509.5M169,1576.5H509.5M169,1503.2H509.5M169,1429.9H509.5M212.3,1412V1738.5M268.5,1412V1738.5M325.4,1412V1738.5M382.2,1412V1738.5M437.9,1412V1738.5M494.1,1412V1738.5" stroke="#ebebeb" stroke-width="4.4" fill="none"/>
<text x="194.5" y="1443.4" font-size="29" fill="#000" stroke="#000">r=0.66</text>
<path d="M410.7,1412V1738.5" stroke="#000" stroke-width="4.5" stroke-dasharray="4.2 4.6"/>
<path d="M216.1,1687.3L218.1,1686.8L220.1,1686.3L222.1,1685.8L224.1,1685.3L226.1,1684.7L228.1,1684L230.1,1683.4L232.1,1682.8L234.1,1682.4L236.1,1682L238.1,1681.8L240.1,1681.5L242.1,1681.4L244.1,1681.3L246.1,1681.3L248.1,1681.5L250.1,1681.8L252.1,1682.4L254.1,1683L256.1,1683.8L258.1,1684.6L260.1,1685.3L262.1,1686.1L264.1,1686.8L266.1,1687.5L268.1,1688.2L270.1,1688.8L272.1,1689.3L274.1,1689.7L276.1,1690L278.1,1690.3L280.1,1690.6L282.1,1690.8L284.1,1691L286.1,1691.2L288.1,1691.3L290.1,1691.4L292.1,1691.5L294.2,1691.5L296.2,1691.5L298.2,1691.5L300.2,1691.4L302.2,1691.3L304.2,1691.2L306.2,1691.1L308.2,1690.9L310.2,1690.8L312.2,1690.6L314.2,1690.5L316.2,1690.4L318.2,1690.3L320.2,1690.2L322.2,1690.1L324.2,1690.1L326.2,1690.2L328.2,1690.5L330.2,1690.8L332.2,1691.3L334.2,1691.8L336.2,1692.3L338.2,1692.8L340.2,1693.3L342.2,1693.6L344.2,1693.8L346.2,1694L348.2,1694.1L350.2,1694.2L352.2,1694.3L354.2,1694.4L356.2,1694.4L358.2,1694.4L360.2,1694.5L362.2,1694.4L364.2,1694.4L366.2,1694.4L368.2,1694.3L370.2,1694.3L372.2,1694.3L374.2,1694.2L376.2,1694.1L378.3,1694L380.3,1693.9L382.3,1693.6L384.3,1693.2L386.3,1692.8L388.3,1692.2L390.3,1691.5L392.3,1690.6L394.3,1689.5L396.3,1688.1L398.3,1686.4L400.3,1684.4L402.3,1682.1L404.3,1679.7L406.3,1677.3L408.3,1674.8L410.3,1672.3L412.3,1669.8L414.3,1667.6L416.3,1665.6L418.3,1664L420.3,1662.8L422.3,1661.8L424.3,1661L426.3,1660.5L428.3,1660.2L430.3,1660.2L432.3,1660.7L434.3,1661.8L436.3,1663.6L438.3,1665.9L440.3,1668.6L442.3,1671.5L444.3,1674.5L446.3,1677.6L448.3,1680.4L450.3,1682.8L452.3,1684.7L454.3,1686.2L456.3,1687.4L458.3,1688.4L460.4,1689.2L462.4,1690L464.4,1690.6L466.4,1691.2L468.4,1691.8L470.4,1692.5L472.4,1693.3L474.4,1694.2L476.4,1695.2L478.4,1696.3L480.4,1697.4L482.4,1698.5L484.4,1699.7L486.4,1700.9L488.4,1702.1L490.4,1703.3L492.4,1704.6L494.4,1705.8L496.4,1707L498.4,1708.2L500.4,1709.3L502.4,1710.4L504.4,1711.4L506.4,1712.4L508.4,1713.4L508.4,1733.4L506.4,1731.6L504.4,1729.8L502.4,1728.1L500.4,1726.5L498.4,1724.9L496.4,1723.5L494.4,1722.1L492.4,1720.7L490.4,1719.4L488.4,1718.1L486.4,1716.9L484.4,1715.7L482.4,1714.5L480.4,1713.4L478.4,1712.3L476.4,1711.2L474.4,1710.2L472.4,1709.3L470.4,1708.5L468.4,1707.8L466.4,1707.2L464.4,1706.6L462.4,1706L460.4,1705.2L458.3,1704.4L456.3,1703.4L454.3,1702.2L452.3,1700.7L450.3,1698.9L448.3,1696.5L446.3,1693.6L444.3,1690.5L442.3,1687.5L440.3,1684.6L438.3,1681.9L436.3,1679.6L434.3,1677.9L432.3,1676.8L430.3,1676.2L428.3,1676.2L426.3,1676.5L424.3,1677L422.3,1677.8L420.3,1678.8L418.3,1680.1L416.3,1681.6L414.3,1683.6L412.3,1685.8L410.3,1688.3L408.3,1690.8L406.3,1693.3L404.3,1695.7L402.3,1698.1L400.3,1700.4L398.3,1702.4L396.3,1704.1L394.3,1705.5L392.3,1706.6L390.3,1707.5L388.3,1708.2L386.3,1708.8L384.3,1709.3L382.3,1709.6L380.3,1709.9L378.3,1710L376.2,1710.1L374.2,1710.2L372.2,1710.3L370.2,1710.3L368.2,1710.4L366.2,1710.4L364.2,1710.4L362.2,1710.5L360.2,1710.5L358.2,1710.5L356.2,1710.4L354.2,1710.4L352.2,1710.3L350.2,1710.3L348.2,1710.2L346.2,1710L344.2,1709.8L342.2,1709.6L340.2,1709.3L338.2,1708.9L336.2,1708.4L334.2,1707.8L332.2,1707.3L330.2,1706.8L328.2,1706.5L326.2,1706.3L324.2,1706.2L322.2,1706.2L320.2,1706.2L318.2,1706.3L316.2,1706.4L314.2,1706.5L312.2,1706.6L310.2,1706.8L308.2,1706.9L306.2,1707.1L304.2,1707.2L302.2,1707.3L300.2,1707.4L298.2,1707.5L296.2,1707.5L294.2,1707.5L292.1,1707.5L290.1,1707.4L288.1,1707.3L286.1,1707.2L284.1,1707L282.1,1706.8L280.1,1706.6L278.1,1706.3L276.1,1706L274.1,1705.7L272.1,1705.3L270.1,1704.8L268.1,1704.2L266.1,1703.5L264.1,1702.8L262.1,1702.1L260.1,1701.3L258.1,1700.6L256.1,1699.8L254.1,1699L252.1,1698.3L250.1,1697.8L248.1,1697.5L246.1,1697.4L244.1,1697.5L242.1,1697.7L240.1,1698.1L238.1,1698.4L236.1,1698.9L234.1,1699.4L232.1,1699.9L230.1,1700.6L228.1,1701.4L226.1,1702.4L224.1,1703.6L222.1,1705.2L220.1,1707.1L218.1,1709.2L216.1,1711.4Z" fill="#b3b3b3" fill-opacity="0.85"/>
<path d="M216.1,1698.3L218.1,1697L220.1,1695.7L222.1,1694.5L224.1,1693.5L226.1,1692.6L228.1,1691.9L230.1,1691.3L232.1,1690.8L234.1,1690.4L236.1,1690L238.1,1689.8L240.1,1689.5L242.1,1689.4L244.1,1689.3L246.1,1689.3L248.1,1689.5L250.1,1689.8L252.1,1690.4L254.1,1691L256.1,1691.8L258.1,1692.6L260.1,1693.3L262.1,1694.1L264.1,1694.8L266.1,1695.5L268.1,1696.2L270.1,1696.8L272.1,1697.3L274.1,1697.7L276.1,1698L278.1,1698.3L280.1,1698.6L282.1,1698.8L284.1,1699L286.1,1699.2L288.1,1699.3L290.1,1699.4L292.1,1699.5L294.2,1699.5L296.2,1699.5L298.2,1699.5L300.2,1699.4L302.2,1699.3L304.2,1699.2L306.2,1699.1L308.2,1698.9L310.2,1698.8L312.2,1698.6L314.2,1698.5L316.2,1698.4L318.2,1698.3L320.2,1698.2L322.2,1698.1L324.2,1698.2L326.2,1698.3L328.2,1698.5L330.2,1698.8L332.2,1699.3L334.2,1699.8L336.2,1700.3L338.2,1700.8L340.2,1701.3L342.2,1701.6L344.2,1701.8L346.2,1702L348.2,1702.2L350.2,1702.3L352.2,1702.3L354.2,1702.4L356.2,1702.4L358.2,1702.5L360.2,1702.5L362.2,1702.5L364.2,1702.4L366.2,1702.4L368.2,1702.4L370.2,1702.3L372.2,1702.3L374.2,1702.2L376.2,1702.1L378.3,1702L380.3,1701.9L382.3,1701.6L384.3,1701.3L386.3,1700.8L388.3,1700.2L390.3,1699.5L392.3,1698.6L394.3,1697.5L396.3,1696.1L398.3,1694.4L400.3,1692.4L402.3,1690.1L404.3,1687.7L406.3,1685.3L408.3,1682.8L410.3,1680.3L412.3,1677.8L414.3,1675.6L416.3,1673.6L418.3,1672L420.3,1670.8L422.3,1669.8L424.3,1669L426.3,1668.5L428.3,1668.2L430.3,1668.2L432.3,1668.7L434.3,1669.9L436.3,1671.6L438.3,1673.9L440.3,1676.6L442.3,1679.5L444.3,1682.5L446.3,1685.6L448.3,1688.5L450.3,1690.9L452.3,1692.7L454.3,1694.2L456.3,1695.4L458.3,1696.4L460.4,1697.2L462.4,1698L464.4,1698.6L466.4,1699.2L468.4,1699.8L470.4,1700.5L472.4,1701.3L474.4,1702.2L476.4,1703.2L478.4,1704.3L480.4,1705.4L482.4,1706.5L484.4,1707.7L486.4,1708.9L488.4,1710.1L490.4,1711.4L492.4,1712.8L494.4,1714.1L496.4,1715.6L498.4,1717L500.4,1718.3L502.4,1719.6L504.4,1720.9L506.4,1722.1L508.4,1723.4" stroke="#000" stroke-width="5" fill="none" stroke-linecap="butt" stroke-linejoin="round"/>
<path d="M217.1,1683.3H221.4V1679.5H225.7V1678.4H230V1678.3H234.4V1679.5H238.7V1681.1H243V1678.4H247.4V1668.8H251.7V1658.8H256V1648H260.4V1641.7H264.7V1640.3H269V1640.5H273.3V1642.5H277.7V1646.8H282V1653.2H286.3V1659.4H290.7V1661.3H295V1661.3H299.3V1664.5H303.7V1667.9H308V1673.1H312.3V1676.4H316.6V1677.3H321V1677.3H325.3V1678.1H329.6V1679.2H334V1682.7H338.3V1683.8H342.6V1680.9H347V1673.8H351.3V1664.2H355.6V1657.9H359.9V1655.4H364.3V1654.5H368.6V1656.7H372.9V1658.7H377.3V1652.9H381.6V1647.2H385.9V1634.6H390.3V1637.2H394.6V1645.8H398.9V1651.9H403.2V1651.1H407.6V1644.9H411.9V1626.8H416.2V1610H420.6V1593.2H424.9V1588.7H429.2V1586.2H433.6V1591.4H437.9V1604.4H442.2V1609.7H446.5V1621.4H450.9V1625.3H455.2V1629.7H459.5V1631.1H463.9V1633H468.2V1637.1H472.5V1642.4H476.9V1646.6H481.2V1649.9H485.5V1653.4H489.8V1657H494.2V1658.6H498.5V1659.3H502.8V1660.8H507.2V1662.7H508.4V1663.3" stroke="#E64B35" stroke-width="4.3" fill="none" stroke-linejoin="miter"/>
</g></svg>
<rect x="169" y="1412" width="340.5" height="326.5" fill="none" stroke="#333" stroke-width="2"/>
<text x="339.2" y="1390.3" text-anchor="middle" font-size="21" fill="#1a1a1a" stroke="#1a1a1a">Belo Horizonte</text>
<text x="147" y="1730.6" text-anchor="end" font-size="21" fill="#4d4d4d" stroke="#4d4d4d">0</text>
<text x="147" y="1657.3" text-anchor="end" font-size="21" fill="#4d4d4d" stroke="#4d4d4d">10</text>
<text x="147" y="1584" text-anchor="end" font-size="21" fill="#4d4d4d" stroke="#4d4d4d">20</text>
<text x="147" y="1510.7" text-anchor="end" font-size="21" fill="#4d4d4d" stroke="#4d4d4d">30</text>
<text x="147" y="1437.4" text-anchor="end" font-size="21" fill="#4d4d4d" stroke="#4d4d4d">40</text>
<path d="M156.5,1723.1H169M156.5,1649.8H169M156.5,1576.5H169M156.5,1503.2H169M156.5,1429.9H169" stroke="#333" stroke-width="4.4"/>
</g>
<g>
<rect x="534.8" y="1412" width="340.5" height="326.5" fill="#fff"/>
<svg x="534.8" y="1412" width="340.5" height="326.5" overflow="hidden"><g transform="translate(-534.8,-1412)">
<path d="M534.8,1686.4H875.2M534.8,1613.1H875.2M534.8,1539.8H875.2M534.8,1466.5H875.2M549.9,1412V1738.5M606.2,1412V1738.5M662.7,1412V1738.5M719.6,1412V1738.5M775.8,1412V1738.5M831.7,1412V1738.5" stroke="#ebebeb" stroke-width="2.2" fill="none"/>
<path d="M534.8,1723.1H875.2M534.8,1649.8H875.2M534.8,1576.5H875.2M534.8,1503.2H875.2M534.8,1429.9H875.2M578,1412V1738.5M634.3,1412V1738.5M691.1,1412V1738.5M748,1412V1738.5M803.6,1412V1738.5M859.9,1412V1738.5" stroke="#ebebeb" stroke-width="4.4" fill="none"/>
<text x="560.5" y="1443.4" font-size="29" fill="#000" stroke="#000">r=0.83</text>
<path d="M764.3,1412V1738.5" stroke="#000" stroke-width="4.5" stroke-dasharray="4.2 4.6"/>
<path d="M570,1683.3L572,1683L574,1682.6L576.1,1682.3L578.1,1681.9L580.1,1681.6L582.1,1681.4L584.1,1681.1L586.1,1680.9L588.1,1680.8L590.1,1680.6L592.1,1680.5L594.1,1680.3L596.1,1680.2L598.1,1680.1L600.1,1679.9L602.1,1679.6L604.1,1679.2L606.1,1678.7L608.1,1678L610.1,1677.3L612.1,1676.6L614.1,1675.8L616.1,1675.1L618.1,1674.3L620.1,1673.6L622.1,1672.9L624.1,1672.3L626.1,1671.6L628.1,1670.9L630.1,1670.3L632.1,1669.6L634.1,1669L636.1,1668.6L638.1,1668.6L640.1,1669L642.1,1669.7L644.1,1670.5L646.1,1671.4L648.1,1672.4L650.1,1673.3L652.1,1674.3L654.1,1675.3L656.1,1676.3L658.1,1677.3L660.2,1678.3L662.2,1679.3L664.2,1680.4L666.2,1681.4L668.2,1682.4L670.2,1683.4L672.2,1684.4L674.2,1685.3L676.2,1686.1L678.2,1686.9L680.2,1687.6L682.2,1688.2L684.2,1688.8L686.2,1689.2L688.2,1689.5L690.2,1689.6L692.2,1689.6L694.2,1689.5L696.2,1689.2L698.2,1688.8L700.2,1688.1L702.2,1687.3L704.2,1686.1L706.2,1684.8L708.2,1683.2L710.2,1681.6L712.2,1679.9L714.2,1678.4L716.2,1677L718.2,1675.6L720.2,1674.4L722.2,1673.3L724.2,1672.5L726.2,1671.9L728.2,1671.5L730.2,1671.4L732.2,1671.3L734.2,1671.4L736.2,1671.6L738.2,1671.9L740.2,1672.2L742.2,1672.6L744.3,1673L746.3,1673.3L748.3,1673.6L750.3,1673.9L752.3,1674.2L754.3,1674.2L756.3,1674.1L758.3,1673.6L760.3,1672.8L762.3,1671.6L764.3,1669.9L766.3,1667.6L768.3,1664.8L770.3,1661.6L772.3,1658.1L774.3,1654.3L776.3,1650.3L778.3,1646.2L780.3,1642.2L782.3,1638.5L784.3,1634.9L786.3,1631.6L788.3,1628.6L790.3,1625.9L792.3,1623.8L794.3,1622.3L796.3,1621.5L798.3,1621.3L800.3,1621.5L802.3,1622.1L804.3,1622.9L806.3,1623.9L808.3,1625.1L810.3,1626.4L812.3,1627.8L814.3,1629.2L816.3,1630.7L818.3,1632L820.3,1633L822.3,1633.7L824.3,1634.1L826.4,1634.4L828.4,1634.7L830.4,1635L832.4,1635.4L834.4,1635.9L836.4,1636.5L838.4,1637.1L840.4,1637.8L842.4,1638.5L844.4,1639.3L846.4,1640.1L848.4,1640.9L850.4,1641.8L852.4,1642.6L854.4,1643.5L856.4,1644.2L858.4,1644.9L860.4,1645.6L862.4,1646.2L864.4,1646.7L866.4,1647.3L868.4,1647.8L870.4,1648.3L872.4,1648.8L874.4,1649.3L874.4,1669.3L872.4,1668.6L870.4,1667.8L868.4,1667.1L866.4,1666.3L864.4,1665.5L862.4,1664.7L860.4,1663.9L858.4,1663.1L856.4,1662.3L854.4,1661.5L852.4,1660.6L850.4,1659.8L848.4,1658.9L846.4,1658.1L844.4,1657.3L842.4,1656.6L840.4,1655.8L838.4,1655.1L836.4,1654.5L834.4,1653.9L832.4,1653.4L830.4,1653L828.4,1652.7L826.4,1652.5L824.3,1652.2L822.3,1651.7L820.3,1651L818.3,1650L816.3,1648.7L814.3,1647.3L812.3,1645.8L810.3,1644.4L808.3,1643.1L806.3,1641.9L804.3,1640.9L802.3,1640.1L800.3,1639.6L798.3,1639.6L796.3,1640.1L794.3,1641.1L792.3,1642.7L790.3,1644.8L788.3,1647.2L786.3,1650.1L784.3,1653.2L782.3,1656.6L780.3,1660.2L778.3,1664.2L776.3,1668.2L774.3,1672.3L772.3,1676.1L770.3,1679.6L768.3,1682.8L766.3,1685.6L764.3,1687.9L762.3,1689.6L760.3,1690.9L758.3,1691.7L756.3,1692.1L754.3,1692.3L752.3,1692.2L750.3,1692L748.3,1691.7L746.3,1691.3L744.3,1691L742.2,1690.6L740.2,1690.2L738.2,1689.9L736.2,1689.6L734.2,1689.4L732.2,1689.3L730.2,1689.4L728.2,1689.6L726.2,1689.9L724.2,1690.5L722.2,1691.4L720.2,1692.4L718.2,1693.6L716.2,1695L714.2,1696.4L712.2,1697.9L710.2,1699.5L708.2,1701.2L706.2,1702.8L704.2,1704.2L702.2,1705.6L700.2,1706.7L698.2,1707.6L696.2,1708.1L694.2,1708.3L692.2,1708.3L690.2,1708.1L688.2,1707.7L686.2,1707.3L684.2,1706.8L682.2,1706.2L680.2,1705.6L678.2,1704.9L676.2,1704.1L674.2,1703.3L672.2,1702.4L670.2,1701.5L668.2,1700.5L666.2,1699.4L664.2,1698.4L662.2,1697.4L660.2,1696.3L658.1,1695.3L656.1,1694.3L654.1,1693.3L652.1,1692.3L650.1,1691.3L648.1,1690.4L646.1,1689.4L644.1,1688.5L642.1,1687.7L640.1,1687L638.1,1686.7L636.1,1686.6L634.1,1687L632.1,1687.6L630.1,1688.3L628.1,1689L626.1,1689.6L624.1,1690.3L622.1,1691L620.1,1691.7L618.1,1692.4L616.1,1693.1L614.1,1693.8L612.1,1694.6L610.1,1695.3L608.1,1696L606.1,1696.7L604.1,1697.2L602.1,1697.6L600.1,1697.9L598.1,1698.1L596.1,1698.2L594.1,1698.3L592.1,1698.5L590.1,1698.6L588.1,1698.7L586.1,1698.9L584.1,1699.1L582.1,1699.5L580.1,1699.9L578.1,1700.5L576.1,1701.2L574,1701.9L572,1702.6L570,1703.4Z" fill="#b3b3b3" fill-opacity="0.85"/>
<path d="M570,1693.3L572,1692.8L574,1692.3L576.1,1691.7L578.1,1691.2L580.1,1690.8L582.1,1690.4L584.1,1690.1L586.1,1689.9L588.1,1689.7L590.1,1689.6L592.1,1689.5L594.1,1689.3L596.1,1689.2L598.1,1689.1L600.1,1688.9L602.1,1688.6L604.1,1688.2L606.1,1687.7L608.1,1687L610.1,1686.3L612.1,1685.6L614.1,1684.8L616.1,1684.1L618.1,1683.3L620.1,1682.6L622.1,1682L624.1,1681.3L626.1,1680.6L628.1,1679.9L630.1,1679.3L632.1,1678.6L634.1,1678L636.1,1677.6L638.1,1677.6L640.1,1678L642.1,1678.7L644.1,1679.5L646.1,1680.4L648.1,1681.4L650.1,1682.3L652.1,1683.3L654.1,1684.3L656.1,1685.3L658.1,1686.3L660.2,1687.3L662.2,1688.3L664.2,1689.4L666.2,1690.4L668.2,1691.4L670.2,1692.4L672.2,1693.4L674.2,1694.3L676.2,1695.1L678.2,1695.9L680.2,1696.6L682.2,1697.2L684.2,1697.8L686.2,1698.3L688.2,1698.7L690.2,1699.1L692.2,1699.3L694.2,1699.3L696.2,1699.1L698.2,1698.5L700.2,1697.7L702.2,1696.6L704.2,1695.2L706.2,1693.8L708.2,1692.2L710.2,1690.5L712.2,1688.9L714.2,1687.4L716.2,1686L718.2,1684.6L720.2,1683.4L722.2,1682.4L724.2,1681.5L726.2,1680.9L728.2,1680.6L730.2,1680.4L732.2,1680.3L734.2,1680.4L736.2,1680.6L738.2,1680.9L740.2,1681.2L742.2,1681.6L744.3,1682L746.3,1682.3L748.3,1682.6L750.3,1683L752.3,1683.2L754.3,1683.3L756.3,1683.1L758.3,1682.7L760.3,1681.9L762.3,1680.6L764.3,1678.9L766.3,1676.6L768.3,1673.8L770.3,1670.6L772.3,1667.1L774.3,1663.2L776.3,1659.2L778.3,1655.2L780.3,1651.2L782.3,1647.6L784.3,1644.2L786.3,1641.1L788.3,1638.2L790.3,1635.7L792.3,1633.7L794.3,1632.1L796.3,1631L798.3,1630.6L800.3,1630.6L802.3,1631.1L804.3,1631.9L806.3,1632.9L808.3,1634.1L810.3,1635.4L812.3,1636.8L814.3,1638.2L816.3,1639.7L818.3,1641L820.3,1642L822.3,1642.7L824.3,1643.1L826.4,1643.4L828.4,1643.7L830.4,1644L832.4,1644.4L834.4,1644.9L836.4,1645.5L838.4,1646.1L840.4,1646.8L842.4,1647.6L844.4,1648.3L846.4,1649.1L848.4,1649.9L850.4,1650.7L852.4,1651.6L854.4,1652.4L856.4,1653.3L858.4,1654.1L860.4,1654.9L862.4,1655.7L864.4,1656.5L866.4,1657.3L868.4,1658.1L870.4,1658.8L872.4,1659.6L874.4,1660.3" stroke="#000" stroke-width="5" fill="none" stroke-linecap="butt" stroke-linejoin="round"/>
<path d="M563,1707.4H567.4V1698.5H571.7V1687H576V1685.6H580.4V1684.7H584.7V1683.5H589V1680.4H593.3V1679.3H597.7V1679.3H602V1678H606.3V1670.8H610.7V1661.3H615V1651.5H619.3V1643.4H623.7V1635.6H628V1627.4H632.3V1614.2H636.6V1615.5H641V1620H645.3V1621H649.6V1623.5H654V1625.2H658.3V1635.4H662.6V1638.9H667V1643.9H671.3V1647.1H675.6V1650.7H679.9V1654.6H684.3V1658.9H688.6V1663.1H692.9V1668.9H697.3V1671.3H701.6V1668.3H705.9V1660.3H710.3V1653.6H714.6V1642.5H718.9V1632.3H723.2V1632.3H727.6V1633.4H731.9V1638.4H736.2V1644.3H740.6V1649.5H744.9V1652.1H749.2V1653.3H753.6V1653.6H757.9V1654.3H762.2V1654.3H766.5V1653.4H770.9V1636.6H775.2V1622.5H779.5V1609.1H783.9V1593.3H788.2V1582.2H792.5V1575.2H796.9V1580.7H801.2V1592H805.5V1601.3H809.8V1603.4H814.2V1603.4H818.5V1600.7H822.8V1599H827.2V1594.7H831.5V1589.1H835.8V1584.7H840.2V1584.2H844.5V1592.3H848.8V1597.7H853.1V1612.6H857.5V1627.7H861.8V1639.9H866.1V1642.1H870.5V1644.3H874.4V1647.3" stroke="#7E9DAD" stroke-width="4.3" fill="none" stroke-linejoin="miter"/>
</g></svg>
<rect x="534.8" y="1412" width="340.5" height="326.5" fill="none" stroke="#333" stroke-width="2"/>
<text x="705" y="1390.3" text-anchor="middle" font-size="21" fill="#1a1a1a" stroke="#1a1a1a">Curitiba</text>
</g>
<g>
<rect x="900.5" y="1412" width="340.5" height="326.5" fill="#fff"/>
<svg x="900.5" y="1412" width="340.5" height="326.5" overflow="hidden"><g transform="translate(-900.5,-1412)">
<path d="M900.5,1686.4H1241M900.5,1613.1H1241M900.5,1539.8H1241M900.5,1466.5H1241M915.7,1412V1738.5M971.9,1412V1738.5M1028.5,1412V1738.5M1085.3,1412V1738.5M1141.6,1412V1738.5M1197.5,1412V1738.5" stroke="#ebebeb" stroke-width="2.2" fill="none"/>
<path d="M900.5,1723.1H1241M900.5,1649.8H1241M900.5,1576.5H1241M900.5,1503.2H1241M900.5,1429.9H1241M943.8,1412V1738.5M1000,1412V1738.5M1056.9,1412V1738.5M1113.8,1412V1738.5M1169.4,1412V1738.5M1225.6,1412V1738.5" stroke="#ebebeb" stroke-width="4.4" fill="none"/>
<text x="946.6" y="1443.4" font-size="29" fill="#000" stroke="#000">r=0</text>
<path d="M1118.9,1412V1738.5" stroke="#000" stroke-width="4.5" stroke-dasharray="4.2 4.6"/>
<path d="M978.1,1651.3L980.1,1650.1L982.1,1649L984.1,1647.8L986.1,1646.5L988.1,1645.5L990.1,1645.2L992.1,1646L994.1,1647.8L996.1,1650L998.1,1651.8L1000.1,1653L1002.1,1653.3L1004.1,1652.8L1006.1,1651.5L1008.1,1649.3L1010.1,1646.3L1012.1,1642.8L1014.1,1639.3L1016.1,1635.9L1018.1,1632.8L1020.1,1629.9L1022.1,1627.2L1024.2,1624.5L1026.2,1622L1028.2,1619.5L1030.2,1617.1L1032.2,1615L1034.2,1613.3L1036.2,1612.4L1038.2,1612.8L1040.2,1614.5L1042.2,1617.5L1044.2,1621.3L1046.2,1625.4L1048.2,1629.8L1050.2,1634.3L1052.2,1639L1054.2,1643.7L1056.2,1648.5L1058.2,1652.9L1060.2,1656.8L1062.2,1659.9L1064.2,1662.1L1066.2,1663.6L1068.2,1664.8L1070.2,1665.8L1072.2,1666.8L1074.2,1667.7L1076.2,1668.4L1078.2,1668.9L1080.2,1669.1L1082.2,1668.9L1084.2,1668.6L1086.2,1668.1L1088.2,1667.6L1090.2,1667.1L1092.2,1666.6L1094.2,1666.1L1096.2,1665.8L1098.2,1665.6L1100.2,1665.6L1102.2,1665.9L1104.2,1666.3L1106.2,1666.7L1108.3,1667L1110.3,1667.1L1112.3,1667L1114.3,1666.7L1116.3,1666.2L1118.3,1665.5L1120.3,1664.6L1122.3,1663.4L1124.3,1661.9L1126.3,1660L1128.3,1657.7L1130.3,1655L1132.3,1652L1134.3,1648.8L1136.3,1645.7L1138.3,1642.5L1140.3,1639.5L1142.3,1636.9L1144.3,1634.7L1146.3,1633.2L1148.3,1632.1L1150.3,1631.8L1152.3,1632.1L1154.3,1633L1156.3,1634.5L1158.3,1636.4L1160.3,1638.5L1162.3,1640.8L1164.3,1643.3L1166.3,1646L1168.3,1648.9L1170.3,1652.1L1172.3,1655.3L1172.3,1707.4L1170.3,1705.8L1168.3,1703.9L1166.3,1701.6L1164.3,1698.8L1162.3,1695.8L1160.3,1692.9L1158.3,1690.2L1156.3,1687.8L1154.3,1685.8L1152.3,1684.4L1150.3,1683.8L1148.3,1684L1146.3,1685L1144.3,1686.8L1142.3,1689.5L1140.3,1693L1138.3,1697L1136.3,1701.1L1134.3,1705.2L1132.3,1709L1130.3,1712.5L1128.3,1715.5L1126.3,1717.8L1124.3,1719.4L1122.3,1720.4L1120.3,1721L1118.3,1721.1L1116.3,1720.9L1114.3,1720.5L1112.3,1720.1L1110.3,1719.7L1108.3,1719.4L1106.2,1719.2L1104.2,1719.1L1102.2,1719.1L1100.2,1719.4L1098.2,1719.8L1096.2,1720.4L1094.2,1721.2L1092.2,1722L1090.2,1722.9L1088.2,1723.8L1086.2,1724.7L1084.2,1725.6L1082.2,1726.3L1080.2,1727L1078.2,1727.4L1076.2,1727.7L1074.2,1727.8L1072.2,1727.7L1070.2,1727.5L1068.2,1727.2L1066.2,1726.7L1064.2,1725.6L1062.2,1723.6L1060.2,1720.3L1058.2,1715.7L1056.2,1710.2L1054.2,1704.4L1052.2,1698.5L1050.2,1692.8L1048.2,1687.2L1046.2,1682L1044.2,1677.3L1042.2,1673.1L1040.2,1669.9L1038.2,1667.9L1036.2,1667.2L1034.2,1667.6L1032.2,1668.8L1030.2,1670.5L1028.2,1672.3L1026.2,1674.3L1024.2,1676.4L1022.1,1678.6L1020.1,1681L1018.1,1683.5L1016.1,1686.1L1014.1,1689L1012.1,1692.1L1010.1,1695.1L1008.1,1697.6L1006.1,1699.5L1004.1,1700.7L1002.1,1701.2L1000.1,1701.1L998.1,1700.5L996.1,1699.5L994.1,1698.3L992.1,1697.4L990.1,1697.2L988.1,1697.7L986.1,1698.6L984.1,1699.7L982.1,1700.6L980.1,1701.5L978.1,1702.3Z" fill="#b3b3b3" fill-opacity="0.85"/>
<path d="M978.1,1678.3L980.1,1676.9L982.1,1675.4L984.1,1674L986.1,1672.6L988.1,1671.6L990.1,1671.2L992.1,1671.7L994.1,1673L996.1,1674.7L998.1,1676.2L1000.1,1677.1L1002.1,1677.3L1004.1,1676.8L1006.1,1675.5L1008.1,1673.3L1010.1,1670.3L1012.1,1666.8L1014.1,1663.3L1016.1,1659.9L1018.1,1656.8L1020.1,1653.9L1022.1,1651.1L1024.2,1648.6L1026.2,1646.1L1028.2,1643.8L1030.2,1641.5L1032.2,1639.5L1034.2,1638L1036.2,1637.4L1038.2,1637.9L1040.2,1639.8L1042.2,1643.1L1044.2,1647.2L1046.2,1651.7L1048.2,1656.5L1050.2,1661.5L1052.2,1666.8L1054.2,1672.4L1056.2,1678L1058.2,1683.5L1060.2,1688.3L1062.2,1692L1064.2,1694.6L1066.2,1696.4L1068.2,1697.7L1070.2,1698.9L1072.2,1700L1074.2,1700.9L1076.2,1701.6L1078.2,1702L1080.2,1701.9L1082.2,1701.5L1084.2,1700.8L1086.2,1699.8L1088.2,1698.8L1090.2,1697.8L1092.2,1696.7L1094.2,1695.7L1096.2,1694.7L1098.2,1693.9L1100.2,1693.4L1102.2,1693.1L1104.2,1693.1L1106.2,1693.2L1108.3,1693.3L1110.3,1693.4L1112.3,1693.4L1114.3,1693.5L1116.3,1693.5L1118.3,1693.4L1120.3,1693.1L1122.3,1692.7L1124.3,1692L1126.3,1690.5L1128.3,1688.2L1130.3,1685.1L1132.3,1681.3L1134.3,1677.4L1136.3,1673.5L1138.3,1669.7L1140.3,1666.2L1142.3,1663.2L1144.3,1660.8L1146.3,1659.1L1148.3,1658.1L1150.3,1657.8L1152.3,1658.1L1154.3,1659L1156.3,1660.5L1158.3,1662.5L1160.3,1664.8L1162.3,1667.6L1164.3,1670.6L1166.3,1673.7L1168.3,1676.9L1170.3,1680.1L1172.3,1683.3" stroke="#000" stroke-width="5" fill="none" stroke-linecap="butt" stroke-linejoin="round"/>
<path d="M931,1714.4H935.4V1708.4H939.7V1709.7H944V1711.1H948.4V1711.4H952.7V1709.8H957V1711.8H961.3V1712.9H965.7V1714H970V1711.4H974.3V1708.5H978.7V1705.6H983V1703.4H987.3V1697.7H991.7V1688H996V1680.5H1000.3V1674.4H1004.6V1672.3H1009V1672.7H1013.3V1674.7H1017.6V1678.8H1022V1685.9H1026.3V1691.9H1030.6V1699.3H1035V1706.1H1039.3V1708.1H1043.6V1708.4H1047.9V1707.4H1052.3V1704.6H1056.6V1700.9H1060.9V1691H1065.3V1685.6H1069.6V1678.3H1073.9V1680.6H1078.3V1685.4H1082.6V1686.9H1086.9V1685.4H1091.2V1683.3H1095.6V1685.7H1099.9V1693.2H1104.2V1691.6H1108.6V1688.7H1112.9V1686.5H1117.2V1684.7H1121.6V1686.5H1125.9V1687.9H1130.2V1683.4H1134.5V1667H1138.9V1649.9H1143.2V1641.6H1147.5V1624.9H1151.9V1629.5H1156.2V1635H1160.5V1645.9H1164.9V1656.4H1169.2V1665H1173.5V1668.6H1177.8V1674.7H1182.2V1680.4H1186.5V1686.2H1190.8V1688.2H1195.2V1686.5H1199.5V1679.3H1203.8V1678.3H1208.2V1679.1H1212.5V1684.8H1216.8V1690.7H1221.1V1692.2H1225.5V1693.9H1229.8V1694.3H1234.1V1696.4H1238.5V1699.6H1239.4V1700.3" stroke="#38AFBD" stroke-width="4.3" fill="none" stroke-linejoin="miter"/>
</g></svg>
<rect x="900.5" y="1412" width="340.5" height="326.5" fill="none" stroke="#333" stroke-width="2"/>
<text x="1070.8" y="1390.3" text-anchor="middle" font-size="21" fill="#1a1a1a" stroke="#1a1a1a">Florianópolis</text>
</g>
<g>
<rect x="1266.2" y="1412" width="340.5" height="326.5" fill="#fff"/>
<svg x="1266.2" y="1412" width="340.5" height="326.5" overflow="hidden"><g transform="translate(-1266.2,-1412)">
<path d="M1266.2,1686.4H1606.8M1266.2,1613.1H1606.8M1266.2,1539.8H1606.8M1266.2,1466.5H1606.8M1281.4,1412V1738.5M1337.7,1412V1738.5M1394.2,1412V1738.5M1451.1,1412V1738.5M1507.3,1412V1738.5M1563.2,1412V1738.5" stroke="#ebebeb" stroke-width="2.2" fill="none"/>
<path d="M1266.2,1723.1H1606.8M1266.2,1649.8H1606.8M1266.2,1576.5H1606.8M1266.2,1503.2H1606.8M1266.2,1429.9H1606.8M1309.5,1412V1738.5M1365.8,1412V1738.5M1422.6,1412V1738.5M1479.5,1412V1738.5M1535.1,1412V1738.5M1591.4,1412V1738.5" stroke="#ebebeb" stroke-width="4.4" fill="none"/>
<text x="1291.5" y="1443.4" font-size="29" fill="#000" stroke="#000">r=0.78</text>
<path d="M1491.3,1412V1738.5" stroke="#000" stroke-width="4.5" stroke-dasharray="4.2 4.6"/>
<path d="M1304,1628.3L1306,1631.5L1308.1,1634.6L1310.1,1637.4L1312.1,1639.8L1314.1,1641.5L1316.1,1642.7L1318.1,1643.5L1320.1,1643.9L1322.1,1644.1L1324.1,1644.1L1326.1,1644L1328.1,1643.7L1330.1,1643.2L1332.1,1642.5L1334.1,1641.8L1336.1,1640.9L1338.1,1640L1340.1,1638.9L1342.1,1637.8L1344.1,1636.7L1346.1,1635.6L1348.1,1634.5L1350.1,1633.3L1352.1,1631.9L1354.1,1630.3L1356.1,1628.5L1358.1,1626.5L1360.1,1624.5L1362.1,1622.2L1364.1,1619.9L1366.1,1617.4L1368.1,1614.9L1370.1,1612.5L1372.1,1610.6L1374.1,1609.4L1376.1,1608.9L1378.1,1609.2L1380.1,1610L1382.1,1611.4L1384.1,1613.1L1386.1,1615.1L1388.1,1617.1L1390.2,1618.8L1392.2,1620.3L1394.2,1621.6L1396.2,1622.7L1398.2,1623.7L1400.2,1624.5L1402.2,1625.1L1404.2,1625.6L1406.2,1625.9L1408.2,1626.1L1410.2,1626.2L1412.2,1626.1L1414.2,1625.8L1416.2,1625.3L1418.2,1624.6L1420.2,1623.6L1422.2,1622.7L1424.2,1621.9L1426.2,1621.5L1428.2,1621.5L1430.2,1622L1432.2,1623L1434.2,1624.6L1436.2,1626.7L1438.2,1629.2L1440.2,1631.9L1442.2,1634.9L1444.2,1637.9L1446.2,1640.9L1448.2,1643.7L1450.2,1646.3L1452.2,1648.6L1454.2,1650.8L1456.2,1652.7L1458.2,1654.4L1460.2,1655.8L1462.2,1657L1464.2,1658L1466.2,1658.7L1468.2,1658.9L1470.2,1658.6L1472.2,1657.7L1474.3,1656.2L1476.3,1654.2L1478.3,1651.9L1480.3,1649.3L1482.3,1646.3L1484.3,1642.8L1486.3,1638.8L1488.3,1634.2L1490.3,1629.2L1492.3,1623.8L1494.3,1617.9L1496.3,1611.6L1498.3,1605L1500.3,1598.6L1502.3,1592.3L1504.3,1586.4L1506.3,1580.9L1508.3,1576.1L1510.3,1572L1512.3,1568.8L1514.3,1566.3L1516.3,1564.3L1518.3,1562.7L1520.3,1561.6L1522.3,1560.8L1524.3,1560.4L1526.3,1560.4L1528.3,1560.6L1530.3,1561.4L1532.3,1562.9L1534.3,1565.4L1536.3,1568.7L1538.3,1572.7L1540.3,1577L1542.3,1581.6L1544.3,1586.2L1546.3,1590.7L1548.3,1594.8L1550.3,1598.2L1552.3,1600.8L1554.3,1602.8L1556.3,1604.3L1558.4,1605.5L1560.4,1606.3L1562.4,1606.9L1564.4,1607.4L1566.4,1608.1L1568.4,1608.9L1570.4,1609.9L1572.4,1610.9L1574.4,1611.9L1576.4,1612.7L1578.4,1613.2L1580.4,1613.5L1582.4,1613.6L1584.4,1613.6L1586.4,1613.5L1588.4,1613.3L1590.4,1613.1L1592.4,1612.7L1594.4,1612.2L1596.4,1611.5L1598.4,1610.4L1600.4,1609.1L1602.4,1607.6L1604.4,1606L1605.4,1605.2L1605.4,1657.3L1604.4,1656.5L1602.4,1654.9L1600.4,1653.4L1598.4,1652.1L1596.4,1651.1L1594.4,1650.4L1592.4,1649.9L1590.4,1649.5L1588.4,1649.1L1586.4,1648.8L1584.4,1648.5L1582.4,1648.2L1580.4,1647.9L1578.4,1647.4L1576.4,1646.9L1574.4,1646.2L1572.4,1645.4L1570.4,1644.6L1568.4,1643.7L1566.4,1643L1564.4,1642.2L1562.4,1641.5L1560.4,1640.7L1558.4,1639.6L1556.3,1638.3L1554.3,1636.7L1552.3,1634.7L1550.3,1632.3L1548.3,1629.5L1546.3,1626.3L1544.3,1622.8L1542.3,1619L1540.3,1615L1538.3,1611L1536.3,1607L1534.3,1603.4L1532.3,1600.5L1530.3,1598.4L1528.3,1596.8L1526.3,1595.9L1524.3,1595.4L1522.3,1595.3L1520.3,1595.8L1518.3,1596.9L1516.3,1598.7L1514.3,1601L1512.3,1604L1510.3,1607.7L1508.3,1612L1506.3,1617L1504.3,1622.5L1502.3,1628.4L1500.3,1634.6L1498.3,1641.1L1496.3,1647.6L1494.3,1653.9L1492.3,1659.8L1490.3,1665.3L1488.3,1670.3L1486.3,1674.8L1484.3,1678.9L1482.3,1682.4L1480.3,1685.4L1478.3,1687.9L1476.3,1689.9L1474.3,1691.4L1472.2,1692.4L1470.2,1692.9L1468.2,1693L1466.2,1692.6L1464.2,1692L1462.2,1691L1460.2,1689.8L1458.2,1688.4L1456.2,1686.7L1454.2,1684.8L1452.2,1682.7L1450.2,1680.3L1448.2,1677.8L1446.2,1674.9L1444.2,1671.9L1442.2,1668.9L1440.2,1666L1438.2,1663.3L1436.2,1660.8L1434.2,1658.6L1432.2,1656.7L1430.2,1655.3L1428.2,1654.3L1426.2,1653.8L1424.2,1653.9L1422.2,1654.6L1420.2,1655.6L1418.2,1656.7L1416.2,1657.8L1414.2,1658.7L1412.2,1659.5L1410.2,1659.9L1408.2,1659.8L1406.2,1659.4L1404.2,1658.6L1402.2,1657.7L1400.2,1656.8L1398.2,1655.9L1396.2,1655L1394.2,1654L1392.2,1653L1390.2,1651.7L1388.1,1650.1L1386.1,1648.2L1384.1,1646.2L1382.1,1644.4L1380.1,1643.1L1378.1,1642.3L1376.1,1642L1374.1,1642.4L1372.1,1643.5L1370.1,1645.2L1368.1,1647.4L1366.1,1649.7L1364.1,1652.1L1362.1,1654.3L1360.1,1656.5L1358.1,1658.5L1356.1,1660.5L1354.1,1662.3L1352.1,1663.9L1350.1,1665.3L1348.1,1666.5L1346.1,1667.6L1344.1,1668.8L1342.1,1670L1340.1,1671.2L1338.1,1672.5L1336.1,1673.7L1334.1,1674.7L1332.1,1675.5L1330.1,1676.2L1328.1,1676.7L1326.1,1677L1324.1,1677.1L1322.1,1677.1L1320.1,1676.8L1318.1,1676.4L1316.1,1676L1314.1,1675.6L1312.1,1675.4L1310.1,1675.2L1308.1,1675.2L1306,1675.3L1304,1675.3Z" fill="#b3b3b3" fill-opacity="0.85"/>
<path d="M1304,1652.3L1306,1653.5L1308.1,1654.6L1310.1,1655.7L1312.1,1656.7L1314.1,1657.7L1316.1,1658.5L1318.1,1659.2L1320.1,1659.7L1322.1,1660L1324.1,1660L1326.1,1659.7L1328.1,1659.2L1330.1,1658.5L1332.1,1657.7L1334.1,1656.8L1336.1,1655.9L1338.1,1654.9L1340.1,1653.9L1342.1,1652.8L1344.1,1651.9L1346.1,1651L1348.1,1650L1350.1,1649L1352.1,1647.8L1354.1,1646.3L1356.1,1644.5L1358.1,1642.6L1360.1,1640.5L1362.1,1638.3L1364.1,1636.1L1366.1,1633.7L1368.1,1631.4L1370.1,1629.3L1372.1,1627.5L1374.1,1626.2L1376.1,1625.6L1378.1,1625.6L1380.1,1626.2L1382.1,1627.4L1384.1,1629.1L1386.1,1631.1L1388.1,1633.1L1390.2,1634.8L1392.2,1636.3L1394.2,1637.6L1396.2,1638.7L1398.2,1639.7L1400.2,1640.6L1402.2,1641.4L1404.2,1642.1L1406.2,1642.6L1408.2,1643L1410.2,1643L1412.2,1642.8L1414.2,1642.3L1416.2,1641.5L1418.2,1640.6L1420.2,1639.6L1422.2,1638.6L1424.2,1637.9L1426.2,1637.7L1428.2,1638L1430.2,1638.7L1432.2,1639.9L1434.2,1641.4L1436.2,1643.3L1438.2,1645.6L1440.2,1648.1L1442.2,1650.9L1444.2,1653.9L1446.2,1656.9L1448.2,1659.7L1450.2,1662.3L1452.2,1664.7L1454.2,1666.8L1456.2,1668.7L1458.2,1670.4L1460.2,1671.8L1462.2,1673L1464.2,1673.9L1466.2,1674.6L1468.2,1675L1470.2,1674.9L1472.2,1674.4L1474.3,1673.4L1476.3,1671.9L1478.3,1669.9L1480.3,1667.4L1482.3,1664.4L1484.3,1660.8L1486.3,1656.8L1488.3,1652.3L1490.3,1647.3L1492.3,1641.8L1494.3,1635.9L1496.3,1629.6L1498.3,1623.1L1500.3,1616.6L1502.3,1610.4L1504.3,1604.5L1506.3,1599L1508.3,1594.1L1510.3,1589.9L1512.3,1586.4L1514.3,1583.7L1516.3,1581.5L1518.3,1579.8L1520.3,1578.5L1522.3,1577.8L1524.3,1577.5L1526.3,1577.7L1528.3,1578.4L1530.3,1579.7L1532.3,1581.6L1534.3,1584.4L1536.3,1587.9L1538.3,1591.9L1540.3,1596L1542.3,1600.1L1544.3,1604.1L1546.3,1607.9L1548.3,1611.3L1550.3,1614.2L1552.3,1616.7L1554.3,1618.7L1556.3,1620.3L1558.4,1621.6L1560.4,1622.6L1562.4,1623.5L1564.4,1624.2L1566.4,1624.9L1568.4,1625.7L1570.4,1626.6L1572.4,1627.4L1574.4,1628.2L1576.4,1628.9L1578.4,1629.4L1580.4,1629.9L1582.4,1630.3L1584.4,1630.6L1586.4,1630.9L1588.4,1631.1L1590.4,1631.3L1592.4,1631.4L1594.4,1631.4L1596.4,1631.3L1598.4,1631.1L1600.4,1630.9L1602.4,1630.7L1604.4,1630.4L1605.4,1630.3" stroke="#000" stroke-width="5" fill="none" stroke-linecap="butt" stroke-linejoin="round"/>
<path d="M1302,1700.3H1306.4V1692H1310.7V1688.6H1315V1685.4H1319.4V1682.9H1323.7V1671.1H1328V1663.7H1332.4V1647.9H1336.7V1644.7H1341V1636.5H1345.3V1632.4H1349.7V1624.7H1354V1614.3H1358.3V1590.5H1362.7V1574.2H1367V1565.2H1371.3V1564.1H1375.7V1554.7H1380V1547H1384.3V1546.3H1388.6V1588H1393V1587.3H1397.3V1594.3H1401.6V1598.2H1406V1607H1410.3V1611.4H1414.6V1614.5H1419V1617.4H1423.3V1620.3H1427.6V1621.7H1431.9V1635.7H1436.3V1651.8H1440.6V1657.9H1444.9V1659.2H1449.3V1659.3H1453.6V1656H1457.9V1652.9H1462.3V1651H1466.6V1647.6H1470.9V1637.1H1475.2V1625.6H1479.6V1611.3H1483.9V1603.3H1488.2V1597.3H1492.6V1588H1496.9V1585.1H1501.2V1576.4H1505.6V1561.4H1509.9V1537H1514.2V1524.6H1518.5V1516H1522.9V1520.3H1527.2V1521.4H1531.5V1538.2H1535.9V1549H1540.2V1555.9H1544.5V1568.4H1548.9V1575H1553.2V1583.5H1557.5V1564.8H1561.8V1551.7H1566.2V1540.6H1570.5V1535.1H1574.8V1540.6H1579.2V1544.9H1583.5V1548.2H1587.8V1548.9H1592.2V1546H1596.5V1531.8H1600.8V1528.1H1605.1V1530.7H1605.4V1531.1" stroke="#13998A" stroke-width="4.3" fill="none" stroke-linejoin="miter"/>
</g></svg>
<rect x="1266.2" y="1412" width="340.5" height="326.5" fill="none" stroke="#333" stroke-width="2"/>
<text x="1436.5" y="1390.3" text-anchor="middle" font-size="21" fill="#1a1a1a" stroke="#1a1a1a">Goiânia</text>
</g>
<g>
<rect x="1632" y="1412" width="340.5" height="326.5" fill="#fff"/>
<svg x="1632" y="1412" width="340.5" height="326.5" overflow="hidden"><g transform="translate(-1632,-1412)">
<path d="M1632,1686.4H1972.5M1632,1613.1H1972.5M1632,1539.8H1972.5M1632,1466.5H1972.5M1647.2,1412V1738.5M1703.4,1412V1738.5M1760,1412V1738.5M1816.8,1412V1738.5M1873.1,1412V1738.5M1929,1412V1738.5" stroke="#ebebeb" stroke-width="2.2" fill="none"/>
<path d="M1632,1723.1H1972.5M1632,1649.8H1972.5M1632,1576.5H1972.5M1632,1503.2H1972.5M1632,1429.9H1972.5M1675.3,1412V1738.5M1731.5,1412V1738.5M1788.4,1412V1738.5M1845.2,1412V1738.5M1900.9,1412V1738.5M1957.1,1412V1738.5" stroke="#ebebeb" stroke-width="4.4" fill="none"/>
<text x="1657.5" y="1443.4" font-size="29" fill="#000" stroke="#000">r=0.41</text>
<path d="M1858.3,1412V1738.5" stroke="#000" stroke-width="4.5" stroke-dasharray="4.2 4.6"/>
<path d="M1670,1600.2L1672,1593.5L1674.1,1586.9L1676.1,1580.5L1678.1,1574.4L1680.1,1568.6L1682.1,1563.1L1684.1,1557.9L1686.1,1553.2L1688.1,1548.8L1690.1,1544.8L1692.1,1541L1694.1,1537.4L1696.1,1534.2L1698.1,1531.7L1700.1,1530.7L1702.1,1531.2L1704.1,1533L1706.1,1535.7L1708.1,1538.8L1710.1,1542.1L1712.1,1545.6L1714.1,1549.4L1716.1,1553.5L1718.1,1557.9L1720.1,1562.4L1722.1,1566.8L1724.1,1570.9L1726.1,1574.8L1728.1,1578.3L1730.1,1581.5L1732.1,1584.4L1734.1,1587.1L1736.1,1589.6L1738.1,1591.9L1740.1,1594L1742.1,1595.8L1744.1,1597.3L1746.1,1598.7L1748.1,1600.4L1750.1,1602.9L1752.1,1606.5L1754.1,1611.4L1756.2,1616.9L1758.2,1621.8L1760.2,1625.5L1762.2,1627.7L1764.2,1628.7L1766.2,1629L1768.2,1628.6L1770.2,1627.7L1772.2,1626.2L1774.2,1624L1776.2,1621L1778.2,1617.4L1780.2,1613.4L1782.2,1609.4L1784.2,1605.6L1786.2,1602.2L1788.2,1599.1L1790.2,1596.7L1792.2,1595L1794.2,1593.9L1796.2,1593.4L1798.2,1593.2L1800.2,1593.3L1802.2,1593.9L1804.2,1594.8L1806.2,1596L1808.2,1597.3L1810.2,1598.5L1812.2,1599.5L1814.2,1600.4L1816.2,1600.8L1818.2,1600.8L1820.2,1600.2L1822.2,1599L1824.2,1597.5L1826.2,1596.1L1828.2,1595L1830.2,1594.2L1832.2,1593.6L1834.2,1593.2L1836.2,1593.1L1838.2,1593.4L1840.3,1594.3L1842.3,1595.8L1844.3,1597.7L1846.3,1599.9L1848.3,1602L1850.3,1603.7L1852.3,1605.2L1854.3,1606.2L1856.3,1606.8L1858.3,1606.9L1860.3,1606.4L1862.3,1605.4L1864.3,1603.6L1866.3,1600.9L1868.3,1597.3L1870.3,1593.4L1872.3,1589.6L1874.3,1586.3L1876.3,1583.8L1878.3,1581.7L1880.3,1580.1L1882.3,1578.6L1884.3,1577.4L1886.3,1576.4L1888.3,1575.8L1890.3,1575.7L1892.3,1576.3L1894.3,1577.7L1896.3,1579.7L1898.3,1582L1900.3,1584.4L1902.3,1586.9L1904.3,1589.3L1906.3,1591.7L1908.3,1594L1910.3,1596.1L1912.3,1598L1914.3,1599.5L1916.3,1600.3L1918.3,1600.2L1920.3,1599.2L1922.3,1597.8L1924.4,1596.3L1926.4,1595L1928.4,1594.2L1930.4,1593.7L1932.4,1593.4L1934.4,1593.4L1936.4,1593.7L1938.4,1594L1940.4,1594.5L1942.4,1595L1944.4,1595.5L1946.4,1595.9L1948.4,1596.5L1950.4,1597L1951.4,1597.2L1951.4,1640.3L1950.4,1640.1L1948.4,1639.9L1946.4,1639.6L1944.4,1639.4L1942.4,1639.3L1940.4,1639.2L1938.4,1639.1L1936.4,1639.2L1934.4,1639.3L1932.4,1639.5L1930.4,1639.8L1928.4,1640.3L1926.4,1641.1L1924.4,1642.3L1922.3,1643.8L1920.3,1645.3L1918.3,1646.3L1916.3,1646.4L1914.3,1645.6L1912.3,1644.2L1910.3,1642.2L1908.3,1639.8L1906.3,1637.2L1904.3,1634.4L1902.3,1631.5L1900.3,1628.7L1898.3,1626.1L1896.3,1623.6L1894.3,1621.6L1892.3,1620.3L1890.3,1619.7L1888.3,1619.8L1886.3,1620.4L1884.3,1621.4L1882.3,1622.8L1880.3,1624.5L1878.3,1626.6L1876.3,1629.1L1874.3,1631.9L1872.3,1634.8L1870.3,1637.8L1868.3,1640.9L1866.3,1643.7L1864.3,1646.4L1862.3,1648.8L1860.3,1650.8L1858.3,1652.1L1856.3,1652.6L1854.3,1652.2L1852.3,1651.3L1850.3,1649.9L1848.3,1648.5L1846.3,1646.9L1844.3,1645.4L1842.3,1644L1840.3,1643L1838.2,1642.4L1836.2,1642.1L1834.2,1642.1L1832.2,1642.3L1830.2,1642.7L1828.2,1643.2L1826.2,1643.9L1824.2,1644.8L1822.2,1645.8L1820.2,1646.6L1818.2,1646.9L1816.2,1646.8L1814.2,1646.3L1812.2,1645.6L1810.2,1644.8L1808.2,1643.9L1806.2,1643L1804.2,1642.2L1802.2,1641.7L1800.2,1641.5L1798.2,1641.6L1796.2,1642L1794.2,1642.7L1792.2,1644.1L1790.2,1646.1L1788.2,1648.8L1786.2,1652L1784.2,1655.4L1782.2,1658.5L1780.2,1661.3L1778.2,1663.9L1776.2,1666L1774.2,1667.8L1772.2,1669.2L1770.2,1670.2L1768.2,1670.9L1766.2,1671.3L1764.2,1671.3L1762.2,1670.8L1760.2,1669.3L1758.2,1666.5L1756.2,1662.5L1754.1,1658.1L1752.1,1654L1750.1,1650.8L1748.1,1648.5L1746.1,1646.8L1744.1,1645.4L1742.1,1643.9L1740.1,1642.2L1738.1,1640.4L1736.1,1638.5L1734.1,1636.4L1732.1,1634.3L1730.1,1632.2L1728.1,1629.9L1726.1,1627.4L1724.1,1624.4L1722.1,1620.7L1720.1,1616.2L1718.1,1611.2L1716.1,1605.8L1714.1,1599.9L1712.1,1593.8L1710.1,1587.9L1708.1,1582.6L1706.1,1578.6L1704.1,1575.9L1702.1,1574.3L1700.1,1573.5L1698.1,1573.2L1696.1,1573.6L1694.1,1575L1692.1,1577.4L1690.1,1580.9L1688.1,1585.4L1686.1,1591L1684.1,1597.6L1682.1,1605.3L1680.1,1613.8L1678.1,1622.8L1676.1,1632.1L1674.1,1641.7L1672,1651.4L1670,1661.3Z" fill="#b3b3b3" fill-opacity="0.85"/>
<path d="M1670,1633.3L1672,1624.5L1674.1,1615.9L1676.1,1607.6L1678.1,1599.7L1680.1,1592.2L1682.1,1585.2L1684.1,1578.7L1686.1,1572.9L1688.1,1567.8L1690.1,1563.3L1692.1,1559.4L1694.1,1556.2L1696.1,1553.9L1698.1,1552.4L1700.1,1552.1L1702.1,1552.8L1704.1,1554.5L1706.1,1557.1L1708.1,1560.3L1710.1,1564L1712.1,1568.3L1714.1,1573.1L1716.1,1578.5L1718.1,1584.4L1720.1,1590.4L1722.1,1595.9L1724.1,1600.5L1726.1,1604.3L1728.1,1607.3L1730.1,1609.9L1732.1,1612.3L1734.1,1614.4L1736.1,1616.4L1738.1,1618.4L1740.1,1620.3L1742.1,1622.1L1744.1,1624L1746.1,1625.9L1748.1,1628L1750.1,1630.5L1752.1,1633.6L1754.1,1637.4L1756.2,1641.3L1758.2,1644.9L1760.2,1647.5L1762.2,1649.1L1764.2,1649.9L1766.2,1650.1L1768.2,1649.7L1770.2,1648.9L1772.2,1647.7L1774.2,1645.9L1776.2,1643.7L1778.2,1641.1L1780.2,1638.1L1782.2,1634.8L1784.2,1631.2L1786.2,1627.5L1788.2,1624L1790.2,1621.2L1792.2,1619.2L1794.2,1618L1796.2,1617.4L1798.2,1617.2L1800.2,1617.3L1802.2,1617.7L1804.2,1618.2L1806.2,1619L1808.2,1619.9L1810.2,1620.8L1812.2,1621.6L1814.2,1622.3L1816.2,1622.7L1818.2,1622.9L1820.2,1622.6L1822.2,1621.8L1824.2,1620.8L1826.2,1619.8L1828.2,1619L1830.2,1618.4L1832.2,1617.8L1834.2,1617.4L1836.2,1617.3L1838.2,1617.4L1840.3,1618.1L1842.3,1619.2L1844.3,1620.8L1846.3,1622.5L1848.3,1624.3L1850.3,1626L1852.3,1627.6L1854.3,1628.8L1856.3,1629.5L1858.3,1629.3L1860.3,1628.3L1862.3,1626.5L1864.3,1624.2L1866.3,1621.4L1868.3,1618.1L1870.3,1614.6L1872.3,1611.1L1874.3,1607.7L1876.3,1604.6L1878.3,1601.8L1880.3,1599.6L1882.3,1598.2L1884.3,1597.3L1886.3,1596.9L1888.3,1596.9L1890.3,1597.2L1892.3,1597.9L1894.3,1599L1896.3,1600.5L1898.3,1602.4L1900.3,1604.7L1902.3,1607.4L1904.3,1610.2L1906.3,1613.1L1908.3,1615.7L1910.3,1618.1L1912.3,1620.1L1914.3,1621.6L1916.3,1622.4L1918.3,1622.4L1920.3,1621.7L1922.3,1620.4L1924.4,1619.1L1926.4,1617.9L1928.4,1616.9L1930.4,1616.2L1932.4,1615.6L1934.4,1615.2L1936.4,1615L1938.4,1615L1940.4,1615L1942.4,1615.2L1944.4,1615.6L1946.4,1616.2L1948.4,1617L1950.4,1617.8L1951.4,1618.2" stroke="#000" stroke-width="5" fill="none" stroke-linecap="butt" stroke-linejoin="round"/>
<path d="M1662,1718.4H1666.4V1717.2H1670.7V1715.5H1675V1713.1H1679.4V1708.1H1683.7V1702.7H1688V1698.4H1692.3V1694.1H1696.7V1689.7H1701V1686.4H1705.3V1684.3H1709.7V1684.9H1714V1691.1H1718.3V1692.3H1722.7V1692.7H1727V1693.8H1731.3V1695.1H1735.6V1697.2H1740V1695.8H1744.3V1694.3H1748.6V1696H1753V1698.9H1757.3V1702H1761.6V1704H1766V1705.8H1770.3V1707.1H1774.6V1706.5H1778.9V1705.4H1783.3V1704.3H1787.6V1703.4H1791.9V1703.4H1796.3V1703.6H1800.6V1704.7H1804.9V1705.4H1809.3V1705.9H1813.6V1706.4H1817.9V1705.7H1822.2V1704.6H1826.6V1703.5H1830.9V1704.3H1835.2V1705.4H1839.6V1704.4H1843.9V1704.2H1848.2V1703.6H1852.6V1704.4H1856.9V1704.4H1861.2V1702.4H1865.5V1694.2H1869.9V1683.6H1874.2V1673.5H1878.5V1668H1882.9V1663H1887.2V1661.3H1891.5V1662.5H1895.9V1668.8H1900.2V1675H1904.5V1681.9H1908.8V1689.4H1913.2V1695.3H1917.5V1694.8H1921.8V1688.1H1926.2V1680.5H1930.5V1678.3H1934.8V1682H1939.2V1687.1H1943.5V1693.6H1947.8V1701.3H1952.1V1706.1H1956.5V1709.7H1960.8V1711.2H1965.1V1712.3H1969.5V1712.4H1971.4V1712.4" stroke="#2E6B95" stroke-width="4.3" fill="none" stroke-linejoin="miter"/>
</g></svg>
<rect x="1632" y="1412" width="340.5" height="326.5" fill="none" stroke="#333" stroke-width="2"/>
<text x="1802.2" y="1390.3" text-anchor="middle" font-size="21" fill="#1a1a1a" stroke="#1a1a1a">João Pessoa</text>
<path d="M1973.8,1411V1739.5" stroke="#000" stroke-width="4.4"/>
<text x="1994" y="1694.2" font-size="21" fill="#000" stroke="#000">10.0%</text>
<text x="1994" y="1624.9" font-size="21" fill="#000" stroke="#000">20.0%</text>
<text x="1994" y="1555.6" font-size="21" fill="#000" stroke="#000">30.0%</text>
<text x="1994" y="1486.3" font-size="21" fill="#000" stroke="#000">40.0%</text>
<path d="M1973.8,1686.7H1985.5M1973.8,1617.4H1985.5M1973.8,1548.1H1985.5M1973.8,1478.8H1985.5" stroke="#000" stroke-width="4.4"/>
</g>
<g>
<rect x="169" y="1819.8" width="340.5" height="326.5" fill="#fff"/>
<svg x="169" y="1819.8" width="340.5" height="326.5" overflow="hidden"><g transform="translate(-169,-1819.8)">
<path d="M169,2094.2H509.5M169,2020.9H509.5M169,1947.6H509.5M169,1874.3H509.5M184.2,1819.8V2146.2M240.4,1819.8V2146.2M297,1819.8V2146.2M353.8,1819.8V2146.2M410.1,1819.8V2146.2M466,1819.8V2146.2" stroke="#ebebeb" stroke-width="2.2" fill="none"/>
<path d="M169,2130.8H509.5M169,2057.5H509.5M169,1984.2H509.5M169,1910.9H509.5M169,1837.6H509.5M212.3,1819.8V2146.2M268.5,1819.8V2146.2M325.4,1819.8V2146.2M382.2,1819.8V2146.2M437.9,1819.8V2146.2M494.1,1819.8V2146.2" stroke="#ebebeb" stroke-width="4.4" fill="none"/>
<text x="194.5" y="1851.2" font-size="29" fill="#000" stroke="#000">r=0.59</text>
<path d="M392.3,1819.8V2146.2" stroke="#000" stroke-width="4.5" stroke-dasharray="4.2 4.6"/>
<path d="M245.1,1827L247.1,1838.2L249.1,1849.9L251.1,1862.4L253.1,1875.3L255.1,1887.6L257.1,1898.4L259.1,1907.4L261.1,1915.2L263.1,1922.3L265.1,1929.2L267.1,1936.1L269.1,1943.4L271.1,1951.2L273.1,1959.3L275.1,1967.7L277.1,1975.8L279.1,1982.5L281.1,1987.3L283.1,1990.1L285.1,1991.7L287.1,1992.8L289.1,1993.7L291.1,1994.6L293.2,1995.4L295.2,1996.2L297.2,1996.8L299.2,1997.3L301.2,1997.7L303.2,1998L305.2,1998.4L307.2,1999.1L309.2,2000L311.2,2001.3L313.2,2002.8L315.2,2004.5L317.2,2006.3L319.2,2008.1L321.2,2009.9L323.2,2011.8L325.2,2013.9L327.2,2016.3L329.2,2019.3L331.2,2022.7L333.2,2026.4L335.2,2030.1L337.2,2033.3L339.2,2036L341.2,2038.1L343.2,2039.6L345.2,2040.5L347.2,2040.7L349.2,2040L351.2,2038.2L353.2,2035.2L355.2,2030.8L357.2,2024.8L359.2,2017.5L361.2,2008.9L363.2,1999.6L365.2,1989.6L367.2,1979.1L369.2,1968.9L371.2,1959.7L373.2,1952.2L375.2,1947.2L377.3,1945L379.3,1945.2L381.3,1947.1L383.3,1949.8L385.3,1952.7L387.3,1955.8L389.3,1958.8L391.3,1961.5L393.3,1963.8L395.3,1965.4L397.3,1966.4L399.3,1966.6L401.3,1965.9L403.3,1964.2L405.3,1961.7L407.3,1958.5L409.3,1954.7L411.3,1950.5L413.3,1946L415.3,1941.6L417.3,1937.7L419.3,1934.2L421.3,1931.2L423.3,1928.6L425.3,1926.4L427.3,1924.5L429.3,1923L431.3,1921.8L433.3,1920.9L435.3,1920.2L437.3,1919.7L439.3,1919.3L440.3,1919.1L440.3,2017.2L439.3,2017.4L437.3,2017.7L435.3,2018.2L433.3,2019.1L431.3,2020.6L429.3,2022.6L427.3,2025.1L425.3,2027.9L423.3,2030.9L421.3,2034.2L419.3,2037.7L417.3,2041.7L415.3,2046.1L413.3,2051.1L411.3,2056L409.3,2060.5L407.3,2064L405.3,2066.5L403.3,2068L401.3,2068.6L399.3,2068.3L397.3,2067.1L395.3,2065.1L393.3,2062.4L391.3,2059.2L389.3,2055.5L387.3,2051.5L385.3,2047.3L383.3,2043.2L381.3,2039.3L379.3,2035.8L377.3,2033.6L375.2,2033.2L373.2,2035.3L371.2,2040.1L369.2,2047.4L367.2,2056.9L365.2,2067.7L363.2,2078.9L361.2,2090L359.2,2100.5L357.2,2109.8L355.2,2117.3L353.2,2123L351.2,2127.1L349.2,2129.6L347.2,2130.9L345.2,2131.1L343.2,2130.4L341.2,2129.4L339.2,2128.1L337.2,2126.7L335.2,2125.3L333.2,2123.7L331.2,2122.1L329.2,2120.2L327.2,2118.1L325.2,2115.9L323.2,2113.4L321.2,2111L319.2,2108.6L317.2,2106.3L315.2,2104.2L313.2,2102.2L311.2,2100.2L309.2,2098.3L307.2,2096.6L305.2,2094.9L303.2,2093.3L301.2,2091.7L299.2,2090.1L297.2,2088.4L295.2,2086.7L293.2,2084.8L291.1,2082.7L289.1,2080.3L287.1,2077.5L285.1,2074.2L283.1,2070.1L281.1,2064.9L279.1,2058.2L277.1,2049.8L275.1,2040.3L273.1,2030.1L271.1,2019.5L269.1,2008.2L267.1,1996L265.1,1983.2L263.1,1970.4L261.1,1958.2L259.1,1947L257.1,1936.5L255.1,1926.5L253.1,1917L251.1,1907.8L249.1,1898.7L247.1,1889.9L245.1,1881.1Z" fill="#b3b3b3" fill-opacity="0.85"/>
<path d="M245.1,1876.1L247.1,1883.2L249.1,1890.7L251.1,1898.7L253.1,1907.4L255.1,1916.9L257.1,1927.1L259.1,1938L261.1,1949.4L263.1,1960.9L265.1,1972.3L267.1,1983.4L269.1,1993.9L271.1,2003.6L273.1,2012.3L275.1,2019.7L277.1,2025.8L279.1,2030.4L281.1,2033.7L283.1,2035.9L285.1,2037.5L287.1,2038.7L289.1,2040L291.1,2041.3L293.2,2042.5L295.2,2043.7L297.2,2044.6L299.2,2045.4L301.2,2046L303.2,2046.4L305.2,2046.7L307.2,2047.1L309.2,2047.6L311.2,2048.2L313.2,2048.9L315.2,2049.8L317.2,2050.9L319.2,2052.2L321.2,2053.8L323.2,2055.7L325.2,2057.9L327.2,2060.3L329.2,2063L331.2,2066.1L333.2,2069.3L335.2,2072.6L337.2,2075.7L339.2,2078.6L341.2,2081.4L343.2,2083.8L345.2,2085.5L347.2,2086.1L349.2,2085.1L351.2,2082.4L353.2,2077.9L355.2,2071.8L357.2,2064.4L359.2,2055.8L361.2,2046.3L363.2,2036.2L365.2,2026L367.2,2016L369.2,2006.8L371.2,1999.1L373.2,1993.4L375.2,1989.9L377.3,1988.7L379.3,1989.3L381.3,1991.3L383.3,1994L385.3,1997.3L387.3,2001.1L389.3,2005.1L391.3,2009.1L393.3,2013L395.3,2016.5L397.3,2019.5L399.3,2021.6L401.3,2022.5L403.3,2022.2L405.3,2020.6L407.3,2018L409.3,2014.2L411.3,2009.4L413.3,2003.9L415.3,1998.3L417.3,1993L419.3,1988.1L421.3,1983.5L423.3,1979.4L425.3,1975.8L427.3,1972.8L429.3,1970.3L431.3,1968.5L433.3,1967.5L435.3,1967.2L437.3,1967.4L439.3,1967.9L440.3,1968.2" stroke="#000" stroke-width="5" fill="none" stroke-linecap="butt" stroke-linejoin="round"/>
<path d="M213.1,2101.3H217.4V2090.5H221.7V2066.6H226V2020.6H230.4V1990.6H234.7V1958.1H239V1957.2H243.4V1934.4H247.7V1910.6H252V1891.6H256.4V1894.1H260.7V1924.2H265V1957.8H269.3V2001.5H273.7V2007.4H278V2035.6H282.3V2067.9H286.7V2089H291V2087.9H295.3V2081.3H299.7V2086.3H304V2095.9H308.3V2103.3H312.6V2082.7H317V2061.6H321.3V2051.7H325.6V2046.7H330V2047.2H334.3V2018.5H338.6V1968.8H343V1967.2H347.3V1977.5H351.6V1985.5H355.9V1985.8H360.3V1963.1H364.6V1940.9H368.9V1908.3H373.3V1919.1H377.6V1951.4H381.9V1961.2H386.3V1961.2H390.6V1959.2H394.9V1979.7H399.2V1991.2H403.6V2008.2H407.9V1965.8H412.2V1922.8H416.6V1866.6H420.9V1831H425.2V1832.2H429.6V1834H433.9V1833.2H438.2V1822.6H442.5V1837.1H446.9V1887.2H451.2V1905.4H455.5V1940.1H459.9V1975.9H464.2V1955.6H468.5V1934.2H472.9V1945.9H477.2V1959.4H481.5V1960.4H485.8V1966.3H490.2V1995.3H494.5V2036.3H498.8V2053.4H503.2V2075.7H507.5V2080.6H508.4V2083.3" stroke="#8B7281" stroke-width="4.3" fill="none" stroke-linejoin="miter"/>
</g></svg>
<rect x="169" y="1819.8" width="340.5" height="326.5" fill="none" stroke="#333" stroke-width="2"/>
<text x="339.2" y="1798" text-anchor="middle" font-size="21" fill="#1a1a1a" stroke="#1a1a1a">Macapá</text>
<text x="147" y="2138.3" text-anchor="end" font-size="21" fill="#4d4d4d" stroke="#4d4d4d">0</text>
<text x="147" y="2065" text-anchor="end" font-size="21" fill="#4d4d4d" stroke="#4d4d4d">10</text>
<text x="147" y="1991.8" text-anchor="end" font-size="21" fill="#4d4d4d" stroke="#4d4d4d">20</text>
<text x="147" y="1918.4" text-anchor="end" font-size="21" fill="#4d4d4d" stroke="#4d4d4d">30</text>
<text x="147" y="1845.1" text-anchor="end" font-size="21" fill="#4d4d4d" stroke="#4d4d4d">40</text>
<path d="M156.5,2130.8H169M156.5,2057.5H169M156.5,1984.2H169M156.5,1910.9H169M156.5,1837.6H169" stroke="#333" stroke-width="4.4"/>
</g>
<g>
<rect x="534.8" y="1819.8" width="340.5" height="326.5" fill="#fff"/>
<svg x="534.8" y="1819.8" width="340.5" height="326.5" overflow="hidden"><g transform="translate(-534.8,-1819.8)">
<path d="M534.8,2094.2H875.2M534.8,2020.9H875.2M534.8,1947.6H875.2M534.8,1874.3H875.2M549.9,1819.8V2146.2M606.2,1819.8V2146.2M662.7,1819.8V2146.2M719.6,1819.8V2146.2M775.8,1819.8V2146.2M831.7,1819.8V2146.2" stroke="#ebebeb" stroke-width="2.2" fill="none"/>
<path d="M534.8,2130.8H875.2M534.8,2057.5H875.2M534.8,1984.2H875.2M534.8,1910.9H875.2M534.8,1837.6H875.2M578,1819.8V2146.2M634.3,1819.8V2146.2M691.1,1819.8V2146.2M748,1819.8V2146.2M803.6,1819.8V2146.2M859.9,1819.8V2146.2" stroke="#ebebeb" stroke-width="4.4" fill="none"/>
<text x="560.5" y="1851.2" font-size="29" fill="#000" stroke="#000">r=0.89</text>
<path d="M731.2,1819.8V2146.2" stroke="#000" stroke-width="4.5" stroke-dasharray="4.2 4.6"/>
<path d="M577.1,1971.2L579.1,1972.9L581.1,1974.7L583.1,1976.5L585.1,1978.3L587.1,1980.1L589.1,1981.9L591.1,1983.9L593.1,1986.3L595.1,1989.3L597.1,1992.9L599.1,1996.9L601.1,2001.2L603.1,2005.6L605.1,2010.2L607.1,2014.7L609.1,2018.9L611.1,2022.6L613.1,2025.7L615.1,2028.2L617.1,2030L619.1,2031L621.1,2031.2L623.1,2030.7L625.1,2029.6L627.1,2028.2L629.1,2026.4L631.1,2024.4L633.1,2022.4L635.1,2020.3L637.1,2018.5L639.1,2016.7L641.1,2015.1L643.1,2013.5L645.1,2011.9L647.1,2010.4L649.1,2008.9L651.1,2007.7L653.1,2006.9L655.1,2006.8L657.1,2007.2L659.2,2008.1L661.2,2009.2L663.2,2010.6L665.2,2012.2L667.2,2014L669.2,2016L671.2,2018.1L673.2,2020.2L675.2,2022.3L677.2,2024.4L679.2,2026.5L681.2,2028.5L683.2,2030.2L685.2,2031.7L687.2,2032.8L689.2,2033.7L691.2,2034.4L693.2,2034.9L695.2,2035.4L697.2,2035.7L699.2,2036L701.2,2036.1L703.2,2036.2L705.2,2036.3L707.2,2036.3L709.2,2036L711.2,2035.3L713.2,2034L715.2,2032.1L717.2,2029.6L719.2,2026.6L721.2,2023.1L723.2,2019.1L725.2,2014.6L727.2,2009.4L729.2,2003.6L731.2,1997.1L733.2,1990.1L735.2,1982.9L737.2,1975.7L739.2,1968.6L741.2,1961.5L743.3,1954.7L745.3,1948L747.3,1941.7L749.3,1935.7L751.3,1930.2L753.3,1925.7L755.3,1922.5L757.3,1921.1L759.3,1922.2L761.3,1925.6L763.3,1930.5L765.3,1936.3L767.3,1942.5L769.3,1949L771.3,1956L773.3,1963.3L775.3,1971.1L777.3,1979.1L779.3,1987.1L781.3,1994.8L783.3,2002.2L785.3,2009.2L787.3,2015.7L789.3,2021.6L791.3,2026.8L793.3,2031.3L795.3,2035L797.3,2037.6L799.3,2039.3L801.3,2040.3L803.3,2041L805.3,2041.6L807.3,2042L809.3,2042.5L811.3,2042.8L813.3,2043.1L815.3,2043.3L817.3,2043.4L819.3,2043.4L821.3,2043.4L823.3,2043.3L825.3,2043.2L827.4,2043L829.4,2042.8L831.4,2042.6L833.4,2042.4L835.4,2042.2L837.4,2042L839.4,2041.8L841.4,2041.6L843.4,2041.4L845.4,2041.2L847.4,2040.9L849.4,2040.6L851.4,2040.1L853.4,2039.4L855.4,2038.5L857.4,2037.2L859.4,2035.6L861.4,2033.9L863.4,2032.1L865.4,2030.3L867.4,2028.3L869.4,2026.4L871.4,2024.3L873.4,2022.3L874.4,2021.2L874.4,2061.3L873.4,2061.7L871.4,2062.5L869.4,2063.3L867.4,2064.1L865.4,2064.9L863.4,2065.7L861.4,2066.6L859.4,2067.4L857.4,2068.2L855.4,2068.9L853.4,2069.4L851.4,2069.8L849.4,2070L847.4,2070.2L845.4,2070.2L843.4,2070.2L841.4,2070L839.4,2069.8L837.4,2069.6L835.4,2069.5L833.4,2069.6L831.4,2069.9L829.4,2070.3L827.4,2070.8L825.3,2071L823.3,2071.1L821.3,2070.9L819.3,2070.5L817.3,2070L815.3,2069.6L813.3,2069.2L811.3,2068.8L809.3,2068.4L807.3,2068L805.3,2067.5L803.3,2067L801.3,2066.4L799.3,2065.4L797.3,2063.7L795.3,2061L793.3,2057.4L791.3,2052.9L789.3,2047.6L787.3,2041.4L785.3,2034.5L783.3,2027L781.3,2019.1L779.3,2011.2L777.3,2003.1L775.3,1995.1L773.3,1987.3L771.3,1979.9L769.3,1973L767.3,1966.5L765.3,1960.4L763.3,1955L761.3,1950.6L759.3,1947.8L757.3,1947.1L755.3,1948.6L753.3,1951.7L751.3,1955.9L749.3,1960.9L747.3,1966.4L745.3,1972.4L743.3,1978.8L741.2,1985.5L739.2,1992.5L737.2,1999.7L735.2,2006.9L733.2,2014.1L731.2,2021.1L729.2,2027.6L727.2,2033.5L725.2,2038.6L723.2,2043.1L721.2,2047.1L719.2,2050.6L717.2,2053.6L715.2,2056.1L713.2,2058.1L711.2,2059.7L709.2,2060.8L707.2,2061.6L705.2,2062L703.2,2062.3L701.2,2062.3L699.2,2062.2L697.2,2061.9L695.2,2061.4L693.2,2060.7L691.2,2059.8L689.2,2058.7L687.2,2057.4L685.2,2055.9L683.2,2054.3L681.2,2052.4L679.2,2050.5L677.2,2048.4L675.2,2046.3L673.2,2044.2L671.2,2042.1L669.2,2040L667.2,2038L665.2,2036.3L663.2,2034.8L661.2,2033.6L659.2,2032.6L657.1,2032L655.1,2031.7L653.1,2031.8L651.1,2032.3L649.1,2033.3L647.1,2034.6L645.1,2036L643.1,2037.5L641.1,2039.1L639.1,2040.7L637.1,2042.5L635.1,2044.3L633.1,2046.3L631.1,2048.4L629.1,2050.4L627.1,2052.3L625.1,2054L623.1,2055.5L621.1,2056.5L619.1,2056.6L617.1,2055.6L615.1,2053.5L613.1,2050.5L611.1,2047L609.1,2043L607.1,2038.7L605.1,2034.1L603.1,2029.6L601.1,2025.2L599.1,2020.9L597.1,2016.9L595.1,2013.3L593.1,2010.4L591.1,2007.9L589.1,2005.9L587.1,2004.1L585.1,2002.3L583.1,2000.5L581.1,1998.7L579.1,1997L577.1,1995.2Z" fill="#b3b3b3" fill-opacity="0.85"/>
<path d="M577.1,1984.2L579.1,1985.7L581.1,1987.2L583.1,1988.8L585.1,1990.4L587.1,1992.1L589.1,1993.9L591.1,1995.9L593.1,1998.3L595.1,2001.3L597.1,2004.9L599.1,2008.9L601.1,2013.2L603.1,2017.6L605.1,2022.2L607.1,2026.7L609.1,2030.9L611.1,2034.8L613.1,2038.1L615.1,2040.9L617.1,2042.8L619.1,2043.8L621.1,2043.8L623.1,2043.1L625.1,2041.8L627.1,2040.2L629.1,2038.4L631.1,2036.4L633.1,2034.3L635.1,2032.3L637.1,2030.5L639.1,2028.7L641.1,2027L643.1,2025.5L645.1,2024L647.1,2022.6L649.1,2021.3L651.1,2020.3L653.1,2019.7L655.1,2019.6L657.1,2020L659.2,2020.6L661.2,2021.6L663.2,2022.8L665.2,2024.3L667.2,2026L669.2,2028L671.2,2030.1L673.2,2032.2L675.2,2034.3L677.2,2036.4L679.2,2038.4L681.2,2040.4L683.2,2042.3L685.2,2043.9L687.2,2045.4L689.2,2046.7L691.2,2047.8L693.2,2048.7L695.2,2049.3L697.2,2049.6L699.2,2049.7L701.2,2049.6L703.2,2049.4L705.2,2049.2L707.2,2048.9L709.2,2048.4L711.2,2047.5L713.2,2046L715.2,2044.1L717.2,2041.6L719.2,2038.6L721.2,2035.1L723.2,2031.1L725.2,2026.6L727.2,2021.5L729.2,2015.6L731.2,2009.1L733.2,2002.1L735.2,1994.9L737.2,1987.7L739.2,1980.5L741.2,1973.5L743.3,1966.7L745.3,1960.4L747.3,1954.4L749.3,1948.9L751.3,1943.9L753.3,1939.7L755.3,1936.5L757.3,1935.1L759.3,1935.8L761.3,1938.6L763.3,1943L765.3,1948.4L767.3,1954.4L769.3,1961L771.3,1967.9L773.3,1975.3L775.3,1983.1L777.3,1991.1L779.3,1999.1L781.3,2006.8L783.3,2014.2L785.3,2021.2L787.3,2027.7L789.3,2033.6L791.3,2038.8L793.3,2043.3L795.3,2047L797.3,2050L799.3,2052.1L801.3,2053.6L803.3,2054.7L805.3,2055.5L807.3,2056.1L809.3,2056.5L811.3,2056.9L813.3,2057.2L815.3,2057.4L817.3,2057.7L819.3,2057.9L821.3,2058.1L823.3,2058.2L825.3,2058.2L827.4,2058L829.4,2057.8L831.4,2057.6L833.4,2057.4L835.4,2057.3L837.4,2057.3L839.4,2057.3L841.4,2057.3L843.4,2057.3L845.4,2057.1L847.4,2056.9L849.4,2056.6L851.4,2056.1L853.4,2055.5L855.4,2054.7L857.4,2053.7L859.4,2052.6L861.4,2051.3L863.4,2049.9L865.4,2048.5L867.4,2047L869.4,2045.4L871.4,2043.7L873.4,2042.1L874.4,2041.3" stroke="#000" stroke-width="5" fill="none" stroke-linecap="butt" stroke-linejoin="round"/>
<path d="M557,2128.4H561.4V2127H565.7V2123.9H570V2113.4H574.3V2096.8H578.7V2079.2H583V2059H587.3V2047.3H591.7V2045.7H596V2048.2H600.3V2055.5H604.7V2074.7H609V2089.8H613.3V2100.6H617.6V2104.9H622V2109.2H626.3V2111.4H630.6V2113.5H635V2114.4H639.3V2114.6H643.6V2115.4H648V2115.8H652.3V2116.9H656.6V2116.7H660.9V2115H665.3V2112.8H669.6V2110.6H673.9V2109.4H678.3V2108.3H682.6V2107.2H686.9V2106.5H691.3V2107.9H695.6V2109.7H699.9V2110.3H704.2V2108.8H708.6V2105H712.9V2102H717.2V2100.6H721.6V2101.2H725.9V2102.3H730.2V2101.3H734.6V2092.7H738.9V2073.1H743.2V2043.5H747.5V2023.6H751.9V2019.4H756.2V2023.1H760.5V2032.5H764.9V2042.6H769.2V2054H773.5V2065.6H777.9V2071.9H782.2V2077.9H786.5V2082.5H790.8V2087.7H795.2V2091.2H799.5V2094.4H803.8V2095.6H808.2V2098.6H812.5V2105.7H816.8V2110.6H821.2V2111.4H825.5V2110.6H829.8V2109.5H834.1V2109.3H838.5V2108.4H842.8V2109H847.1V2109.2H851.5V2108.3H855.8V2108.7H860.1V2110.2H864.5V2112.4H868.8V2114.3H873.1V2115.9H874.4V2116.4" stroke="#E49A86" stroke-width="4.3" fill="none" stroke-linejoin="miter"/>
</g></svg>
<rect x="534.8" y="1819.8" width="340.5" height="326.5" fill="none" stroke="#333" stroke-width="2"/>
<text x="705" y="1798" text-anchor="middle" font-size="21" fill="#1a1a1a" stroke="#1a1a1a">Manaus</text>
</g>
<g>
<rect x="900.5" y="1819.8" width="340.5" height="326.5" fill="#fff"/>
<svg x="900.5" y="1819.8" width="340.5" height="326.5" overflow="hidden"><g transform="translate(-900.5,-1819.8)">
<path d="M900.5,2094.2H1241M900.5,2020.9H1241M900.5,1947.6H1241M900.5,1874.3H1241M915.7,1819.8V2146.2M971.9,1819.8V2146.2M1028.5,1819.8V2146.2M1085.3,1819.8V2146.2M1141.6,1819.8V2146.2M1197.5,1819.8V2146.2" stroke="#ebebeb" stroke-width="2.2" fill="none"/>
<path d="M900.5,2130.8H1241M900.5,2057.5H1241M900.5,1984.2H1241M900.5,1910.9H1241M900.5,1837.6H1241M943.8,1819.8V2146.2M1000,1819.8V2146.2M1056.9,1819.8V2146.2M1113.8,1819.8V2146.2M1169.4,1819.8V2146.2M1225.6,1819.8V2146.2" stroke="#ebebeb" stroke-width="4.4" fill="none"/>
<text x="934.1" y="1851.2" font-size="29" fill="#000" stroke="#000">r=0.9</text>
<path d="M1130.3,1819.8V2146.2" stroke="#000" stroke-width="4.5" stroke-dasharray="4.2 4.6"/>
<path d="M952.1,2009.2L954.1,2006.3L956.1,2003.4L958.1,2000.7L960.1,1998.3L962.1,1996L964.1,1994L966.1,1992.2L968.1,1990.5L970.1,1988.9L972.1,1987.4L974.1,1985.9L976.1,1984.5L978.1,1983L980.1,1981.5L982.1,1979.7L984.1,1977.6L986.1,1975.4L988.1,1973.4L990.1,1972.5L992.1,1973.1L994.1,1975L996.1,1978L998.1,1981.8L1000.1,1986.3L1002.1,1991.3L1004.1,1996.6L1006.1,2002L1008.1,2007.5L1010.1,2013L1012.1,2018.5L1014.1,2023.9L1016.1,2029.1L1018.1,2034.1L1020.1,2038.8L1022.1,2042.9L1024.2,2046.6L1026.2,2049.6L1028.2,2051.7L1030.2,2052.6L1032.2,2052.5L1034.2,2051.5L1036.2,2050L1038.2,2048.2L1040.2,2046.2L1042.2,2044.2L1044.2,2042.1L1046.2,2040.3L1048.2,2038.7L1050.2,2037.2L1052.2,2036L1054.2,2034.9L1056.2,2034.1L1058.2,2033.7L1060.2,2033.7L1062.2,2034.3L1064.2,2035.3L1066.2,2036.7L1068.2,2038.6L1070.2,2040.8L1072.2,2043.5L1074.2,2046.4L1076.2,2049.2L1078.2,2051.7L1080.2,2053.6L1082.2,2055L1084.2,2055.9L1086.2,2056.6L1088.2,2057.1L1090.2,2057.4L1092.2,2057.7L1094.2,2057.8L1096.2,2057.7L1098.2,2057.3L1100.2,2056.5L1102.2,2055.3L1104.2,2053.8L1106.2,2052.1L1108.3,2050.2L1110.3,2048.1L1112.3,2045.9L1114.3,2043.5L1116.3,2041L1118.3,2038.6L1120.3,2036.4L1122.3,2034.1L1124.3,2031.6L1126.3,2028.3L1128.3,2023.7L1130.3,2017.9L1132.3,2010.9L1134.3,2002.7L1136.3,1993.2L1138.3,1982.7L1140.3,1971.8L1142.3,1961.1L1144.3,1951.4L1146.3,1942.8L1148.3,1935.3L1150.3,1928.8L1152.3,1923.6L1154.3,1919.4L1156.3,1916.4L1158.3,1914.5L1160.3,1913.5L1162.3,1913.6L1164.3,1914.6L1166.3,1916.5L1168.3,1919.1L1170.3,1922.3L1172.3,1925.9L1174.3,1929.6L1176.3,1933.1L1178.3,1936.3L1180.3,1939.1L1182.3,1941.6L1184.3,1943.9L1186.3,1946L1188.3,1947.9L1190.3,1949.7L1192.4,1951.3L1194.4,1952.8L1196.4,1954.4L1198.4,1956.2L1200.4,1958L1202.4,1960L1204.4,1962.2L1206.4,1964.5L1208.4,1967.1L1210.4,1970L1212.4,1973.4L1214.4,1977.2L1215.4,1979.2L1215.4,2023.2L1214.4,2021.7L1212.4,2018.7L1210.4,2015.5L1208.4,2012.2L1206.4,2008.9L1204.4,2005.6L1202.4,2002.4L1200.4,1999.4L1198.4,1996.8L1196.4,1994.8L1194.4,1993.3L1192.4,1992.1L1190.3,1990.9L1188.3,1989.7L1186.3,1988.2L1184.3,1986.5L1182.3,1984.7L1180.3,1982.6L1178.3,1980.2L1176.3,1977.5L1174.3,1974.4L1172.3,1971.2L1170.3,1967.9L1168.3,1964.9L1166.3,1962.2L1164.3,1960L1162.3,1958.5L1160.3,1958L1158.3,1958.6L1156.3,1960.4L1154.3,1963.4L1152.3,1967.6L1150.3,1973L1148.3,1979.5L1146.3,1987L1144.3,1995.3L1142.3,2004.4L1140.3,2014L1138.3,2024L1136.3,2034.1L1134.3,2044L1132.3,2053.6L1130.3,2062.6L1128.3,2070.6L1126.3,2077.2L1124.3,2082.4L1122.3,2086.4L1120.3,2089.6L1118.3,2092.1L1116.3,2094.1L1114.3,2095.8L1112.3,2097.3L1110.3,2098.7L1108.3,2100.3L1106.2,2102L1104.2,2103.7L1102.2,2105.3L1100.2,2106.5L1098.2,2107.3L1096.2,2107.8L1094.2,2107.9L1092.2,2107.8L1090.2,2107.5L1088.2,2107L1086.2,2106.4L1084.2,2105.7L1082.2,2104.8L1080.2,2103.8L1078.2,2102.6L1076.2,2101.2L1074.2,2099.7L1072.2,2098L1070.2,2096L1068.2,2093.8L1066.2,2091.1L1064.2,2088.5L1062.2,2086.1L1060.2,2084.6L1058.2,2084.1L1056.2,2084.5L1054.2,2085.6L1052.2,2087.1L1050.2,2088.7L1048.2,2090.4L1046.2,2092.1L1044.2,2093.8L1042.2,2095.5L1040.2,2097.1L1038.2,2098.5L1036.2,2099.7L1034.2,2100.5L1032.2,2101.1L1030.2,2101.1L1028.2,2100.7L1026.2,2099.8L1024.2,2098.3L1022.1,2096.1L1020.1,2093.1L1018.1,2089.3L1016.1,2084.8L1014.1,2079.6L1012.1,2073.6L1010.1,2066.9L1008.1,2059.9L1006.1,2053L1004.1,2046.5L1002.1,2040.5L1000.1,2035L998.1,2030L996.1,2025.7L994.1,2022.1L992.1,2019.7L990.1,2018.8L988.1,2019.5L986.1,2021.4L984.1,2023.6L982.1,2025.4L980.1,2026.8L978.1,2027.8L976.1,2028.9L974.1,2030.1L972.1,2031.4L970.1,2032.9L968.1,2034.4L966.1,2035.9L964.1,2037.3L962.1,2038.9L960.1,2040.6L958.1,2042.8L956.1,2045.4L954.1,2048.3L952.1,2051.3Z" fill="#b3b3b3" fill-opacity="0.85"/>
<path d="M952.1,2031.3L954.1,2028.3L956.1,2025.4L958.1,2022.8L960.1,2020.4L962.1,2018.4L964.1,2016.7L966.1,2015.1L968.1,2013.6L970.1,2012.3L972.1,2011.1L974.1,2009.8L976.1,2008.5L978.1,2007.2L980.1,2005.6L982.1,2003.7L984.1,2001.3L986.1,1998.5L988.1,1996.1L990.1,1994.7L992.1,1995L994.1,1996.9L996.1,2000L998.1,2004.1L1000.1,2009L1002.1,2014.5L1004.1,2020.4L1006.1,2026.6L1008.1,2033.1L1010.1,2039.6L1012.1,2045.9L1014.1,2051.9L1016.1,2057.4L1018.1,2062.4L1020.1,2066.8L1022.1,2070.5L1024.2,2073.5L1026.2,2075.8L1028.2,2077.2L1030.2,2077.7L1032.2,2077.5L1034.2,2076.5L1036.2,2075L1038.2,2073.1L1040.2,2071L1042.2,2068.8L1044.2,2066.5L1046.2,2064.4L1048.2,2062.5L1050.2,2060.6L1052.2,2059L1054.2,2057.5L1056.2,2056.5L1058.2,2056L1060.2,2056.3L1062.2,2057.4L1064.2,2059.3L1066.2,2061.6L1068.2,2064L1070.2,2066.5L1072.2,2069L1074.2,2071.5L1076.2,2073.9L1078.2,2076.1L1080.2,2077.9L1082.2,2079.5L1084.2,2080.9L1086.2,2082L1088.2,2082.8L1090.2,2083.5L1092.2,2083.9L1094.2,2084.1L1096.2,2083.9L1098.2,2083.3L1100.2,2082.3L1102.2,2080.7L1104.2,2078.8L1106.2,2076.6L1108.3,2074.5L1110.3,2072.4L1112.3,2070.5L1114.3,2068.6L1116.3,2066.5L1118.3,2064.3L1120.3,2061.8L1122.3,2059L1124.3,2055.4L1126.3,2050.8L1128.3,2044.8L1130.3,2037.3L1132.3,2028.8L1134.3,2019.7L1136.3,2010.3L1138.3,2000.8L1140.3,1991.3L1142.3,1982.1L1144.3,1973.6L1146.3,1965.9L1148.3,1958.8L1150.3,1952.6L1152.3,1947.2L1154.3,1942.7L1156.3,1939.2L1158.3,1937L1160.3,1936.2L1162.3,1936.8L1164.3,1938.5L1166.3,1941L1168.3,1944L1170.3,1947.2L1172.3,1950.7L1174.3,1954.2L1176.3,1957.3L1178.3,1960L1180.3,1962.2L1182.3,1964.1L1184.3,1965.8L1186.3,1967.4L1188.3,1968.8L1190.3,1970.2L1192.4,1971.6L1194.4,1973L1196.4,1974.6L1198.4,1976.5L1200.4,1978.7L1202.4,1981.2L1204.4,1983.9L1206.4,1986.9L1208.4,1990.1L1210.4,1993.5L1212.4,1997L1214.4,2000.5L1215.4,2002.2" stroke="#000" stroke-width="5" fill="none" stroke-linecap="butt" stroke-linejoin="round"/>
<path d="M936,2122.4H940.4V2120.7H944.7V2118.9H949V2116.9H953.4V2113.8H957.7V2109.7H962V2105.4H966.4V2100.7H970.7V2090.3H975V2083.8H979.3V2077.9H983.7V2063.3H988V2067.1H992.3V2072.5H996.7V2076.9H1001V2082.2H1005.3V2086.5H1009.7V2092H1014V2097.2H1018.3V2100.7H1022.6V2104H1027V2106.3H1031.3V2107.4H1035.6V2108.7H1040V2111.7H1044.3V2114.2H1048.6V2116.7H1053V2117.8H1057.3V2118.7H1061.6V2118H1065.9V2115.3H1070.3V2112H1074.6V2107.7H1078.9V2102.2H1083.3V2100.6H1087.6V2099.5H1091.9V2099.3H1096.3V2100.3H1100.6V2101.3H1104.9V2099.7H1109.2V2096.3H1113.6V2093.8H1117.9V2092.5H1122.2V2093.7H1126.6V2095.1H1130.9V2092.1H1135.2V2083.4H1139.6V2071.4H1143.9V2056.7H1148.2V2034.3H1152.5V2031.7H1156.9V2033.8H1161.2V2045.9H1165.5V2047.8H1169.9V2048.9H1174.2V2049.3H1178.5V2049.3H1182.9V2050.2H1187.2V2050.3H1191.5V2049.2H1195.8V2048.2H1200.2V2047.3H1204.5V2047.3H1208.8V2056.6H1213.2V2066.3H1217.5V2075.3H1221.8V2083.6H1226.2V2091.1H1230.5V2096.4H1234.8V2101.2H1239.1V2107H1239.4V2107.3" stroke="#9290B4" stroke-width="4.3" fill="none" stroke-linejoin="miter"/>
</g></svg>
<rect x="900.5" y="1819.8" width="340.5" height="326.5" fill="none" stroke="#333" stroke-width="2"/>
<text x="1070.8" y="1798" text-anchor="middle" font-size="21" fill="#1a1a1a" stroke="#1a1a1a">Natal</text>
</g>
<g>
<rect x="1266.2" y="1819.8" width="340.5" height="326.5" fill="#fff"/>
<svg x="1266.2" y="1819.8" width="340.5" height="326.5" overflow="hidden"><g transform="translate(-1266.2,-1819.8)">
<path d="M1266.2,2094.2H1606.8M1266.2,2020.9H1606.8M1266.2,1947.6H1606.8M1266.2,1874.3H1606.8M1281.4,1819.8V2146.2M1337.7,1819.8V2146.2M1394.2,1819.8V2146.2M1451.1,1819.8V2146.2M1507.3,1819.8V2146.2M1563.2,1819.8V2146.2" stroke="#ebebeb" stroke-width="2.2" fill="none"/>
<path d="M1266.2,2130.8H1606.8M1266.2,2057.5H1606.8M1266.2,1984.2H1606.8M1266.2,1910.9H1606.8M1266.2,1837.6H1606.8M1309.5,1819.8V2146.2M1365.8,1819.8V2146.2M1422.6,1819.8V2146.2M1479.5,1819.8V2146.2M1535.1,1819.8V2146.2M1591.4,1819.8V2146.2" stroke="#ebebeb" stroke-width="4.4" fill="none"/>
<text x="1291.5" y="1851.2" font-size="29" fill="#000" stroke="#000">r=0.75</text>
<path d="M1485.7,1819.8V2146.2" stroke="#000" stroke-width="4.5" stroke-dasharray="4.2 4.6"/>
<path d="M1305,2085.3L1307.1,2084.5L1309.1,2083.7L1311.1,2082.9L1313.1,2082.1L1315.1,2081.3L1317.1,2080.5L1319.1,2079.7L1321.1,2078.9L1323.1,2078.1L1325.1,2077.3L1327.1,2076.4L1329.1,2075.5L1331.1,2074.6L1333.1,2074L1335.1,2073.7L1337.1,2073.7L1339.1,2074.1L1341.1,2074.5L1343.1,2074.9L1345.1,2075L1347.1,2074.8L1349.1,2074.3L1351.1,2073.5L1353.1,2072.4L1355.1,2070.9L1357.1,2069L1359.1,2066.8L1361.1,2064.3L1363.1,2061.8L1365.1,2059.4L1367.1,2057.2L1369.1,2055L1371.1,2053L1373.1,2051.1L1375.1,2049.4L1377.1,2047.9L1379.1,2046.5L1381.1,2045.3L1383.1,2044.3L1385.1,2043.4L1387.1,2042.7L1389.1,2042.2L1391.2,2041.8L1393.2,2041.5L1395.2,2041.4L1397.2,2041.4L1399.2,2041.6L1401.2,2041.8L1403.2,2042L1405.2,2042.1L1407.2,2042.2L1409.2,2042.1L1411.2,2042.1L1413.2,2042.2L1415.2,2042.5L1417.2,2043L1419.2,2043.7L1421.2,2044.7L1423.2,2046L1425.2,2047.9L1427.2,2050.3L1429.2,2053.3L1431.2,2056.2L1433.2,2058.5L1435.2,2060L1437.2,2060.8L1439.2,2061.1L1441.2,2061.1L1443.2,2060.9L1445.2,2060.5L1447.2,2059.9L1449.2,2059.2L1451.2,2058.3L1453.2,2057.4L1455.2,2056.3L1457.2,2055.3L1459.2,2054.2L1461.2,2053.2L1463.2,2052.2L1465.2,2051.4L1467.2,2050.6L1469.2,2050L1471.2,2049.7L1473.2,2049.6L1475.3,2049.8L1477.3,2050.3L1479.3,2050.8L1481.3,2051.1L1483.3,2051.3L1485.3,2051L1487.3,2050.1L1489.3,2048.2L1491.3,2045.2L1493.3,2041.1L1495.3,2036.3L1497.3,2031L1499.3,2025.4L1501.3,2019.5L1503.3,2013.4L1505.3,2007.2L1507.3,2001L1509.3,1994.9L1511.3,1989.1L1513.3,1983.7L1515.3,1978.9L1517.3,1974.6L1519.3,1970.8L1521.3,1967.3L1523.3,1964.1L1525.3,1961.8L1527.3,1960.9L1529.3,1962.1L1531.3,1965.4L1533.3,1970L1535.3,1975.1L1537.3,1980.3L1539.3,1985.4L1541.3,1990.3L1543.3,1994.9L1545.3,1999L1547.3,2002.7L1549.3,2006L1551.3,2008.9L1553.3,2011.4L1555.3,2013.5L1557.4,2015.5L1559.4,2017.4L1561.4,2019.3L1563.4,2021.3L1565.4,2023.2L1567.4,2025.2L1569.4,2027.3L1571.4,2029.3L1573.4,2031.3L1575.4,2033.3L1577.4,2035.4L1579.4,2037.3L1581.4,2039.2L1583.4,2041.1L1585.4,2042.8L1587.4,2044.6L1589.4,2046.2L1591.4,2047.7L1593.4,2049.1L1595.4,2050.4L1597.4,2051.5L1599.4,2052.5L1601.4,2053.5L1603.4,2054.4L1605.4,2055.3L1605.4,2103.3L1603.4,2101L1601.4,2098.7L1599.4,2096.3L1597.4,2094L1595.4,2091.7L1593.4,2089.3L1591.4,2087L1589.4,2084.7L1587.4,2082.3L1585.4,2080L1583.4,2077.6L1581.4,2075.3L1579.4,2072.9L1577.4,2070.4L1575.4,2068L1573.4,2065.7L1571.4,2063.4L1569.4,2061.3L1567.4,2059.3L1565.4,2057.3L1563.4,2055.3L1561.4,2053.2L1559.4,2051L1557.4,2048.7L1555.3,2046.4L1553.3,2043.8L1551.3,2041.1L1549.3,2038.1L1547.3,2034.8L1545.3,2031L1543.3,2026.7L1541.3,2021.7L1539.3,2016.3L1537.3,2010.8L1535.3,2005.5L1533.3,2000.6L1531.3,1996.5L1529.3,1993.6L1527.3,1992.5L1525.3,1993L1523.3,1994.8L1521.3,1997.5L1519.3,2000.8L1517.3,2004.6L1515.3,2008.9L1513.3,2013.7L1511.3,2019L1509.3,2024.8L1507.3,2031L1505.3,2037.6L1503.3,2044.5L1501.3,2051.6L1499.3,2058.4L1497.3,2064.6L1495.3,2069.9L1493.3,2074.3L1491.3,2077.9L1489.3,2080.4L1487.3,2081.9L1485.3,2082.5L1483.3,2082.5L1481.3,2082.2L1479.3,2081.8L1477.3,2081.2L1475.3,2080.8L1473.2,2080.7L1471.2,2081L1469.2,2081.6L1467.2,2082.4L1465.2,2083.3L1463.2,2084.3L1461.2,2085.3L1459.2,2086.3L1457.2,2087.3L1455.2,2088.4L1453.2,2089.4L1451.2,2090.4L1449.2,2091.2L1447.2,2092L1445.2,2092.6L1443.2,2093L1441.2,2093.2L1439.2,2093.1L1437.2,2092.8L1435.2,2092L1433.2,2090.7L1431.2,2088.7L1429.2,2086.3L1427.2,2083.9L1425.2,2081.8L1423.2,2080.2L1421.2,2078.9L1419.2,2077.9L1417.2,2077.1L1415.2,2076.4L1413.2,2075.8L1411.2,2075.3L1409.2,2074.9L1407.2,2074.6L1405.2,2074.3L1403.2,2074L1401.2,2073.7L1399.2,2073.5L1397.2,2073.4L1395.2,2073.4L1393.2,2073.6L1391.2,2073.9L1389.1,2074.3L1387.1,2074.8L1385.1,2075.3L1383.1,2075.9L1381.1,2076.5L1379.1,2077.3L1377.1,2078.3L1375.1,2079.7L1373.1,2081.6L1371.1,2083.9L1369.1,2086.4L1367.1,2088.8L1365.1,2091.1L1363.1,2093L1361.1,2094.8L1359.1,2096.4L1357.1,2097.9L1355.1,2099.3L1353.1,2100.8L1351.1,2102.2L1349.1,2103.4L1347.1,2104.4L1345.1,2104.9L1343.1,2105L1341.1,2104.7L1339.1,2104.2L1337.1,2103.8L1335.1,2103.7L1333.1,2104L1331.1,2104.7L1329.1,2105.5L1327.1,2106.4L1325.1,2107.3L1323.1,2108.1L1321.1,2108.9L1319.1,2109.7L1317.1,2110.5L1315.1,2111.4L1313.1,2112.2L1311.1,2113L1309.1,2113.8L1307.1,2114.6L1305,2115.4Z" fill="#b3b3b3" fill-opacity="0.85"/>
<path d="M1305,2102.3L1307.1,2101.3L1309.1,2100.3L1311.1,2099.3L1313.1,2098.3L1315.1,2097.3L1317.1,2096.3L1319.1,2095.2L1321.1,2094.2L1323.1,2093.3L1325.1,2092.4L1327.1,2091.6L1329.1,2090.8L1331.1,2090.2L1333.1,2089.8L1335.1,2089.6L1337.1,2089.8L1339.1,2090.2L1341.1,2090.7L1343.1,2091L1345.1,2090.9L1347.1,2090.4L1349.1,2089.5L1351.1,2088.2L1353.1,2086.8L1355.1,2085.2L1357.1,2083.4L1359.1,2081.5L1361.1,2079.5L1363.1,2077.4L1365.1,2075.3L1367.1,2073.2L1369.1,2071.1L1371.1,2069.1L1373.1,2067.2L1375.1,2065.5L1377.1,2064.1L1379.1,2062.9L1381.1,2061.9L1383.1,2061.1L1385.1,2060.4L1387.1,2059.8L1389.1,2059.3L1391.2,2058.9L1393.2,2058.6L1395.2,2058.4L1397.2,2058.2L1399.2,2058.2L1401.2,2058.2L1403.2,2058.2L1405.2,2058.3L1407.2,2058.3L1409.2,2058.4L1411.2,2058.6L1413.2,2058.9L1415.2,2059.5L1417.2,2060.2L1419.2,2061.2L1421.2,2062.4L1423.2,2063.9L1425.2,2065.8L1427.2,2068.1L1429.2,2070.8L1431.2,2073.5L1433.2,2075.6L1435.2,2077L1437.2,2077.8L1439.2,2078.1L1441.2,2078.3L1443.2,2078.2L1445.2,2078.1L1447.2,2077.7L1449.2,2077L1451.2,2076.1L1453.2,2074.9L1455.2,2073.7L1457.2,2072.4L1459.2,2071.3L1461.2,2070.2L1463.2,2069.2L1465.2,2068.3L1467.2,2067.4L1469.2,2066.5L1471.2,2065.9L1473.2,2065.8L1475.3,2066.1L1477.3,2066.7L1479.3,2067.5L1481.3,2068.1L1483.3,2068.6L1485.3,2068.6L1487.3,2067.9L1489.3,2066.2L1491.3,2063.3L1493.3,2059.2L1495.3,2054.4L1497.3,2048.9L1499.3,2042.9L1501.3,2036.5L1503.3,2029.9L1505.3,2023.4L1507.3,2017L1509.3,2010.8L1511.3,2005L1513.3,1999.7L1515.3,1994.9L1517.3,1990.6L1519.3,1986.8L1521.3,1983.4L1523.3,1980.5L1525.3,1978.4L1527.3,1977.7L1529.3,1978.9L1531.3,1982L1533.3,1986.3L1535.3,1991.2L1537.3,1996.3L1539.3,2001.3L1541.3,2006.3L1543.3,2010.8L1545.3,2015L1547.3,2018.7L1549.3,2022L1551.3,2025L1553.3,2027.8L1555.3,2030.3L1557.4,2032.7L1559.4,2035L1561.4,2037.2L1563.4,2039.3L1565.4,2041.4L1567.4,2043.4L1569.4,2045.3L1571.4,2047.3L1573.4,2049.3L1575.4,2051.3L1577.4,2053.3L1579.4,2055.3L1581.4,2057.3L1583.4,2059.3L1585.4,2061.3L1587.4,2063.3L1589.4,2065.3L1591.4,2067.3L1593.4,2069.3L1595.4,2071.2L1597.4,2073L1599.4,2074.9L1601.4,2076.7L1603.4,2078.5L1605.4,2080.3" stroke="#000" stroke-width="5" fill="none" stroke-linecap="butt" stroke-linejoin="round"/>
<path d="M1293,2128.4H1297.4V2122H1301.7V2119.5H1306V2118.4H1310.4V2117.5H1314.7V2116.6H1319V2115.8H1323.3V2115.2H1327.7V2114.8H1332V2114H1336.3V2112.2H1340.7V2110.1H1345V2107.4H1349.3V2103.1H1353.7V2097.4H1358V2090.2H1362.3V2083.2H1366.6V2080.9H1371V2080.3H1375.3V2080.3H1379.6V2080.3H1384V2080.3H1388.3V2080.3H1392.6V2081.2H1397V2084.2H1401.3V2087.4H1405.6V2090.7H1409.9V2093.7H1414.3V2095.6H1418.6V2096.7H1422.9V2097.3H1427.3V2097.3H1431.6V2097.3H1435.9V2096.7H1440.3V2094.8H1444.6V2092.6H1448.9V2090.5H1453.2V2088.3H1457.6V2086.2H1461.9V2086H1466.2V2090.3H1470.6V2093.8H1474.9V2096.2H1479.2V2098.3H1483.6V2099.3H1487.9V2099.3H1492.2V2099.2H1496.5V2098.1H1500.9V2090.8H1505.2V2070.7H1509.5V2047.7H1513.9V2032.8H1518.2V2029.7H1522.5V2032.8H1526.9V2043.2H1531.2V2057.3H1535.5V2073.1H1539.8V2080.3H1544.2V2089H1548.5V2096.4H1552.8V2098.3H1557.2V2096.5H1561.5V2092.7H1565.8V2091.3H1570.2V2092.7H1574.5V2095.7H1578.8V2098.1H1583.1V2100.2H1587.5V2103.4H1591.8V2105.5H1596.1V2107.7H1600.5V2109.9H1604.8V2112H1605.4V2112.4" stroke="#7EAFB9" stroke-width="4.3" fill="none" stroke-linejoin="miter"/>
</g></svg>
<rect x="1266.2" y="1819.8" width="340.5" height="326.5" fill="none" stroke="#333" stroke-width="2"/>
<text x="1436.5" y="1798" text-anchor="middle" font-size="21" fill="#1a1a1a" stroke="#1a1a1a">Porto Alegre</text>
</g>
<g>
<rect x="1632" y="1819.8" width="340.5" height="326.5" fill="#fff"/>
<svg x="1632" y="1819.8" width="340.5" height="326.5" overflow="hidden"><g transform="translate(-1632,-1819.8)">
<path d="M1632,2094.2H1972.5M1632,2020.9H1972.5M1632,1947.6H1972.5M1632,1874.3H1972.5M1647.2,1819.8V2146.2M1703.4,1819.8V2146.2M1760,1819.8V2146.2M1816.8,1819.8V2146.2M1873.1,1819.8V2146.2M1929,1819.8V2146.2" stroke="#ebebeb" stroke-width="2.2" fill="none"/>
<path d="M1632,2130.8H1972.5M1632,2057.5H1972.5M1632,1984.2H1972.5M1632,1910.9H1972.5M1632,1837.6H1972.5M1675.3,1819.8V2146.2M1731.5,1819.8V2146.2M1788.4,1819.8V2146.2M1845.2,1819.8V2146.2M1900.9,1819.8V2146.2M1957.1,1819.8V2146.2" stroke="#ebebeb" stroke-width="4.4" fill="none"/>
<text x="1657.5" y="1851.2" font-size="29" fill="#000" stroke="#000">r=0.66</text>
<path d="M1856.9,1819.8V2146.2" stroke="#000" stroke-width="4.5" stroke-dasharray="4.2 4.6"/>
<path d="M1696.1,1936.1L1698.1,1933.4L1700.1,1930.8L1702.1,1928.5L1704.1,1926.6L1706.1,1925.3L1708.1,1924.9L1710.1,1925.5L1712.1,1927.2L1714.1,1930L1716.1,1933.8L1718.1,1938.3L1720.1,1943.2L1722.1,1948.6L1724.1,1954.3L1726.1,1960.2L1728.1,1966.2L1730.1,1972.1L1732.1,1977.7L1734.1,1983L1736.1,1988L1738.1,1992.7L1740.1,1997.2L1742.1,2001.5L1744.1,2005.5L1746.1,2009.3L1748.1,2012.7L1750.1,2015.6L1752.1,2017.6L1754.1,2018.5L1756.2,2018.5L1758.2,2018.1L1760.2,2017.7L1762.2,2017.7L1764.2,2018.1L1766.2,2018.7L1768.2,2019.6L1770.2,2020.8L1772.2,2022.3L1774.2,2024L1776.2,2026L1778.2,2028.1L1780.2,2030.2L1782.2,2032.3L1784.2,2034.3L1786.2,2036.4L1788.2,2038.3L1790.2,2040.3L1792.2,2042.2L1794.2,2044L1796.2,2045.7L1798.2,2047.2L1800.2,2048.4L1802.2,2049.1L1804.2,2048.8L1806.2,2047.4L1808.2,2044.8L1810.2,2041L1812.2,2036.5L1814.2,2031.7L1816.2,2026.6L1818.2,2021.4L1820.2,2015.8L1822.2,2009.9L1824.2,2003.6L1826.2,1996.9L1828.2,1989.9L1830.2,1982.8L1832.2,1975.6L1834.2,1968.4L1836.2,1961.4L1838.2,1954.7L1840.3,1948.6L1842.3,1943L1844.3,1938L1846.3,1933.7L1848.3,1930.2L1850.3,1927.6L1852.3,1925.6L1854.3,1924L1856.3,1922.6L1858.3,1921.5L1860.3,1920.5L1862.3,1919.5L1864.3,1918.5L1866.3,1917.5L1868.3,1916.5L1870.3,1915.6L1872.3,1914.8L1874.3,1914.2L1876.3,1913.6L1878.3,1913.3L1880.3,1913.3L1882.3,1913.7L1884.3,1914.4L1886.3,1915.4L1888.3,1916.8L1890.3,1918.5L1892.3,1920.5L1894.3,1923.1L1896.3,1926.1L1898.3,1929.7L1900.3,1934L1902.3,1939L1904.3,1944.5L1906.3,1950.3L1908.3,1955.7L1910.3,1959.7L1912.3,1961.7L1914.3,1961.7L1916.3,1960.9L1918.3,1960.3L1920.3,1960.8L1922.3,1962.5L1924.4,1964.9L1926.4,1967.6L1928.4,1970.3L1930.4,1972.8L1932.4,1975.4L1934.4,1978L1936.4,1980.8L1938.4,1983.7L1940.4,1986.7L1942.4,1989.7L1944.4,1992.4L1946.4,1995L1948.4,1997.5L1950.4,1999.9L1952.4,2002.1L1954.4,2004.4L1956.4,2006.4L1958.4,2007.9L1960.4,2008.3L1962.4,2007.6L1964.4,2005.7L1966.4,2003.1L1968.4,2000L1970.4,1996.8L1971.4,1995.2L1971.4,2081.3L1970.4,2079.6L1968.4,2076.2L1966.4,2072.9L1964.4,2069.8L1962.4,2067L1960.4,2064.9L1958.4,2063.5L1956.4,2062.5L1954.4,2061.6L1952.4,2060.8L1950.4,2059.8L1948.4,2058.8L1946.4,2057.5L1944.4,2055.7L1942.4,2053.3L1940.4,2050.3L1938.4,2046.8L1936.4,2043.3L1934.4,2040.2L1932.4,2037.5L1930.4,2034.9L1928.4,2032.3L1926.4,2029.5L1924.4,2026.5L1922.3,2023.6L1920.3,2021L1918.3,2019.1L1916.3,2017.8L1914.3,2016.7L1912.3,2015.2L1910.3,2012.8L1908.3,2009.5L1906.3,2005.4L1904.3,2001.2L1902.3,1997.1L1900.3,1993.3L1898.3,1989.6L1896.3,1986.3L1894.3,1983.3L1892.3,1980.7L1890.3,1978.6L1888.3,1977L1886.3,1975.7L1884.3,1974.6L1882.3,1973.7L1880.3,1972.9L1878.3,1972.2L1876.3,1971.7L1874.3,1971.4L1872.3,1971.4L1870.3,1971.7L1868.3,1972.4L1866.3,1973.4L1864.3,1974.5L1862.3,1975.5L1860.3,1976.5L1858.3,1977.5L1856.3,1978.7L1854.3,1980.3L1852.3,1982.3L1850.3,1984.8L1848.3,1988.1L1846.3,1992.1L1844.3,1997L1842.3,2002.5L1840.3,2008.3L1838.2,2014.2L1836.2,2020.1L1834.2,2026.1L1832.2,2032.2L1830.2,2038.5L1828.2,2044.8L1826.2,2051.3L1824.2,2058.2L1822.2,2065.3L1820.2,2072.8L1818.2,2080.3L1816.2,2087.3L1814.2,2093.5L1812.2,2098.8L1810.2,2103.3L1808.2,2107.1L1806.2,2110L1804.2,2111.9L1802.2,2112.8L1800.2,2112.9L1798.2,2112.5L1796.2,2111.7L1794.2,2110.8L1792.2,2109.9L1790.2,2108.8L1788.2,2107.8L1786.2,2106.6L1784.2,2105.4L1782.2,2103.9L1780.2,2102.2L1778.2,2100.3L1776.2,2098.2L1774.2,2096.2L1772.2,2094.4L1770.2,2092.9L1768.2,2091.8L1766.2,2090.9L1764.2,2090.2L1762.2,2089.7L1760.2,2089.5L1758.2,2089.5L1756.2,2089.5L1754.1,2088.9L1752.1,2087.3L1750.1,2084.7L1748.1,2081.2L1746.1,2077.5L1744.1,2073.7L1742.1,2069.6L1740.1,2065.2L1738.1,2060.1L1736.1,2054.4L1734.1,2048.4L1732.1,2042.5L1730.1,2037L1728.1,2031.8L1726.1,2026.7L1724.1,2021.5L1722.1,2016L1720.1,2010.1L1718.1,2004.1L1716.1,1998.5L1714.1,1993.5L1712.1,1989.7L1710.1,1987.3L1708.1,1986.7L1706.1,1987.7L1704.1,1990.2L1702.1,1993.7L1700.1,1997.8L1698.1,2002.4L1696.1,2007.2Z" fill="#b3b3b3" fill-opacity="0.85"/>
<path d="M1696.1,1972.2L1698.1,1968.3L1700.1,1964.6L1702.1,1961.1L1704.1,1958.1L1706.1,1955.8L1708.1,1954.7L1710.1,1955.3L1712.1,1957.7L1714.1,1961.4L1716.1,1966L1718.1,1971.1L1720.1,1976.6L1722.1,1982.4L1724.1,1988.5L1726.1,1994.9L1728.1,2001.4L1730.1,2007.9L1732.1,2014.3L1734.1,2020.5L1736.1,2026.5L1738.1,2032.3L1740.1,2037.7L1742.1,2042.8L1744.1,2047.6L1746.1,2051.8L1748.1,2055.3L1750.1,2057.8L1752.1,2059.1L1754.1,2059.3L1756.2,2058.5L1758.2,2057.3L1760.2,2056.1L1762.2,2055.1L1764.2,2054.4L1766.2,2053.9L1768.2,2053.9L1770.2,2054.4L1772.2,2055.7L1774.2,2057.7L1776.2,2060.3L1778.2,2063.1L1780.2,2065.8L1782.2,2068.3L1784.2,2070.5L1786.2,2072.6L1788.2,2074.6L1790.2,2076.4L1792.2,2078L1794.2,2079.5L1796.2,2080.9L1798.2,2081.9L1800.2,2082.7L1802.2,2082.7L1804.2,2081.9L1806.2,2079.9L1808.2,2076.7L1810.2,2072.4L1812.2,2067.4L1814.2,2061.8L1816.2,2055.7L1818.2,2049.1L1820.2,2042L1822.2,2034.9L1824.2,2027.7L1826.2,2020.6L1828.2,2013.6L1830.2,2006.8L1832.2,2000.2L1834.2,1993.9L1836.2,1987.9L1838.2,1982.2L1840.3,1976.9L1842.3,1971.9L1844.3,1967.4L1846.3,1963.4L1848.3,1960L1850.3,1957L1852.3,1954.5L1854.3,1952.3L1856.3,1950.4L1858.3,1948.7L1860.3,1947.2L1862.3,1945.8L1864.3,1944.7L1866.3,1943.8L1868.3,1943L1870.3,1942.5L1872.3,1942.2L1874.3,1942.1L1876.3,1942.1L1878.3,1942.4L1880.3,1943L1882.3,1943.9L1884.3,1945.1L1886.3,1946.6L1888.3,1948.3L1890.3,1950.3L1892.3,1952.6L1894.3,1955.2L1896.3,1958.2L1898.3,1961.8L1900.3,1966.1L1902.3,1971L1904.3,1976.4L1906.3,1981.8L1908.3,1986.6L1910.3,1990.2L1912.3,1992.1L1914.3,1992.4L1916.3,1992L1918.3,1992L1920.3,1993L1922.3,1995.2L1924.4,1998.2L1926.4,2001.5L1928.4,2005L1930.4,2008.5L1932.4,2012L1934.4,2015.5L1936.4,2018.8L1938.4,2022.1L1940.4,2025.1L1942.4,2027.7L1944.4,2030L1946.4,2032L1948.4,2033.6L1950.4,2035.1L1952.4,2036.6L1954.4,2037.9L1956.4,2039.1L1958.4,2040.1L1960.4,2040.8L1962.4,2041.1L1964.4,2041.2L1966.4,2041L1968.4,2040.7L1970.4,2040.4L1971.4,2040.3" stroke="#000" stroke-width="5" fill="none" stroke-linecap="butt" stroke-linejoin="round"/>
<path d="M1677.1,2113.4H1681.4V2102.5H1685.7V2091.4H1690V2077.3H1694.4V2061.6H1698.7V2053.1H1703V2046H1707.4V2039H1711.7V2030H1716V2024.3H1720.4V2021.7H1724.7V2032.8H1729V2035.2H1733.3V2019.1H1737.7V2016.4H1742V2013.5H1746.3V2012.1H1750.7V2013.3H1755V2025.7H1759.3V2016.2H1763.7V2023.7H1768V2038.9H1772.3V2055H1776.6V2062.8H1781V2067.6H1785.3V2070.4H1789.6V2071.9H1794V2071.4H1798.3V2061.1H1802.6V2039.1H1807V2031.4H1811.3V2007.5H1815.6V2001.2H1819.9V2011.7H1824.3V2031.3H1828.6V2035.8H1832.9V2052.2H1837.3V2055.6H1841.6V2031.6H1845.9V1994.7H1850.3V1980.2H1854.6V1967.7H1858.9V1941.9H1863.2V1938H1867.6V1940.2H1871.9V1947.2H1876.2V1907.1H1880.6V1883.3H1884.9V1872.1H1889.2V1896.6H1893.6V1902.2H1897.9V1928.3H1902.2V1929.6H1906.5V1968.9H1910.9V1987.8H1915.2V2023.6H1919.5V2035.7H1923.9V2036.9H1928.2V2038.7H1932.5V2043.6H1936.9V2051.8H1941.2V2059H1945.5V2067.6H1949.8V2075H1954.2V2081.5H1958.5V2084.1H1962.8V2083.5H1967.2V2084.3H1971.4V2086.3" stroke="#A5A597" stroke-width="4.3" fill="none" stroke-linejoin="miter"/>
</g></svg>
<rect x="1632" y="1819.8" width="340.5" height="326.5" fill="none" stroke="#333" stroke-width="2"/>
<text x="1802.2" y="1798" text-anchor="middle" font-size="21" fill="#1a1a1a" stroke="#1a1a1a">Porto Velho</text>
<path d="M1973.8,1818.8V2147.2" stroke="#000" stroke-width="4.4"/>
<text x="1994" y="2101.9" font-size="21" fill="#000" stroke="#000">10.0%</text>
<text x="1994" y="2032.6" font-size="21" fill="#000" stroke="#000">20.0%</text>
<text x="1994" y="1963.3" font-size="21" fill="#000" stroke="#000">30.0%</text>
<text x="1994" y="1894" font-size="21" fill="#000" stroke="#000">40.0%</text>
<path d="M1973.8,2094.4H1985.5M1973.8,2025.1H1985.5M1973.8,1955.8H1985.5M1973.8,1886.5H1985.5" stroke="#000" stroke-width="4.4"/>
<path d="M1675.3,2146.2V2158.8M1731.5,2146.2V2158.8M1788.4,2146.2V2158.8M1845.2,2146.2V2158.8M1900.9,2146.2V2158.8M1957.1,2146.2V2158.8" stroke="#333" stroke-width="4.4"/>
<text transform="translate(1688,2177.6) rotate(-45)" text-anchor="end" font-size="21" fill="#4d4d4d" stroke="#4d4d4d">Apr 20</text>
<text transform="translate(1744.2,2177.6) rotate(-45)" text-anchor="end" font-size="21" fill="#4d4d4d" stroke="#4d4d4d">Jul 20</text>
<text transform="translate(1801.1,2177.6) rotate(-45)" text-anchor="end" font-size="21" fill="#4d4d4d" stroke="#4d4d4d">Oct 20</text>
<text transform="translate(1858,2177.6) rotate(-45)" text-anchor="end" font-size="21" fill="#4d4d4d" stroke="#4d4d4d">Jan 21</text>
<text transform="translate(1913.6,2177.6) rotate(-45)" text-anchor="end" font-size="21" fill="#4d4d4d" stroke="#4d4d4d">Apr 21</text>
<text transform="translate(1969.8,2177.6) rotate(-45)" text-anchor="end" font-size="21" fill="#4d4d4d" stroke="#4d4d4d">Jul 21</text>
</g>
<g>
<rect x="169" y="2227.5" width="340.5" height="326.5" fill="#fff"/>
<svg x="169" y="2227.5" width="340.5" height="326.5" overflow="hidden"><g transform="translate(-169,-2227.5)">
<path d="M169,2501.9H509.5M169,2428.7H509.5M169,2355.3H509.5M169,2282H509.5M184.2,2227.5V2554M240.4,2227.5V2554M297,2227.5V2554M353.8,2227.5V2554M410.1,2227.5V2554M466,2227.5V2554" stroke="#ebebeb" stroke-width="2.2" fill="none"/>
<path d="M169,2538.6H509.5M169,2465.3H509.5M169,2392H509.5M169,2318.7H509.5M169,2245.4H509.5M212.3,2227.5V2554M268.5,2227.5V2554M325.4,2227.5V2554M382.2,2227.5V2554M437.9,2227.5V2554M494.1,2227.5V2554" stroke="#ebebeb" stroke-width="4.4" fill="none"/>
<text x="194.5" y="2258.9" font-size="29" fill="#000" stroke="#000">r=0.35</text>
<path d="M393.9,2227.5V2554" stroke="#000" stroke-width="4.5" stroke-dasharray="4.2 4.6"/>
<path d="M202,2415.2L204,2412.5L206,2409.8L208,2407.2L210.1,2404.5L212.1,2401.9L214.1,2399.5L216.1,2397.6L218.1,2396L220.1,2394.9L222.1,2394L224.1,2393.6L226.1,2393.6L228.1,2393.9L230.1,2394.8L232.1,2396L234.1,2397.6L236.1,2399.8L238.1,2402.6L240.1,2405.9L242.1,2409.5L244.1,2413L246.1,2416.3L248.1,2419.3L250.1,2421.8L252.1,2423.8L254.1,2425.2L256.1,2426.2L258.1,2426.8L260.1,2427L262.1,2427L264.1,2426.7L266.1,2426.1L268.1,2425.3L270.1,2424.3L272.1,2423.3L274.1,2422.2L276.1,2421L278.1,2419.6L280.1,2418.3L282.1,2416.9L284.1,2415.6L286.1,2414.3L288.1,2413.1L290.1,2412L292.1,2411L294.2,2410L296.2,2409.1L298.2,2408.3L300.2,2407.5L302.2,2406.8L304.2,2406.1L306.2,2405.5L308.2,2405L310.2,2404.6L312.2,2404.3L314.2,2404.2L316.2,2404.1L318.2,2404.2L320.2,2404.5L322.2,2404.8L324.2,2405.3L326.2,2406L328.2,2406.9L330.2,2407.9L332.2,2409L334.2,2410.3L336.2,2411.8L338.2,2413.4L340.2,2415L342.2,2416.6L344.2,2418.1L346.2,2419.5L348.2,2420.8L350.2,2422.1L352.2,2423.2L354.2,2424.1L356.2,2425L358.2,2425.7L360.2,2426.3L362.2,2426.8L364.2,2427.2L366.2,2427.7L368.2,2428L370.2,2428.2L372.2,2428.2L374.2,2427.8L376.2,2427L378.3,2425.7L380.3,2424L382.3,2422L384.3,2419.8L386.3,2417.3L388.3,2414.8L390.3,2412.3L392.3,2410L394.3,2407.7L396.3,2405.5L398.3,2403.3L400.3,2401.3L402.3,2399.3L404.3,2397.4L406.3,2395.6L408.3,2393.9L410.3,2392.2L412.3,2390.6L414.3,2389.1L416.3,2387.7L418.3,2386.4L420.3,2385.4L422.3,2384.6L424.3,2384.1L426.3,2383.7L428.3,2383.4L430.3,2383.1L432.3,2382.9L434.3,2382.5L436.3,2382.3L438.3,2382.1L440.3,2382.2L442.3,2382.5L444.3,2383.3L446.3,2384.6L448.3,2386.3L450.3,2388.6L452.3,2391.2L454.3,2394.1L456.3,2397.1L458.3,2400L460.4,2402.6L462.4,2405.1L464.4,2407.3L466.4,2409.3L468.4,2411L470.4,2412.3L472.4,2413.4L474.4,2414.2L476.4,2414.7L478.4,2415L480.4,2415.1L482.4,2414.9L484.4,2414.5L486.4,2413.9L488.4,2413.1L490.4,2412.1L492.4,2410.9L494.4,2409.5L496.4,2407.9L498.4,2406L500.4,2403.8L502.4,2401.3L504.4,2398.7L506.4,2396L508.4,2393.2L508.4,2419.2L506.4,2420.4L504.4,2421.6L502.4,2422.8L500.4,2424L498.4,2425.3L496.4,2426.5L494.4,2427.8L492.4,2429L490.4,2430.1L488.4,2431.1L486.4,2431.9L484.4,2432.5L482.4,2432.9L480.4,2433.1L478.4,2433L476.4,2432.8L474.4,2432.2L472.4,2431.4L470.4,2430.3L468.4,2429L466.4,2427.3L464.4,2425.3L462.4,2423.1L460.4,2420.6L458.3,2418L456.3,2415.2L454.3,2412.2L452.3,2409.2L450.3,2406.6L448.3,2404.4L446.3,2402.6L444.3,2401.3L442.3,2400.6L440.3,2400.2L438.3,2400.2L436.3,2400.3L434.3,2400.6L432.3,2400.9L430.3,2401.2L428.3,2401.4L426.3,2401.7L424.3,2402.1L422.3,2402.7L420.3,2403.4L418.3,2404.5L416.3,2405.7L414.3,2407.1L412.3,2408.6L410.3,2410.3L408.3,2411.9L406.3,2413.6L404.3,2415.4L402.3,2417.3L400.3,2419.3L398.3,2421.4L396.3,2423.5L394.3,2425.7L392.3,2428L390.3,2430.4L388.3,2432.8L386.3,2435.3L384.3,2437.8L382.3,2440.1L380.3,2442.1L378.3,2443.7L376.2,2445L374.2,2445.9L372.2,2446.2L370.2,2446.3L368.2,2446L366.2,2445.7L364.2,2445.3L362.2,2444.8L360.2,2444.3L358.2,2443.7L356.2,2443L354.2,2442.1L352.2,2441.2L350.2,2440.1L348.2,2438.9L346.2,2437.6L344.2,2436.1L342.2,2434.6L340.2,2433L338.2,2431.4L336.2,2429.8L334.2,2428.4L332.2,2427.1L330.2,2425.9L328.2,2424.9L326.2,2424L324.2,2423.4L322.2,2422.9L320.2,2422.5L318.2,2422.3L316.2,2422.2L314.2,2422.2L312.2,2422.3L310.2,2422.6L308.2,2423.1L306.2,2423.6L304.2,2424.2L302.2,2424.8L300.2,2425.5L298.2,2426.3L296.2,2427.1L294.2,2428L292.1,2429L290.1,2430L288.1,2431.1L286.1,2432.3L284.1,2433.6L282.1,2434.9L280.1,2436.3L278.1,2437.7L276.1,2439L274.1,2440.2L272.1,2441.3L270.1,2442.3L268.1,2443.3L266.1,2444.1L264.1,2444.7L262.1,2445L260.1,2445.1L258.1,2444.8L256.1,2444.2L254.1,2443.2L252.1,2441.8L250.1,2439.8L248.1,2437.3L246.1,2434.3L244.1,2431L242.1,2427.5L240.1,2423.9L238.1,2420.6L236.1,2417.8L234.1,2415.6L232.1,2414L230.1,2412.8L228.1,2412L226.1,2411.6L224.1,2411.6L222.1,2412L220.1,2412.8L218.1,2414L216.1,2415.6L214.1,2417.8L212.1,2420.5L210.1,2423.9L208,2428L206,2433.1L204,2439L202,2445.3Z" fill="#b3b3b3" fill-opacity="0.85"/>
<path d="M202,2430.2L204,2425.8L206,2421.5L208,2417.6L210.1,2414.2L212.1,2411.2L214.1,2408.6L216.1,2406.6L218.1,2405L220.1,2403.8L222.1,2403L224.1,2402.6L226.1,2402.6L228.1,2403L230.1,2403.8L232.1,2405L234.1,2406.6L236.1,2408.8L238.1,2411.6L240.1,2414.9L242.1,2418.5L244.1,2422L246.1,2425.3L248.1,2428.3L250.1,2430.8L252.1,2432.8L254.1,2434.2L256.1,2435.2L258.1,2435.8L260.1,2436.1L262.1,2436L264.1,2435.7L266.1,2435.1L268.1,2434.3L270.1,2433.3L272.1,2432.3L274.1,2431.2L276.1,2430L278.1,2428.7L280.1,2427.3L282.1,2425.9L284.1,2424.6L286.1,2423.3L288.1,2422.1L290.1,2421L292.1,2420L294.2,2419L296.2,2418.1L298.2,2417.3L300.2,2416.5L302.2,2415.8L304.2,2415.1L306.2,2414.6L308.2,2414L310.2,2413.6L312.2,2413.3L314.2,2413.2L316.2,2413.1L318.2,2413.2L320.2,2413.5L322.2,2413.8L324.2,2414.4L326.2,2415L328.2,2415.9L330.2,2416.9L332.2,2418L334.2,2419.4L336.2,2420.8L338.2,2422.4L340.2,2424L342.2,2425.6L344.2,2427.1L346.2,2428.5L348.2,2429.9L350.2,2431.1L352.2,2432.2L354.2,2433.1L356.2,2434L358.2,2434.7L360.2,2435.3L362.2,2435.8L364.2,2436.2L366.2,2436.7L368.2,2437L370.2,2437.3L372.2,2437.2L374.2,2436.9L376.2,2436L378.3,2434.7L380.3,2433L382.3,2431L384.3,2428.8L386.3,2426.3L388.3,2423.8L390.3,2421.3L392.3,2419L394.3,2416.7L396.3,2414.5L398.3,2412.3L400.3,2410.3L402.3,2408.3L404.3,2406.4L406.3,2404.6L408.3,2402.9L410.3,2401.2L412.3,2399.6L414.3,2398.1L416.3,2396.7L418.3,2395.4L420.3,2394.4L422.3,2393.7L424.3,2393.1L426.3,2392.7L428.3,2392.4L430.3,2392.2L432.3,2391.9L434.3,2391.6L436.3,2391.3L438.3,2391.1L440.3,2391.2L442.3,2391.5L444.3,2392.3L446.3,2393.6L448.3,2395.3L450.3,2397.6L452.3,2400.2L454.3,2403.1L456.3,2406.1L458.3,2409L460.4,2411.6L462.4,2414.1L464.4,2416.3L466.4,2418.3L468.4,2420L470.4,2421.3L472.4,2422.4L474.4,2423.2L476.4,2423.7L478.4,2424L480.4,2424.1L482.4,2423.9L484.4,2423.5L486.4,2422.9L488.4,2422.1L490.4,2421.2L492.4,2420.1L494.4,2418.9L496.4,2417.6L498.4,2416.1L500.4,2414.5L502.4,2412.8L504.4,2411L506.4,2409.1L508.4,2407.2" stroke="#000" stroke-width="5" fill="none" stroke-linecap="butt" stroke-linejoin="round"/>
<path d="M204,2519.4H208.4V2508.9H212.7V2500.4H217V2489.3H221.4V2482.5H225.7V2481.4H230V2482.3H234.4V2490.8H238.7V2497.1H243V2502.3H247.3V2506.6H251.7V2510.5H256V2513.3H260.3V2514.9H264.7V2515.3H269V2515.3H273.3V2515.3H277.7V2515.9H282V2516H286.3V2515.3H290.6V2514.6H295V2514.1H299.3V2513.9H303.6V2514.3H308V2515H312.3V2515.7H316.6V2516.4H321V2516.8H325.3V2517.4H329.6V2517.6H333.9V2516.5H338.3V2513.8H342.6V2510.5H346.9V2505.9H351.3V2501.3H355.6V2498.6H359.9V2497H364.3V2496.9H368.6V2498.5H372.9V2500.7H377.2V2503.1H381.6V2506.3H385.9V2510H390.2V2514.3H394.6V2517.4H398.9V2518.5H403.2V2519.4H407.6V2518.7H411.9V2515.2H416.2V2507.5H420.5V2500.3H424.9V2494.8H429.2V2492.3H433.5V2492.6H437.9V2494.3H442.2V2499.9H446.5V2501.9H450.9V2502.3H455.2V2501.6H459.5V2500.5H463.8V2500.3H468.2V2501.3H472.5V2504.5H476.8V2508.2H481.2V2511.4H485.5V2513.9H489.8V2515.2H494.2V2513.5H498.5V2511.3H502.8V2510.3H507.1V2510.3H508.4V2510.3" stroke="#CF121B" stroke-width="4.3" fill="none" stroke-linejoin="miter"/>
</g></svg>
<rect x="169" y="2227.5" width="340.5" height="326.5" fill="none" stroke="#333" stroke-width="2"/>
<text x="339.2" y="2205.8" text-anchor="middle" font-size="21" fill="#1a1a1a" stroke="#1a1a1a">Rio de Janeiro</text>
<text x="147" y="2546.1" text-anchor="end" font-size="21" fill="#4d4d4d" stroke="#4d4d4d">0</text>
<text x="147" y="2472.8" text-anchor="end" font-size="21" fill="#4d4d4d" stroke="#4d4d4d">10</text>
<text x="147" y="2399.5" text-anchor="end" font-size="21" fill="#4d4d4d" stroke="#4d4d4d">20</text>
<text x="147" y="2326.2" text-anchor="end" font-size="21" fill="#4d4d4d" stroke="#4d4d4d">30</text>
<text x="147" y="2252.9" text-anchor="end" font-size="21" fill="#4d4d4d" stroke="#4d4d4d">40</text>
<path d="M156.5,2538.6H169M156.5,2465.3H169M156.5,2392H169M156.5,2318.7H169M156.5,2245.4H169" stroke="#333" stroke-width="4.4"/>
<path d="M212.3,2554V2566.5M268.5,2554V2566.5M325.4,2554V2566.5M382.2,2554V2566.5M437.9,2554V2566.5M494.1,2554V2566.5" stroke="#333" stroke-width="4.4"/>
<text transform="translate(225,2585.3) rotate(-45)" text-anchor="end" font-size="21" fill="#4d4d4d" stroke="#4d4d4d">Apr 20</text>
<text transform="translate(281.2,2585.3) rotate(-45)" text-anchor="end" font-size="21" fill="#4d4d4d" stroke="#4d4d4d">Jul 20</text>
<text transform="translate(338.1,2585.3) rotate(-45)" text-anchor="end" font-size="21" fill="#4d4d4d" stroke="#4d4d4d">Oct 20</text>
<text transform="translate(394.9,2585.3) rotate(-45)" text-anchor="end" font-size="21" fill="#4d4d4d" stroke="#4d4d4d">Jan 21</text>
<text transform="translate(450.6,2585.3) rotate(-45)" text-anchor="end" font-size="21" fill="#4d4d4d" stroke="#4d4d4d">Apr 21</text>
<text transform="translate(506.8,2585.3) rotate(-45)" text-anchor="end" font-size="21" fill="#4d4d4d" stroke="#4d4d4d">Jul 21</text>
</g>
<g>
<rect x="534.8" y="2227.5" width="340.5" height="326.5" fill="#fff"/>
<svg x="534.8" y="2227.5" width="340.5" height="326.5" overflow="hidden"><g transform="translate(-534.8,-2227.5)">
<path d="M534.8,2501.9H875.2M534.8,2428.7H875.2M534.8,2355.3H875.2M534.8,2282H875.2M549.9,2227.5V2554M606.2,2227.5V2554M662.7,2227.5V2554M719.6,2227.5V2554M775.8,2227.5V2554M831.7,2227.5V2554" stroke="#ebebeb" stroke-width="2.2" fill="none"/>
<path d="M534.8,2538.6H875.2M534.8,2465.3H875.2M534.8,2392H875.2M534.8,2318.7H875.2M534.8,2245.4H875.2M578,2227.5V2554M634.3,2227.5V2554M691.1,2227.5V2554M748,2227.5V2554M803.6,2227.5V2554M859.9,2227.5V2554" stroke="#ebebeb" stroke-width="4.4" fill="none"/>
<text x="569.1" y="2258.9" font-size="29" fill="#000" stroke="#000">r=0.4</text>
<path d="M746.7,2227.5V2554" stroke="#000" stroke-width="4.5" stroke-dasharray="4.2 4.6"/>
<path d="M569,2515.3L571,2491.8L573,2471L575,2454.9L577.1,2443.4L579.1,2435.3L581.1,2429L583.1,2423.8L585.1,2419.3L587.1,2415.4L589.1,2411.9L591.1,2409L593.1,2406.5L595.1,2404.3L597.1,2402.4L599.1,2400.7L601.1,2399.5L603.1,2398.9L605.1,2399.2L607.1,2400.3L609.1,2402.1L611.1,2404.1L613.1,2406.3L615.1,2408.6L617.1,2411L619.1,2413.5L621.1,2416L623.1,2418.6L625.1,2421.4L627.1,2424.1L629.1,2427L631.1,2429.8L633.1,2432.7L635.1,2435.6L637.1,2438.5L639.1,2441.3L641.1,2443.8L643.1,2446.1L645.1,2448.1L647.1,2449.8L649.1,2451.3L651.1,2452.6L653.1,2453.6L655.1,2454.4L657.1,2454.9L659.2,2455.2L661.2,2455.1L663.2,2454.6L665.2,2453.7L667.2,2452.6L669.2,2451.3L671.2,2450L673.2,2448.9L675.2,2447.9L677.2,2447.1L679.2,2446.3L681.2,2445.6L683.2,2445L685.2,2444.4L687.2,2443.9L689.2,2443.6L691.2,2443.5L693.2,2443.7L695.2,2444.2L697.2,2444.9L699.2,2445.8L701.2,2446.8L703.2,2447.9L705.2,2449L707.2,2450.3L709.2,2451.5L711.2,2452.6L713.2,2453.7L715.2,2454.6L717.2,2455.5L719.2,2456.2L721.2,2456.9L723.2,2457.5L725.2,2458L727.2,2458.5L729.2,2458.8L731.2,2459.2L733.2,2459.5L735.2,2459.7L737.2,2459.9L739.2,2459.8L741.2,2459.1L743.3,2457.5L745.3,2455.1L747.3,2452.1L749.3,2449.1L751.3,2446.4L753.3,2444.1L755.3,2442L757.3,2440L759.3,2438.2L761.3,2436.5L763.3,2434.8L765.3,2433.2L767.3,2431.7L769.3,2430L771.3,2428.2L773.3,2426.4L775.3,2424.4L777.3,2422.4L779.3,2420.2L781.3,2418L783.3,2415.6L785.3,2413.2L787.3,2410.8L789.3,2408.5L791.3,2406.3L793.3,2404.2L795.3,2402.2L797.3,2400.2L799.3,2398.1L801.3,2395.9L803.3,2393.6L805.3,2391.2L807.3,2388.9L809.3,2387.1L811.3,2386.2L813.3,2386.3L815.3,2387.7L817.3,2390.1L819.3,2393.2L821.3,2396.8L823.3,2400.8L825.3,2405.2L827.4,2409.8L829.4,2414.7L831.4,2419.7L833.4,2424.6L835.4,2429.3L837.4,2433.7L839.4,2437.7L841.4,2441.1L843.4,2443.8L845.4,2445.6L847.4,2446.6L849.4,2446.8L851.4,2446.1L853.4,2444.6L855.4,2442L857.4,2438.2L859.4,2433.3L861.4,2427.3L863.4,2420.3L865.4,2412.5L867.4,2403.9L869.4,2394.8L871.4,2385.5L873.4,2375.9L874.4,2371.2L874.4,2399.2L873.4,2403.5L871.4,2412.2L869.4,2420.7L867.4,2429L865.4,2437L863.4,2444.4L861.4,2451.2L859.4,2457.2L857.4,2462.2L855.4,2466L853.4,2468.7L851.4,2470.2L849.4,2470.8L847.4,2470.5L845.4,2469.6L843.4,2467.9L841.4,2465.5L839.4,2462.5L837.4,2459L835.4,2455.1L833.4,2450.7L831.4,2445.9L829.4,2440.9L827.4,2435.8L825.3,2430.8L823.3,2426L821.3,2421.5L819.3,2417.6L817.3,2414.7L815.3,2412.7L813.3,2411.8L811.3,2411.7L809.3,2412.3L807.3,2413.4L805.3,2414.8L803.3,2416.5L801.3,2418.4L799.3,2420.7L797.3,2423.2L795.3,2426L793.3,2428.9L791.3,2431.7L789.3,2434.5L787.3,2437.1L785.3,2439.5L783.3,2441.9L781.3,2444.1L779.3,2446L777.3,2447.8L775.3,2449.5L773.3,2451L771.3,2452.5L769.3,2454L767.3,2455.5L765.3,2457L763.3,2458.6L761.3,2460.5L759.3,2462.7L757.3,2465.2L755.3,2468L753.3,2470.9L751.3,2473.9L749.3,2477.1L747.3,2480.3L745.3,2483.3L743.3,2485.6L741.2,2487.1L739.2,2487.8L737.2,2488L735.2,2487.8L733.2,2487.5L731.2,2487.3L729.2,2487L727.2,2486.7L725.2,2486.2L723.2,2485.5L721.2,2484.4L719.2,2483L717.2,2481.4L715.2,2479.7L713.2,2478.2L711.2,2477L709.2,2476L707.2,2475.2L705.2,2474.4L703.2,2473.6L701.2,2472.7L699.2,2471.6L697.2,2470.6L695.2,2469.6L693.2,2468.8L691.2,2468.4L689.2,2468.3L687.2,2468.4L685.2,2468.7L683.2,2469.1L681.2,2469.6L679.2,2470.2L677.2,2471L675.2,2471.9L673.2,2472.9L671.2,2474.3L669.2,2475.9L667.2,2477.7L665.2,2479.2L663.2,2480.4L661.2,2480.9L659.2,2480.7L657.1,2480L655.1,2479.1L653.1,2477.9L651.1,2476.6L649.1,2475.2L647.1,2473.7L645.1,2472L643.1,2470.1L641.1,2468.1L639.1,2466L637.1,2463.7L635.1,2461.2L633.1,2458.5L631.1,2455.6L629.1,2452.5L627.1,2449.3L625.1,2446L623.1,2442.9L621.1,2440.1L619.1,2437.4L617.1,2435L615.1,2432.6L613.1,2430.3L611.1,2428L609.1,2425.8L607.1,2423.8L605.1,2422.4L603.1,2421.8L601.1,2422.1L599.1,2423.1L597.1,2424.5L595.1,2426.3L593.1,2428.4L591.1,2430.9L589.1,2434L587.1,2437.6L585.1,2441.9L583.1,2447L581.1,2453.2L579.1,2460.8L577.1,2469.9L575,2479.5L573,2488.8L571,2497.3L569,2505.3Z" fill="#b3b3b3" fill-opacity="0.85"/>
<path d="M569,2502.3L571,2488.2L573,2475.1L575,2463.9L577.1,2454.8L579.1,2447.3L581.1,2441.1L583.1,2435.9L585.1,2431.4L587.1,2427.4L589.1,2423.8L591.1,2420.6L593.1,2417.9L595.1,2415.5L597.1,2413.6L599.1,2412.1L601.1,2411.1L603.1,2410.8L605.1,2411.2L607.1,2412.4L609.1,2414.1L611.1,2416.2L613.1,2418.4L615.1,2420.6L617.1,2423L619.1,2425.4L621.1,2428L623.1,2430.8L625.1,2433.7L627.1,2436.7L629.1,2439.7L631.1,2442.7L633.1,2445.6L635.1,2448.4L637.1,2451L639.1,2453.6L641.1,2456L643.1,2458.3L645.1,2460.4L647.1,2462.3L649.1,2464L651.1,2465.4L653.1,2466.5L655.1,2467.2L657.1,2467.5L659.2,2467.6L661.2,2467.2L663.2,2466.5L665.2,2465.4L667.2,2464L669.2,2462.5L671.2,2461.1L673.2,2459.9L675.2,2458.8L677.2,2458L679.2,2457.2L681.2,2456.6L683.2,2456.2L685.2,2456L687.2,2455.9L689.2,2456L691.2,2456.2L693.2,2456.7L695.2,2457.2L697.2,2458L699.2,2458.9L701.2,2459.8L703.2,2460.9L705.2,2462L707.2,2463.2L709.2,2464.5L711.2,2465.7L713.2,2466.8L715.2,2467.9L717.2,2469L719.2,2469.9L721.2,2470.8L723.2,2471.5L725.2,2472.1L727.2,2472.5L729.2,2472.9L731.2,2473.2L733.2,2473.5L735.2,2473.8L737.2,2473.9L739.2,2473.8L741.2,2473.1L743.3,2471.6L745.3,2469.2L747.3,2466.2L749.3,2463.1L751.3,2460.2L753.3,2457.5L755.3,2455L757.3,2452.6L759.3,2450.5L761.3,2448.5L763.3,2446.7L765.3,2445.1L767.3,2443.5L769.3,2442L771.3,2440.5L773.3,2439L775.3,2437.4L777.3,2435.8L779.3,2434L781.3,2432L783.3,2429.8L785.3,2427.5L787.3,2425L789.3,2422.5L791.3,2419.9L793.3,2417.2L795.3,2414.5L797.3,2411.9L799.3,2409.5L801.3,2407.3L803.3,2405.3L805.3,2403.4L807.3,2401.8L809.3,2400.5L811.3,2399.8L813.3,2399.8L815.3,2400.7L817.3,2402.6L819.3,2405.3L821.3,2408.7L823.3,2412.7L825.3,2417.1L827.4,2421.8L829.4,2426.7L831.4,2431.7L833.4,2436.7L835.4,2441.3L837.4,2445.7L839.4,2449.7L841.4,2453.2L843.4,2456L845.4,2458.1L847.4,2459.3L849.4,2459.6L851.4,2458.9L853.4,2457.1L855.4,2454.3L857.4,2450.3L859.4,2445.2L861.4,2439.2L863.4,2432.4L865.4,2424.7L867.4,2416.5L869.4,2407.8L871.4,2398.8L873.4,2389.7L874.4,2385.2" stroke="#000" stroke-width="5" fill="none" stroke-linecap="butt" stroke-linejoin="round"/>
<path d="M569,2527.4H573.4V2527.3H577.7V2526.7H582V2524.7H586.4V2521.1H590.7V2515.5H595V2509.7H599.4V2502.8H603.7V2494.1H608V2486.4H612.3V2482.5H616.7V2480.7H621V2481H625.3V2483.5H629.7V2486.1H634V2487.8H638.3V2489.4H642.7V2491.6H647V2494.5H651.3V2496.9H655.6V2498.2H660V2500.2H664.3V2506.2H668.6V2512.6H673V2514.1H677.3V2513.8H681.6V2513.1H686V2512.4H690.3V2512.3H694.6V2512.7H698.9V2513.5H703.3V2514.2H707.6V2514.3H711.9V2510H716.3V2503.3H720.6V2499H724.9V2496.5H729.3V2495.3H733.6V2496.2H737.9V2497.1H742.2V2497.9H746.6V2498.3H750.9V2498.3H755.2V2499.1H759.6V2498.5H763.9V2493.1H768.2V2484.4H772.6V2474.7H776.9V2465.6H781.2V2459.4H785.5V2460H789.9V2467.9H794.2V2471.5H798.5V2478H802.9V2485.6H807.2V2487.5H811.5V2488H815.9V2485.8H820.2V2481.5H824.5V2477.7H828.8V2475.6H833.2V2474.8H837.5V2477.4H841.8V2482.1H846.2V2489.3H850.5V2496.5H854.8V2502.7H859.2V2509H863.5V2514.4H867.8V2518H872.1V2520.6H874.4V2521.4" stroke="#A63A30" stroke-width="4.3" fill="none" stroke-linejoin="miter"/>
</g></svg>
<rect x="534.8" y="2227.5" width="340.5" height="326.5" fill="none" stroke="#333" stroke-width="2"/>
<text x="705" y="2205.8" text-anchor="middle" font-size="21" fill="#1a1a1a" stroke="#1a1a1a">Salvador</text>
<path d="M578,2554V2566.5M634.3,2554V2566.5M691.1,2554V2566.5M748,2554V2566.5M803.6,2554V2566.5M859.9,2554V2566.5" stroke="#333" stroke-width="4.4"/>
<text transform="translate(590.8,2585.3) rotate(-45)" text-anchor="end" font-size="21" fill="#4d4d4d" stroke="#4d4d4d">Apr 20</text>
<text transform="translate(647,2585.3) rotate(-45)" text-anchor="end" font-size="21" fill="#4d4d4d" stroke="#4d4d4d">Jul 20</text>
<text transform="translate(703.8,2585.3) rotate(-45)" text-anchor="end" font-size="21" fill="#4d4d4d" stroke="#4d4d4d">Oct 20</text>
<text transform="translate(760.7,2585.3) rotate(-45)" text-anchor="end" font-size="21" fill="#4d4d4d" stroke="#4d4d4d">Jan 21</text>
<text transform="translate(816.3,2585.3) rotate(-45)" text-anchor="end" font-size="21" fill="#4d4d4d" stroke="#4d4d4d">Apr 21</text>
<text transform="translate(872.6,2585.3) rotate(-45)" text-anchor="end" font-size="21" fill="#4d4d4d" stroke="#4d4d4d">Jul 21</text>
</g>
<g>
<rect x="900.5" y="2227.5" width="340.5" height="326.5" fill="#fff"/>
<svg x="900.5" y="2227.5" width="340.5" height="326.5" overflow="hidden"><g transform="translate(-900.5,-2227.5)">
<path d="M900.5,2501.9H1241M900.5,2428.7H1241M900.5,2355.3H1241M900.5,2282H1241M915.7,2227.5V2554M971.9,2227.5V2554M1028.5,2227.5V2554M1085.3,2227.5V2554M1141.6,2227.5V2554M1197.5,2227.5V2554" stroke="#ebebeb" stroke-width="2.2" fill="none"/>
<path d="M900.5,2538.6H1241M900.5,2465.3H1241M900.5,2392H1241M900.5,2318.7H1241M900.5,2245.4H1241M943.8,2227.5V2554M1000,2227.5V2554M1056.9,2227.5V2554M1113.8,2227.5V2554M1169.4,2227.5V2554M1225.6,2227.5V2554" stroke="#ebebeb" stroke-width="4.4" fill="none"/>
<text x="926.1" y="2258.9" font-size="29" fill="#000" stroke="#000">r=0.45</text>
<path d="M1125.3,2227.5V2554" stroke="#000" stroke-width="4.5" stroke-dasharray="4.2 4.6"/>
<path d="M943.1,2431.2L945.1,2427.2L947.1,2423.2L949.1,2419.6L951.1,2416.4L953.1,2413.8L955.1,2411.7L957.1,2410.3L959.1,2409.7L961.1,2409.8L963.1,2410.6L965.1,2411.9L967.1,2413.5L969.1,2415.4L971.1,2417.4L973.1,2419.5L975.1,2421.3L977.1,2422.6L979.1,2423.2L981.1,2423.2L983.1,2422.8L985.1,2422.2L987.1,2421.6L989.1,2420.9L991.1,2420.1L993.1,2419.2L995.1,2418.1L997.1,2416.6L999.1,2414.5L1001.1,2411.6L1003.1,2408.2L1005.1,2404.8L1007.1,2401.8L1009.1,2399.6L1011.1,2398.3L1013.1,2398.1L1015.1,2399L1017.1,2400.9L1019.1,2403.8L1021.1,2407.5L1023.1,2411.8L1025.2,2416.5L1027.2,2421.4L1029.2,2426.6L1031.2,2431.9L1033.2,2437.1L1035.2,2442.2L1037.2,2446.9L1039.2,2451.2L1041.2,2455.1L1043.2,2458.7L1045.2,2462L1047.2,2465L1049.2,2467.7L1051.2,2470L1053.2,2471.7L1055.2,2472.8L1057.2,2473.3L1059.2,2473.1L1061.2,2472.3L1063.2,2470.8L1065.2,2468.7L1067.2,2466.2L1069.2,2463.4L1071.2,2460.3L1073.2,2457.3L1075.2,2454.2L1077.2,2451L1079.2,2447.8L1081.2,2444.6L1083.2,2441.2L1085.2,2437.8L1087.2,2434.4L1089.2,2430.8L1091.2,2427L1093.2,2422.9L1095.2,2418.5L1097.2,2413.6L1099.2,2408.4L1101.2,2402.9L1103.2,2397.1L1105.2,2391L1107.2,2385.2L1109.3,2379.7L1111.3,2374.8L1113.3,2370.6L1115.3,2366.8L1117.3,2363.6L1119.3,2360.9L1121.3,2358.7L1123.3,2356.8L1125.3,2355.3L1127.3,2354.1L1129.3,2353.6L1131.3,2354.3L1133.3,2356.1L1135.3,2358.8L1137.3,2361.9L1139.3,2364.9L1141.3,2367.7L1143.3,2370.3L1145.3,2372.8L1147.3,2375L1149.3,2377.2L1151.3,2379.2L1153.3,2381.2L1155.3,2383.2L1157.3,2385.4L1159.3,2387.7L1161.3,2390.2L1163.3,2392.7L1165.3,2395.1L1167.3,2397.3L1169.3,2399.4L1171.3,2401.4L1173.3,2403.3L1175.3,2405L1177.3,2406.6L1179.3,2408.1L1181.3,2409.7L1183.3,2411.5L1185.3,2413.7L1187.3,2416.1L1189.3,2418.5L1191.4,2420.8L1193.4,2422.8L1195.4,2424.2L1197.4,2424.9L1199.4,2424.7L1201.4,2423.7L1203.4,2422L1205.4,2419.7L1207.4,2416.6L1209.4,2412.7L1211.4,2408.1L1213.4,2402.7L1215.4,2396.6L1217.4,2389.9L1219.4,2382.6L1221.4,2374.9L1223.4,2367L1225.4,2359.1L1227.4,2351.4L1229.4,2344.7L1231.4,2339.4L1233.4,2335.1L1233.4,2439.3L1231.4,2443.2L1229.4,2447.2L1227.4,2451.2L1225.4,2455.3L1223.4,2459.5L1221.4,2463.8L1219.4,2468.3L1217.4,2472.8L1215.4,2477.2L1213.4,2481.6L1211.4,2485.7L1209.4,2489.5L1207.4,2492.8L1205.4,2495.6L1203.4,2497.8L1201.4,2499.6L1199.4,2501.2L1197.4,2502.3L1195.4,2502.9L1193.4,2502.8L1191.4,2501.9L1189.3,2500.6L1187.3,2499L1185.3,2497.1L1183.3,2495.1L1181.3,2492.8L1179.3,2490.3L1177.3,2487.9L1175.3,2485.7L1173.3,2483.9L1171.3,2482.4L1169.3,2480.9L1167.3,2479L1165.3,2476.4L1163.3,2472.8L1161.3,2468.5L1159.3,2464L1157.3,2459.9L1155.3,2456.5L1153.3,2453.5L1151.3,2450.7L1149.3,2447.9L1147.3,2444.9L1145.3,2441.6L1143.3,2438.2L1141.3,2434.7L1139.3,2431.6L1137.3,2428.8L1135.3,2426.6L1133.3,2425L1131.3,2424.4L1129.3,2425L1127.3,2426.8L1125.3,2429.4L1123.3,2432.5L1121.3,2435.9L1119.3,2439.6L1117.3,2443.4L1115.3,2447.6L1113.3,2452L1111.3,2456.6L1109.3,2461.5L1107.2,2466.8L1105.2,2472.2L1103.2,2477.7L1101.2,2483.2L1099.2,2488.5L1097.2,2493.7L1095.2,2498.5L1093.2,2503L1091.2,2507L1089.2,2510.8L1087.2,2514.4L1085.2,2517.9L1083.2,2521.5L1081.2,2525.1L1079.2,2528.8L1077.2,2532.4L1075.2,2535.9L1073.2,2539.1L1071.2,2542L1069.2,2544.7L1067.2,2547.1L1065.2,2549.3L1063.2,2551.2L1061.2,2552.8L1059.2,2554L1057.2,2554.8L1055.2,2554.9L1053.2,2554.4L1051.2,2553.2L1049.2,2551.4L1047.2,2549L1045.2,2546.1L1043.2,2542.8L1041.2,2539.2L1039.2,2535.3L1037.2,2531.1L1035.2,2526.6L1033.2,2521.9L1031.2,2517.1L1029.2,2512.2L1027.2,2507.6L1025.2,2503.3L1023.1,2499.2L1021.1,2495.2L1019.1,2491.1L1017.1,2487L1015.1,2483.3L1013.1,2480.6L1011.1,2479.2L1009.1,2479L1007.1,2479.6L1005.1,2480.7L1003.1,2482.1L1001.1,2483.7L999.1,2485.5L997.1,2487.4L995.1,2489.3L993.1,2490.9L991.1,2492L989.1,2492.6L987.1,2493L985.1,2493.1L983.1,2492.9L981.1,2492.5L979.1,2491.9L977.1,2491.4L975.1,2490.9L973.1,2490.4L971.1,2489.8L969.1,2489.1L967.1,2488.2L965.1,2487.2L963.1,2486.3L961.1,2485.8L959.1,2485.8L957.1,2486.4L955.1,2487.5L953.1,2489.1L951.1,2491.3L949.1,2494.4L947.1,2498.7L945.1,2503.8L943.1,2509.3Z" fill="#b3b3b3" fill-opacity="0.85"/>
<path d="M943.1,2472.3L945.1,2465.7L947.1,2459.6L949.1,2454.6L951.1,2450.9L953.1,2448.3L955.1,2446.5L957.1,2445.3L959.1,2444.8L961.1,2444.9L963.1,2445.7L965.1,2447L967.1,2448.6L969.1,2450.3L971.1,2452.1L973.1,2453.9L975.1,2455.6L977.1,2457L979.1,2458L981.1,2458.6L983.1,2459L985.1,2459.1L987.1,2458.9L989.1,2458.5L991.1,2457.9L993.1,2457.3L995.1,2456.5L997.1,2455.3L999.1,2453.6L1001.1,2451.1L1003.1,2448.3L1005.1,2445.4L1007.1,2442.8L1009.1,2441L1011.1,2440L1013.1,2440L1015.1,2441L1017.1,2443L1019.1,2445.9L1021.1,2449.6L1023.1,2453.9L1025.2,2458.6L1027.2,2463.3L1029.2,2468.1L1031.2,2472.9L1033.2,2477.8L1035.2,2482.6L1037.2,2487.3L1039.2,2492.1L1041.2,2496.7L1043.2,2501.2L1045.2,2505.2L1047.2,2508.6L1049.2,2511.1L1051.2,2512.8L1053.2,2513.7L1055.2,2514.1L1057.2,2514.1L1059.2,2513.5L1061.2,2512.5L1063.2,2510.9L1065.2,2508.8L1067.2,2506.2L1069.2,2503.4L1071.2,2500.4L1073.2,2497.3L1075.2,2494.3L1077.2,2491.2L1079.2,2488L1081.2,2484.6L1083.2,2481.1L1085.2,2477.4L1087.2,2473.6L1089.2,2469.6L1091.2,2465.4L1093.2,2461.3L1095.2,2457L1097.2,2452.6L1099.2,2447.9L1101.2,2442.7L1103.2,2437.1L1105.2,2431.1L1107.2,2425.3L1109.3,2420L1111.3,2415.5L1113.3,2411.8L1115.3,2408.4L1117.3,2405.2L1119.3,2402.1L1121.3,2399L1123.3,2396.1L1125.3,2393.3L1127.3,2390.8L1129.3,2389L1131.3,2388.4L1133.3,2389L1135.3,2390.6L1137.3,2392.8L1139.3,2395.4L1141.3,2398.2L1143.3,2401.2L1145.3,2404.2L1147.3,2407L1149.3,2409.6L1151.3,2412L1153.3,2414.4L1155.3,2416.9L1157.3,2419.5L1159.3,2422.3L1161.3,2425.3L1163.3,2428.2L1165.3,2430.9L1167.3,2433.3L1169.3,2435.4L1171.3,2437.3L1173.3,2439.3L1175.3,2441.4L1177.3,2443.7L1179.3,2446.1L1181.3,2448.7L1183.3,2451.4L1185.3,2454.3L1187.3,2457.2L1189.3,2460.1L1191.4,2462.6L1193.4,2464.4L1195.4,2465.2L1197.4,2465.1L1199.4,2464.2L1201.4,2462.8L1203.4,2461.2L1205.4,2459.3L1207.4,2457L1209.4,2454.2L1211.4,2451L1213.4,2447.1L1215.4,2442.4L1217.4,2436.9L1219.4,2430.6L1221.4,2424.1L1223.4,2417.8L1225.4,2412L1227.4,2406.3L1229.4,2400.5L1231.4,2394.1L1233.4,2387.2" stroke="#000" stroke-width="5" fill="none" stroke-linecap="butt" stroke-linejoin="round"/>
<path d="M922,2522.4H926.4V2523.4H930.7V2517.1H935V2511H939.3V2500.9H943.7V2481H948V2450H952.3V2411.8H956.7V2391.2H961V2391.2H965.3V2419.3H969.7V2448.5H974V2463.6H978.3V2475.4H982.6V2476H987V2482.1H991.3V2488H995.6V2498.2H1000V2506.2H1004.3V2522.6H1008.6V2523.4H1013V2523.2H1017.3V2522.1H1021.6V2520.7H1025.9V2520.8H1030.3V2521.3H1034.6V2522.2H1038.9V2522.9H1043.3V2523.4H1047.6V2523.5H1051.9V2524.4H1056.3V2524.6H1060.6V2525.4H1064.9V2523.1H1069.2V2517.3H1073.6V2515.2H1077.9V2513.8H1082.2V2518H1086.6V2521.4H1090.9V2521H1095.2V2518.7H1099.6V2516.6H1103.9V2515H1108.2V2509.5H1112.5V2498.6H1116.9V2488.3H1121.2V2482.9H1125.5V2480.7H1129.9V2471.7H1134.2V2460.2H1138.5V2444.5H1142.9V2430H1147.2V2412H1151.5V2405.5H1155.8V2401.3H1160.2V2404.8H1164.5V2410.5H1168.8V2433.3H1173.2V2443.1H1177.5V2446H1181.8V2447.4H1186.2V2448.3H1190.5V2446.6H1194.8V2436.6H1199.1V2429.8H1203.5V2428.6H1207.8V2430.1H1212.1V2434.8H1216.5V2444.8H1220.8V2463.3H1225.1V2472.3H1229.5V2481.7H1233.8V2487.8H1238.1V2493H1239.4V2494.3" stroke="#8C735C" stroke-width="4.3" fill="none" stroke-linejoin="miter"/>
</g></svg>
<rect x="900.5" y="2227.5" width="340.5" height="326.5" fill="none" stroke="#333" stroke-width="2"/>
<text x="1070.8" y="2205.8" text-anchor="middle" font-size="21" fill="#1a1a1a" stroke="#1a1a1a">São Luís</text>
<path d="M943.8,2554V2566.5M1000,2554V2566.5M1056.9,2554V2566.5M1113.8,2554V2566.5M1169.4,2554V2566.5M1225.6,2554V2566.5" stroke="#333" stroke-width="4.4"/>
<text transform="translate(956.5,2585.3) rotate(-45)" text-anchor="end" font-size="21" fill="#4d4d4d" stroke="#4d4d4d">Apr 20</text>
<text transform="translate(1012.7,2585.3) rotate(-45)" text-anchor="end" font-size="21" fill="#4d4d4d" stroke="#4d4d4d">Jul 20</text>
<text transform="translate(1069.6,2585.3) rotate(-45)" text-anchor="end" font-size="21" fill="#4d4d4d" stroke="#4d4d4d">Oct 20</text>
<text transform="translate(1126.5,2585.3) rotate(-45)" text-anchor="end" font-size="21" fill="#4d4d4d" stroke="#4d4d4d">Jan 21</text>
<text transform="translate(1182.1,2585.3) rotate(-45)" text-anchor="end" font-size="21" fill="#4d4d4d" stroke="#4d4d4d">Apr 21</text>
<text transform="translate(1238.3,2585.3) rotate(-45)" text-anchor="end" font-size="21" fill="#4d4d4d" stroke="#4d4d4d">Jul 21</text>
</g>
<g>
<rect x="1266.2" y="2227.5" width="340.5" height="326.5" fill="#fff"/>
<svg x="1266.2" y="2227.5" width="340.5" height="326.5" overflow="hidden"><g transform="translate(-1266.2,-2227.5)">
<path d="M1266.2,2501.9H1606.8M1266.2,2428.7H1606.8M1266.2,2355.3H1606.8M1266.2,2282H1606.8M1281.4,2227.5V2554M1337.7,2227.5V2554M1394.2,2227.5V2554M1451.1,2227.5V2554M1507.3,2227.5V2554M1563.2,2227.5V2554" stroke="#ebebeb" stroke-width="2.2" fill="none"/>
<path d="M1266.2,2538.6H1606.8M1266.2,2465.3H1606.8M1266.2,2392H1606.8M1266.2,2318.7H1606.8M1266.2,2245.4H1606.8M1309.5,2227.5V2554M1365.8,2227.5V2554M1422.6,2227.5V2554M1479.5,2227.5V2554M1535.1,2227.5V2554M1591.4,2227.5V2554" stroke="#ebebeb" stroke-width="4.4" fill="none"/>
<text x="1291.5" y="2258.9" font-size="29" fill="#000" stroke="#000">r=0.51</text>
<path d="M1499.7,2227.5V2554" stroke="#000" stroke-width="4.5" stroke-dasharray="4.2 4.6"/>
<path d="M1291,2421.2L1293,2428.7L1295,2436L1297,2442.8L1299,2448.9L1301,2454.2L1303,2458.4L1305,2461.5L1307.1,2463.9L1309.1,2465.7L1311.1,2467.1L1313.1,2468.3L1315.1,2469.2L1317.1,2470L1319.1,2470.6L1321.1,2471.2L1323.1,2471.7L1325.1,2472.1L1327.1,2472.5L1329.1,2472.9L1331.1,2473.4L1333.1,2474.1L1335.1,2474.9L1337.1,2475.8L1339.1,2476.5L1341.1,2477.2L1343.1,2477.7L1345.1,2478.1L1347.1,2478.4L1349.1,2478.7L1351.1,2479L1353.1,2479.3L1355.1,2479.7L1357.1,2480L1359.1,2480.4L1361.1,2480.7L1363.1,2481L1365.1,2481.3L1367.1,2481.5L1369.1,2481.7L1371.1,2481.9L1373.1,2482.1L1375.1,2482.2L1377.1,2482.3L1379.1,2482.3L1381.1,2482.3L1383.1,2482.3L1385.1,2482.3L1387.1,2482.3L1389.1,2482.3L1391.2,2482.4L1393.2,2482.5L1395.2,2482.6L1397.2,2482.8L1399.2,2483L1401.2,2483.4L1403.2,2483.9L1405.2,2484.5L1407.2,2485.2L1409.2,2485.9L1411.2,2486.6L1413.2,2487.3L1415.2,2488L1417.2,2488.7L1419.2,2489.4L1421.2,2490.1L1423.2,2490.7L1425.2,2491.3L1427.2,2491.9L1429.2,2492.4L1431.2,2492.8L1433.2,2493.1L1435.2,2493.2L1437.2,2493L1439.2,2492.5L1441.2,2491.7L1443.2,2490.7L1445.2,2489.6L1447.2,2488.5L1449.2,2487.3L1451.2,2486.2L1453.2,2485.2L1455.2,2484.1L1457.2,2483.1L1459.2,2482.2L1461.2,2481.5L1463.2,2480.9L1465.2,2480.5L1467.2,2480.2L1469.2,2479.9L1471.2,2479.6L1473.2,2479.2L1475.3,2478.7L1477.3,2478.2L1479.3,2477.5L1481.3,2476.8L1483.3,2476.1L1485.3,2475.2L1487.3,2474.3L1489.3,2473.3L1491.3,2472.1L1493.3,2470.7L1495.3,2469L1497.3,2467L1499.3,2464.8L1501.3,2462.3L1503.3,2459.8L1505.3,2457.3L1507.3,2454.8L1509.3,2452.3L1511.3,2449.9L1513.3,2447.6L1515.3,2445.4L1517.3,2443.4L1519.3,2441.7L1521.3,2440L1523.3,2438.6L1525.3,2437.5L1527.3,2436.6L1529.3,2435.9L1531.3,2435.6L1533.3,2435.4L1535.3,2435.4L1537.3,2435.5L1539.3,2435.8L1541.3,2436.2L1543.3,2436.7L1545.3,2437.4L1547.3,2438.2L1549.3,2439.1L1551.3,2440.1L1553.3,2441.1L1555.3,2442.2L1557.4,2443.2L1559.4,2444.2L1561.4,2445.2L1563.4,2446.2L1565.4,2447.2L1567.4,2448.2L1569.4,2449.3L1571.4,2450.5L1573.4,2451.8L1575.4,2453.1L1577.4,2454.4L1579.4,2455.9L1581.4,2457.4L1583.4,2458.9L1585.4,2460.6L1587.4,2462.3L1589.4,2464L1591.4,2465.6L1593.4,2467.2L1595.4,2468.7L1597.4,2470.1L1599.4,2471.4L1601.4,2472.7L1603.4,2474L1605.4,2475.3L1605.4,2521.4L1603.4,2518.6L1601.4,2515.9L1599.4,2513.2L1597.4,2510.6L1595.4,2507.9L1593.4,2505.4L1591.4,2502.9L1589.4,2500.4L1587.4,2498L1585.4,2495.7L1583.4,2493.5L1581.4,2491.5L1579.4,2489.5L1577.4,2487.8L1575.4,2486.1L1573.4,2484.5L1571.4,2482.9L1569.4,2481.2L1567.4,2479.6L1565.4,2477.8L1563.4,2476.1L1561.4,2474.4L1559.4,2472.9L1557.4,2471.4L1555.3,2470.1L1553.3,2469L1551.3,2467.9L1549.3,2467L1547.3,2466.1L1545.3,2465.4L1543.3,2464.7L1541.3,2464.1L1539.3,2463.7L1537.3,2463.5L1535.3,2463.4L1533.3,2463.7L1531.3,2464.2L1529.3,2465.1L1527.3,2466.1L1525.3,2467.3L1523.3,2468.7L1521.3,2470.1L1519.3,2471.7L1517.3,2473.5L1515.3,2475.6L1513.3,2478.1L1511.3,2480.8L1509.3,2483.7L1507.3,2486.5L1505.3,2489.1L1503.3,2491.5L1501.3,2493.7L1499.3,2495.7L1497.3,2497.5L1495.3,2499.2L1493.3,2500.7L1491.3,2502L1489.3,2503.2L1487.3,2504.3L1485.3,2505.3L1483.3,2506.1L1481.3,2506.9L1479.3,2507.6L1477.3,2508.2L1475.3,2508.8L1473.2,2509.2L1471.2,2509.6L1469.2,2509.9L1467.2,2510.1L1465.2,2510.4L1463.2,2510.9L1461.2,2511.6L1459.2,2512.6L1457.2,2513.8L1455.2,2515.1L1453.2,2516.6L1451.2,2518L1449.2,2519.3L1447.2,2520.5L1445.2,2521.7L1443.2,2522.9L1441.2,2523.8L1439.2,2524.6L1437.2,2525.1L1435.2,2525.3L1433.2,2525.2L1431.2,2524.9L1429.2,2524.4L1427.2,2523.9L1425.2,2523.3L1423.2,2522.8L1421.2,2522.2L1419.2,2521.5L1417.2,2520.8L1415.2,2520.1L1413.2,2519.3L1411.2,2518.5L1409.2,2517.6L1407.2,2516.7L1405.2,2515.9L1403.2,2515.1L1401.2,2514.5L1399.2,2513.9L1397.2,2513.5L1395.2,2513.1L1393.2,2512.8L1391.2,2512.6L1389.1,2512.3L1387.1,2512.1L1385.1,2511.9L1383.1,2511.7L1381.1,2511.6L1379.1,2511.5L1377.1,2511.4L1375.1,2511.4L1373.1,2511.4L1371.1,2511.4L1369.1,2511.4L1367.1,2511.4L1365.1,2511.3L1363.1,2511.1L1361.1,2510.8L1359.1,2510.4L1357.1,2510.1L1355.1,2509.7L1353.1,2509.4L1351.1,2509.1L1349.1,2508.8L1347.1,2508.5L1345.1,2508.1L1343.1,2507.7L1341.1,2507.2L1339.1,2506.6L1337.1,2505.9L1335.1,2505.1L1333.1,2504.2L1331.1,2503.4L1329.1,2502.5L1327.1,2501.7L1325.1,2500.9L1323.1,2500.1L1321.1,2499.4L1319.1,2498.6L1317.1,2497.9L1315.1,2497.2L1313.1,2496.3L1311.1,2495.2L1309.1,2493.8L1307.1,2492L1305,2489.6L1303,2485.9L1301,2480.9L1299,2474.4L1297,2467.1L1295,2459.4L1293,2451.4L1291,2443.3Z" fill="#b3b3b3" fill-opacity="0.85"/>
<path d="M1291,2435.2L1293,2442L1295,2448.6L1297,2455L1299,2460.9L1301,2466.1L1303,2470.6L1305,2474.1L1307.1,2477L1309.1,2479.2L1311.1,2480.9L1313.1,2482.1L1315.1,2482.9L1317.1,2483.4L1319.1,2483.9L1321.1,2484.4L1323.1,2484.9L1325.1,2485.5L1327.1,2486.1L1329.1,2486.7L1331.1,2487.4L1333.1,2488.1L1335.1,2488.9L1337.1,2489.7L1339.1,2490.5L1341.1,2491.3L1343.1,2492L1345.1,2492.8L1347.1,2493.5L1349.1,2494.1L1351.1,2494.7L1353.1,2495.3L1355.1,2495.7L1357.1,2496.2L1359.1,2496.5L1361.1,2496.8L1363.1,2497.1L1365.1,2497.3L1367.1,2497.4L1369.1,2497.4L1371.1,2497.4L1373.1,2497.4L1375.1,2497.4L1377.1,2497.3L1379.1,2497.3L1381.1,2497.3L1383.1,2497.2L1385.1,2497.2L1387.1,2497.3L1389.1,2497.4L1391.2,2497.5L1393.2,2497.8L1395.2,2498.1L1397.2,2498.4L1399.2,2498.9L1401.2,2499.4L1403.2,2500.1L1405.2,2500.9L1407.2,2501.7L1409.2,2502.6L1411.2,2503.5L1413.2,2504.3L1415.2,2505.1L1417.2,2505.8L1419.2,2506.5L1421.2,2507.1L1423.2,2507.8L1425.2,2508.3L1427.2,2508.9L1429.2,2509.4L1431.2,2509.9L1433.2,2510.2L1435.2,2510.3L1437.2,2510.1L1439.2,2509.6L1441.2,2508.8L1443.2,2507.8L1445.2,2506.7L1447.2,2505.5L1449.2,2504.3L1451.2,2503.1L1453.2,2501.9L1455.2,2500.7L1457.2,2499.5L1459.2,2498.4L1461.2,2497.5L1463.2,2496.7L1465.2,2496.2L1467.2,2495.7L1469.2,2495.2L1471.2,2494.8L1473.2,2494.3L1475.3,2493.7L1477.3,2493.1L1479.3,2492.5L1481.3,2491.8L1483.3,2491.1L1485.3,2490.2L1487.3,2489.3L1489.3,2488.3L1491.3,2487.1L1493.3,2485.7L1495.3,2484.1L1497.3,2482.2L1499.3,2480.2L1501.3,2478L1503.3,2475.6L1505.3,2473.3L1507.3,2470.8L1509.3,2468.4L1511.3,2465.9L1513.3,2463.6L1515.3,2461.5L1517.3,2459.5L1519.3,2457.8L1521.3,2456.2L1523.3,2454.7L1525.3,2453.3L1527.3,2452.1L1529.3,2451.1L1531.3,2450.2L1533.3,2449.7L1535.3,2449.4L1537.3,2449.5L1539.3,2449.7L1541.3,2450.1L1543.3,2450.7L1545.3,2451.4L1547.3,2452.1L1549.3,2453L1551.3,2454L1553.3,2455L1555.3,2456.2L1557.4,2457.3L1559.4,2458.5L1561.4,2459.8L1563.4,2461.1L1565.4,2462.4L1567.4,2463.9L1569.4,2465.3L1571.4,2466.9L1573.4,2468.4L1575.4,2470.1L1577.4,2471.8L1579.4,2473.5L1581.4,2475.3L1583.4,2477.2L1585.4,2479.1L1587.4,2481.1L1589.4,2483.1L1591.4,2485.2L1593.4,2487.4L1595.4,2489.6L1597.4,2491.9L1599.4,2494.2L1601.4,2496.6L1603.4,2498.9L1605.4,2501.3" stroke="#000" stroke-width="5" fill="none" stroke-linecap="butt" stroke-linejoin="round"/>
<path d="M1269,2536.4H1273.3V2536.4H1277.7V2536.2H1282V2535.8H1286.3V2534.8H1290.7V2528.5H1295V2507.8H1299.3V2491.1H1303.6V2483H1308V2481.1H1312.3V2480.3H1316.6V2478.7H1321V2470.4H1325.3V2464.2H1329.6V2462.1H1334V2461.1H1338.3V2460.6H1342.6V2462H1346.9V2464.5H1351.3V2469.1H1355.6V2472H1359.9V2475.7H1364.3V2477.6H1368.6V2479H1372.9V2481.2H1377.3V2483.4H1381.6V2485.5H1385.9V2488.4H1390.2V2490.9H1394.6V2493.9H1398.9V2497.1H1403.2V2499.4H1407.6V2501.5H1411.9V2503.7H1416.2V2505.9H1420.6V2508H1424.9V2509.8H1429.2V2509.8H1433.5V2507.6H1437.9V2503.7H1442.2V2499.3H1446.5V2495.8H1450.9V2493.5H1455.2V2492.3H1459.5V2491.2H1463.9V2490.2H1468.2V2488.8H1472.5V2487H1476.8V2485.9H1481.2V2485.3H1485.5V2485.9H1489.8V2487.6H1494.2V2489H1498.5V2488.5H1502.8V2485.1H1507.2V2475.6H1511.5V2461.4H1515.8V2441.5H1520.1V2433.4H1524.5V2433.4H1528.8V2439.7H1533.1V2449.7H1537.5V2465H1541.8V2475.6H1546.1V2477.9H1550.5V2479.1H1554.8V2478.4H1559.1V2475.8H1563.4V2473.3H1567.8V2472.3H1572.1V2474.1H1576.4V2478.4H1580.8V2484.3H1585.1V2490.5H1589.4V2497H1593.8V2502.8H1598.1V2508.6H1602.4V2514.4H1605.4V2518.3" stroke="#B4A08A" stroke-width="4.3" fill="none" stroke-linejoin="miter"/>
</g></svg>
<rect x="1266.2" y="2227.5" width="340.5" height="326.5" fill="none" stroke="#333" stroke-width="2"/>
<text x="1436.5" y="2205.8" text-anchor="middle" font-size="21" fill="#1a1a1a" stroke="#1a1a1a">São Paulo</text>
<path d="M1608,2226.5V2555" stroke="#000" stroke-width="4.4"/>
<text x="1628.2" y="2509.7" font-size="21" fill="#000" stroke="#000">10.0%</text>
<text x="1628.2" y="2440.4" font-size="21" fill="#000" stroke="#000">20.0%</text>
<text x="1628.2" y="2371.1" font-size="21" fill="#000" stroke="#000">30.0%</text>
<text x="1628.2" y="2301.8" font-size="21" fill="#000" stroke="#000">40.0%</text>
<path d="M1608,2502.2H1619.8M1608,2432.9H1619.8M1608,2363.6H1619.8M1608,2294.3H1619.8" stroke="#000" stroke-width="4.4"/>
<path d="M1309.5,2554V2566.5M1365.8,2554V2566.5M1422.6,2554V2566.5M1479.5,2554V2566.5M1535.1,2554V2566.5M1591.4,2554V2566.5" stroke="#333" stroke-width="4.4"/>
<text transform="translate(1322.2,2585.3) rotate(-45)" text-anchor="end" font-size="21" fill="#4d4d4d" stroke="#4d4d4d">Apr 20</text>
<text transform="translate(1378.5,2585.3) rotate(-45)" text-anchor="end" font-size="21" fill="#4d4d4d" stroke="#4d4d4d">Jul 20</text>
<text transform="translate(1435.3,2585.3) rotate(-45)" text-anchor="end" font-size="21" fill="#4d4d4d" stroke="#4d4d4d">Oct 20</text>
<text transform="translate(1492.2,2585.3) rotate(-45)" text-anchor="end" font-size="21" fill="#4d4d4d" stroke="#4d4d4d">Jan 21</text>
<text transform="translate(1547.8,2585.3) rotate(-45)" text-anchor="end" font-size="21" fill="#4d4d4d" stroke="#4d4d4d">Apr 21</text>
<text transform="translate(1604.1,2585.3) rotate(-45)" text-anchor="end" font-size="21" fill="#4d4d4d" stroke="#4d4d4d">Jul 21</text>
</g>
<text transform="translate(106.7,658.25) rotate(-90)" text-anchor="middle" font-size="25" fill="#000" stroke="#000">3–wk ICU admissions per ventilator</text>
<text transform="translate(106.9,1983.5) rotate(-90)" text-anchor="middle" font-size="25" fill="#000" stroke="#000">3–wk ICU admissions per intensive care specialist</text>
<text transform="translate(2064.5,658.25) rotate(90)" text-anchor="middle" font-size="25" fill="#000" stroke="#000">age standardised in–hospital fatality rate</text>
<text transform="translate(2064.5,1983.5) rotate(90)" text-anchor="middle" font-size="25" fill="#000" stroke="#000">age standardised in–hospital fatality rate</text>
<text x="-4.2" y="28" font-size="52" font-weight="bold" fill="#000" stroke="#000">a</text>
<text x="-0.8" y="1386.6" font-size="52.5" font-weight="bold" fill="#000" stroke="#000">b</text>
</svg></body></html>
